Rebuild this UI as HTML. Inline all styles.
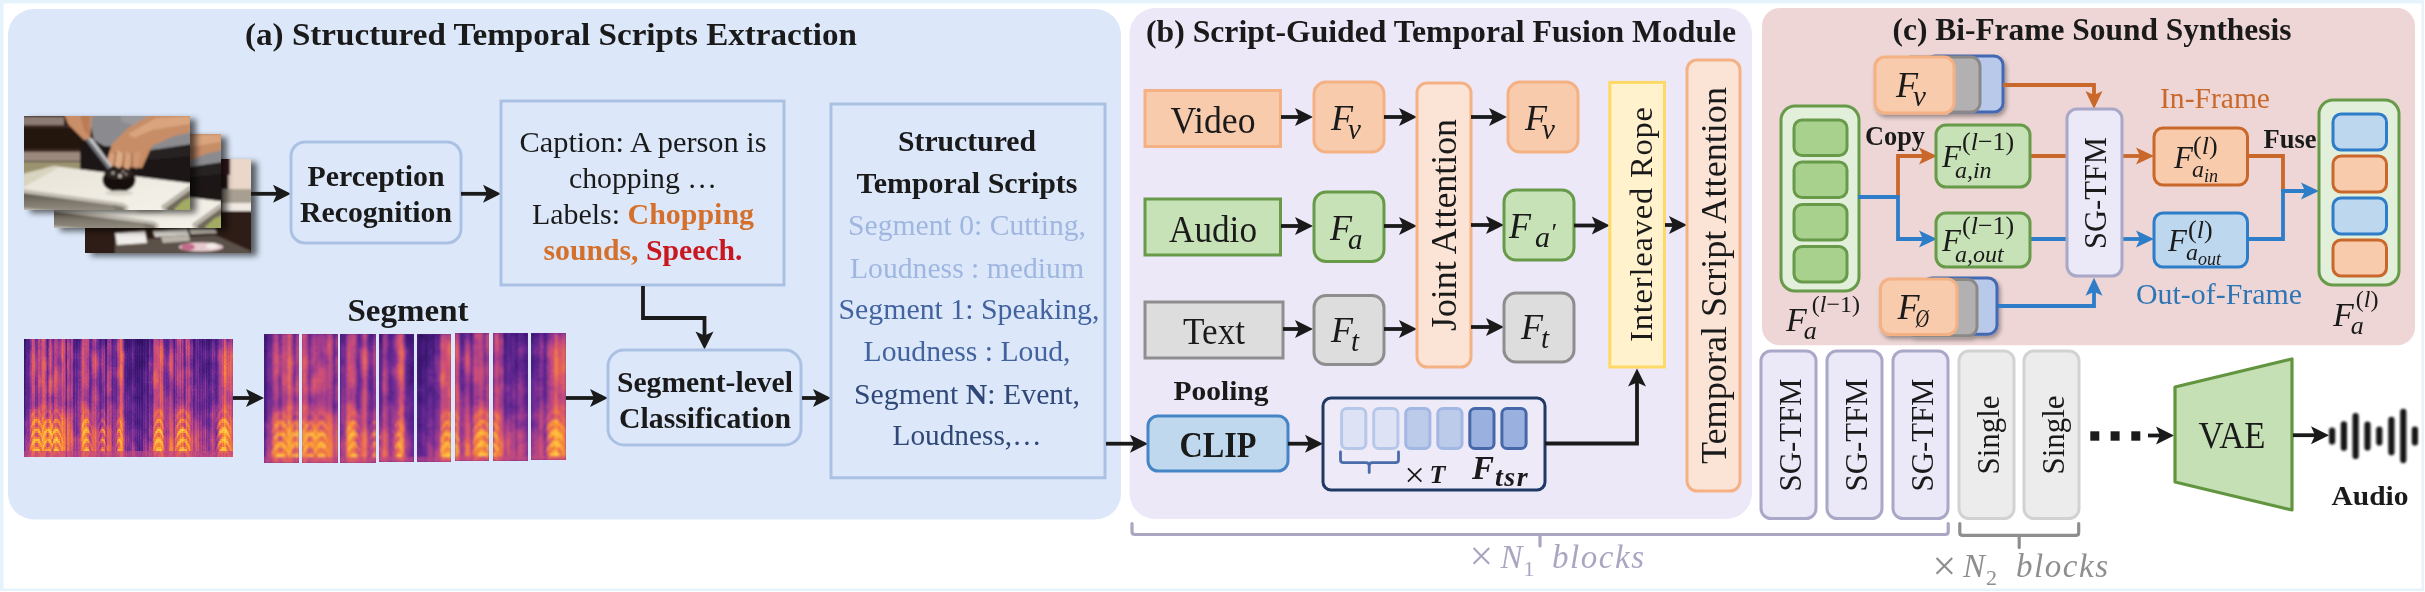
<!DOCTYPE html>
<html><head><meta charset="utf-8"><title>figure</title>
<style>
html,body{margin:0;padding:0;background:#ffffff;}
body{width:2425px;height:592px;overflow:hidden;}
svg{display:block;will-change:transform;font-family:"Liberation Serif",serif;}
</style></head><body>
<svg width="2425" height="592" viewBox="0 0 2425 592">
<defs>
<filter id="sh" x="-20%" y="-20%" width="150%" height="150%"><feGaussianBlur in="SourceAlpha" stdDeviation="3"/><feOffset dx="6" dy="3"/><feComponentTransfer><feFuncA type="linear" slope="0.6"/></feComponentTransfer><feMerge><feMergeNode/><feMergeNode in="SourceGraphic"/></feMerge></filter>
<filter id="sh2" x="-20%" y="-20%" width="150%" height="150%"><feGaussianBlur in="SourceAlpha" stdDeviation="2"/><feOffset dx="2" dy="3"/><feComponentTransfer><feFuncA type="linear" slope="0.35"/></feComponentTransfer><feMerge><feMergeNode/><feMergeNode in="SourceGraphic"/></feMerge></filter>
<filter id="b0"><feGaussianBlur stdDeviation="0.5"/></filter>
<filter id="b1"><feGaussianBlur stdDeviation="0.8"/></filter>
<filter id="b2"><feGaussianBlur stdDeviation="1.2"/></filter>
</defs>
<rect x="0" y="0" width="2425" height="592" fill="#ffffff" />
<path d="M0 0H2424V591H0Z M3.5 3.5V588.5H2421.5V3.5Z" fill="#e5f4fc" fill-rule="evenodd"/>
<rect x="8" y="9" width="1113" height="510.5" fill="#dce8fa" rx="26" ry="26" />
<rect x="1129.5" y="8" width="622.5" height="511" fill="#ece8f8" rx="26" ry="26" />
<rect x="1762" y="8" width="653" height="337.3" fill="#edd6d5" rx="18" ry="18" />
<text x="551" y="45" font-size="31" text-anchor="middle" fill="#1a1a1a" font-weight="bold" textLength="612" lengthAdjust="spacingAndGlyphs" >(a) Structured Temporal Scripts Extraction</text>
<defs>
<clipPath id="fc"><rect x="0" y="0" width="166" height="94"/></clipPath>
<linearGradient id="steel" x1="0" y1="0" x2="0" y2="1"><stop offset="0" stop-color="#5d584e"/><stop offset="0.5" stop-color="#7d776c"/><stop offset="1" stop-color="#969085"/></linearGradient>
<linearGradient id="board" x1="0" y1="0" x2="1" y2="1"><stop offset="0" stop-color="#e6e2d6"/><stop offset="1" stop-color="#f6f3ec"/></linearGradient>
<g id="kit" clip-path="url(#fc)"><g filter="url(#b1)">
<rect x="-3" y="-3" width="172" height="100" fill="#22120f"/>
<rect x="-2" y="1" width="42" height="8" fill="#8d7c73"/>
<rect x="-2" y="9" width="60" height="3" fill="#3a2620"/>
<rect x="-2" y="36" width="58" height="9" fill="#9a897c"/>
<rect x="-2" y="33" width="58" height="3" fill="#3c2a24"/>
<polygon points="-2,46 56,46 60,58 -2,66" fill="#9b9370"/>
<polygon points="64,-2 168,-2 168,31 128,34 96,32 80,30 70,24" fill="#8b8b8f"/>
<polygon points="96,-2 130,-2 112,10 98,6" fill="#9a9a9e"/>
<polygon points="56,30 62,26 80,30 128,34 168,28 168,72 56,56" fill="#1a1617"/>
<polygon points="120,36 168,30 168,40 126,44" fill="#252021"/>
<polygon points="168,-2 128,-2 104,12 88,28 83,44 90,50 118,52 128,30 150,20 168,16" fill="#c78d66"/>
<polygon points="132,2 166,0 166,8 128,14 110,22 104,18" fill="#d9a47e"/>
<polygon points="86,36 83,46 88,51 94,40" fill="#d6a07a"/>
<polygon points="93,34 91,50 96,53 100,38" fill="#dcaa86"/>
<polygon points="101,36 100,52 105,54 108,38" fill="#d5a07c"/>
<polygon points="109,36 109,50 113,53 117,36" fill="#cf9873"/>
<path d="M92 36 L90 50 M100 37 L99 52 M108 37 L108 52" stroke="#9c6240" stroke-width="1.3" fill="none"/>
<polygon points="40,-2 68,-2 67,12 66,24 60,24 52,16 44,8" fill="#c98f68"/>
<polygon points="56,-2 66,-2 65,20 60,14" fill="#b97b55"/>
<polygon points="61,23 68,22 88,50 84,53" fill="#c4c5c9"/>
<polygon points="61,23 64,22.5 86,51 84,53" fill="#6c6d72"/>
<polygon points="-2,64 22,52 30,50 168,67.5 168,96 -2,96" fill="url(#board)"/>
<polygon points="-2,58 22,52 30,50 34,52 -2,72" fill="#d9d4bf"/>
<ellipse cx="95" cy="64" rx="16.5" ry="12" fill="#15100e"/>
<ellipse cx="95" cy="58" rx="14.5" ry="5.5" fill="#2a211f"/>
<circle cx="89" cy="57" r="1.8" fill="#a89c96"/><circle cx="96" cy="60" r="2" fill="#c2b8b0"/><circle cx="102" cy="58" r="1.6" fill="#8c8079"/><circle cx="99" cy="55.5" r="1.3" fill="#9e928c"/>
<ellipse cx="95" cy="77" rx="14" ry="2.5" fill="#d6d1c6"/>
<polygon points="-2,73 99,87 104,90 104,96 -2,96" fill="#c2bdb3"/>
<polygon points="-2,77 96,90 100,96 -2,96" fill="url(#steel)"/>
<polygon points="-2,92 30,95 40,97 -2,97" fill="#c4c0b8"/>
<polygon points="88,89 100,91 101,96 92,96" fill="#7d776c"/>
<polygon points="137,90 166,69 170,69 170,96 140,96" fill="#b9b4a8"/>
<polygon points="142,92 168,73 170,96 144,96" fill="#6f685b"/>
<polygon points="150,93 160,84 170,80 170,96 152,96" fill="#a3ab62"/>
</g></g>
<g id="kit3" clip-path="url(#fc)"><g filter="url(#b1)">
<rect x="-3" y="-3" width="172" height="100" fill="#2d1a17"/>
<rect x="143" y="-2" width="26" height="50" fill="#ead7ca"/>
<rect x="136" y="-2" width="9" height="18" fill="#3a1d1c"/>
<rect x="137" y="30" width="32" height="16" fill="#a79f92"/>
<rect x="137" y="44" width="32" height="8" fill="#efe9e2"/>
<polygon points="137,52 169,56 169,96 137,96" fill="#2f1a19"/>
<polygon points="30,82 130,76 166,92 166,96 30,96" fill="#5b5149"/>
<polygon points="30,74 60,72 62,84 32,86" fill="#efecea"/>
<polygon points="68,72 102,70 104,76 70,78" fill="#ddd9d2"/>
<polygon points="76,78 104,76 105,82 78,84" fill="#b9b3aa"/>
<polygon points="104,70 130,70 132,74 106,75" fill="#cfc9bd"/>
<ellipse cx="116" cy="88" rx="22" ry="4.5" fill="#e6c9cf"/>
<ellipse cx="103" cy="88" rx="7" ry="3.5" fill="#c46a8a"/>
<ellipse cx="127" cy="87" rx="6" ry="3" fill="#f3ece6"/>
</g></g>
</defs>
<g filter="url(#sh)"><rect x="85" y="159" width="166" height="94" fill="#2d1a17"/></g>
<use href="#kit3" x="85" y="159"/>
<g filter="url(#sh)"><rect x="54" y="134" width="167" height="94" fill="#2b1a15"/></g>
<g transform="translate(54,134) scale(1.006,1)"><use href="#kit"/></g>
<g filter="url(#sh)"><rect x="24" y="116" width="166" height="94" fill="#2b1a15"/></g>
<use href="#kit" x="24" y="116"/>
<defs><clipPath id="cs0"><rect x="24" y="339" width="209" height="118"/></clipPath></defs>
<g clip-path="url(#cs0)"><g filter="url(#b0)" shape-rendering="crispEdges">
<rect x="20" y="335" width="217" height="126" fill="#5a2488" />
<path fill="#2e105e" d="M24 339h1v2h-1zM137 339h1v4h-1zM139 339h1v6h-1zM141 339h1v4h-1zM142 339h1v6h-1z"/>
<path fill="#341366" d="M24 341h1v6h-1zM24 351h1v8h-1zM105 339h1v2h-1zM127 339h1v2h-1zM135 339h1v2h-1zM137 343h1v4h-1zM137 355h1v2h-1zM137 359h1v12h-1zM138 339h1v2h-1zM139 345h1v2h-1zM139 355h1v16h-1zM140 339h1v2h-1zM141 343h1v4h-1zM141 359h1v8h-1zM142 345h1v22h-1zM147 339h1v6h-1z"/>
<path fill="#39166e" d="M24 347h1v4h-1zM24 359h1v4h-1zM24 365h1v6h-1zM24 375h1v6h-1zM24 383h1v6h-1zM24 391h1v2h-1zM25 339h1v4h-1zM105 341h1v2h-1zM106 339h1v4h-1zM125 339h1v8h-1zM127 341h1v6h-1zM129 339h1v2h-1zM130 339h1v2h-1zM131 339h1v2h-1zM135 341h1v4h-1zM135 359h1v4h-1zM135 365h1v4h-1zM135 371h1v2h-1zM135 375h1v2h-1zM136 339h1v4h-1zM137 347h1v8h-1zM137 357h1v2h-1zM137 371h1v12h-1zM137 395h1v6h-1zM138 341h1v4h-1zM139 347h1v8h-1zM139 371h1v14h-1zM139 395h1v8h-1zM140 341h1v2h-1zM141 347h1v12h-1zM141 367h1v2h-1zM142 367h1v4h-1zM142 389h1v2h-1zM142 393h1v2h-1zM144 339h1v8h-1zM147 345h1v12h-1zM148 339h1v2h-1zM202 339h1v2h-1zM206 339h1v4h-1zM208 339h1v4h-1zM209 339h1v2h-1z"/>
<path fill="#3f1875" d="M24 363h1v2h-1zM24 371h1v4h-1zM24 381h1v2h-1zM24 389h1v2h-1zM24 393h1v22h-1zM25 343h1v4h-1zM25 349h1v4h-1zM25 355h1v4h-1zM74 339h1v2h-1zM76 339h1v8h-1zM77 339h1v2h-1zM100 339h1v4h-1zM105 343h1v4h-1zM106 343h1v4h-1zM125 347h1v2h-1zM126 339h1v6h-1zM127 347h1v4h-1zM127 367h1v2h-1zM127 373h1v2h-1zM127 377h1v6h-1zM128 339h1v8h-1zM129 341h1v6h-1zM129 369h1v10h-1zM130 341h1v2h-1zM130 345h1v2h-1zM130 373h1v2h-1zM130 377h1v2h-1zM131 341h1v4h-1zM131 369h1v6h-1zM133 339h1v2h-1zM134 339h1v2h-1zM135 345h1v2h-1zM135 349h1v10h-1zM135 363h1v2h-1zM135 369h1v2h-1zM135 373h1v2h-1zM135 377h1v6h-1zM135 397h1v2h-1zM136 343h1v2h-1zM136 355h1v14h-1zM137 383h1v12h-1zM137 401h1v4h-1zM137 417h1v8h-1zM138 357h1v2h-1zM138 361h1v6h-1zM139 385h1v10h-1zM139 403h1v6h-1zM139 419h1v6h-1zM139 447h1v4h-1zM140 343h1v4h-1zM140 361h1v6h-1zM141 369h1v6h-1zM141 379h1v22h-1zM142 371h1v18h-1zM142 391h1v2h-1zM142 395h1v8h-1zM143 339h1v8h-1zM143 361h1v2h-1zM144 347h1v20h-1zM145 339h1v4h-1zM146 339h1v2h-1zM147 357h1v6h-1zM147 365h1v2h-1zM147 391h1v2h-1zM148 341h1v8h-1zM148 355h1v2h-1zM193 339h1v4h-1zM194 339h1v8h-1zM199 339h1v2h-1zM202 341h1v6h-1zM202 365h1v6h-1zM204 341h1v2h-1zM206 343h1v6h-1zM206 363h1v10h-1zM207 339h1v2h-1zM208 343h1v6h-1zM208 361h1v6h-1zM208 369h1v2h-1zM209 341h1v6h-1zM209 363h1v2h-1zM211 339h1v2h-1zM216 339h1v2h-1z"/>
<path fill="#471c7d" d="M24 415h1v4h-1zM25 347h1v2h-1zM25 353h1v2h-1zM25 359h1v10h-1zM25 373h1v8h-1zM25 383h1v6h-1zM25 393h1v2h-1zM26 339h1v4h-1zM28 339h1v4h-1zM28 347h1v2h-1zM47 339h1v2h-1zM66 339h1v4h-1zM74 341h1v10h-1zM74 363h1v4h-1zM76 347h1v4h-1zM77 341h1v4h-1zM79 339h1v4h-1zM99 339h1v2h-1zM105 347h1v2h-1zM106 347h1v6h-1zM106 355h1v4h-1zM106 363h1v2h-1zM112 339h1v2h-1zM125 349h1v2h-1zM125 365h1v18h-1zM125 389h1v2h-1zM126 345h1v4h-1zM127 351h1v2h-1zM127 357h1v10h-1zM127 369h1v4h-1zM127 375h1v2h-1zM127 383h1v8h-1zM128 347h1v2h-1zM128 367h1v18h-1zM129 347h1v10h-1zM129 359h1v10h-1zM129 379h1v8h-1zM130 343h1v2h-1zM130 347h1v4h-1zM130 357h1v2h-1zM130 361h1v12h-1zM130 375h1v2h-1zM130 379h1v6h-1zM131 345h1v6h-1zM131 357h1v4h-1zM131 363h1v6h-1zM131 375h1v8h-1zM133 341h1v4h-1zM133 369h1v8h-1zM134 341h1v4h-1zM134 355h1v2h-1zM134 359h1v2h-1zM134 363h1v12h-1zM134 397h1v2h-1zM135 347h1v2h-1zM135 383h1v4h-1zM135 393h1v4h-1zM135 399h1v4h-1zM135 415h1v2h-1zM135 419h1v6h-1zM136 345h1v10h-1zM136 369h1v14h-1zM136 395h1v4h-1zM137 405h1v12h-1zM137 425h1v4h-1zM137 441h1v6h-1zM138 345h1v2h-1zM138 349h1v8h-1zM138 359h1v2h-1zM138 367h1v4h-1zM138 373h1v2h-1zM138 377h1v6h-1zM138 397h1v2h-1zM139 409h1v10h-1zM139 425h1v6h-1zM139 439h1v8h-1zM140 347h1v6h-1zM140 355h1v6h-1zM140 367h1v2h-1zM140 397h1v2h-1zM141 375h1v4h-1zM141 401h1v8h-1zM141 419h1v2h-1zM141 423h1v4h-1zM142 403h1v28h-1zM143 347h1v6h-1zM143 355h1v6h-1zM143 363h1v4h-1zM144 367h1v4h-1zM144 385h1v8h-1zM145 343h1v10h-1zM145 361h1v2h-1zM146 341h1v16h-1zM147 363h1v2h-1zM147 367h1v4h-1zM147 377h1v4h-1zM147 383h1v8h-1zM147 393h1v10h-1zM147 407h1v2h-1zM148 349h1v6h-1zM148 357h1v4h-1zM148 385h1v6h-1zM148 393h1v4h-1zM148 399h1v2h-1zM151 339h1v6h-1zM152 339h1v6h-1zM174 339h1v8h-1zM193 343h1v8h-1zM193 355h1v12h-1zM194 347h1v8h-1zM194 357h1v10h-1zM199 341h1v4h-1zM199 357h1v2h-1zM199 361h1v2h-1zM199 367h1v6h-1zM200 339h1v4h-1zM201 341h1v2h-1zM202 347h1v6h-1zM202 357h1v8h-1zM202 371h1v8h-1zM203 339h1v6h-1zM203 369h1v4h-1zM204 339h1v2h-1zM204 343h1v4h-1zM204 363h1v10h-1zM206 349h1v2h-1zM206 359h1v4h-1zM206 373h1v6h-1zM207 341h1v4h-1zM207 363h1v2h-1zM207 367h1v2h-1zM208 349h1v2h-1zM208 359h1v2h-1zM208 367h1v2h-1zM208 371h1v14h-1zM209 347h1v4h-1zM209 357h1v6h-1zM209 365h1v12h-1zM209 379h1v4h-1zM209 397h1v2h-1zM210 339h1v6h-1zM211 341h1v2h-1zM211 363h1v2h-1zM215 339h1v6h-1zM216 341h1v4h-1zM216 363h1v2h-1z"/>
<path fill="#522186" d="M24 419h1v2h-1zM24 425h1v2h-1zM24 429h1v6h-1zM25 369h1v4h-1zM25 381h1v2h-1zM25 389h1v4h-1zM25 395h1v22h-1zM26 343h1v10h-1zM26 355h1v4h-1zM26 391h1v2h-1zM27 339h1v16h-1zM27 383h1v2h-1zM27 387h1v2h-1zM28 343h1v4h-1zM28 349h1v4h-1zM28 363h1v2h-1zM28 385h1v2h-1zM28 389h1v2h-1zM29 341h1v8h-1zM47 341h1v8h-1zM66 343h1v6h-1zM66 351h1v10h-1zM66 363h1v2h-1zM66 369h1v2h-1zM66 375h1v10h-1zM66 401h1v6h-1zM73 339h1v2h-1zM73 343h1v6h-1zM73 363h1v6h-1zM73 397h1v2h-1zM74 351h1v4h-1zM74 357h1v6h-1zM74 367h1v6h-1zM74 375h1v14h-1zM74 391h1v12h-1zM75 339h1v8h-1zM76 351h1v4h-1zM76 359h1v10h-1zM76 377h1v2h-1zM76 381h1v2h-1zM77 345h1v6h-1zM77 365h1v2h-1zM78 339h1v4h-1zM79 343h1v6h-1zM80 339h1v2h-1zM90 339h1v2h-1zM99 341h1v6h-1zM100 343h1v6h-1zM100 373h1v2h-1zM100 383h1v10h-1zM100 405h1v2h-1zM101 339h1v6h-1zM103 339h1v2h-1zM105 349h1v8h-1zM105 359h1v4h-1zM105 397h1v6h-1zM106 353h1v2h-1zM106 359h1v4h-1zM106 365h1v8h-1zM106 395h1v6h-1zM112 341h1v4h-1zM112 349h1v2h-1zM112 355h1v4h-1zM112 383h1v2h-1zM112 395h1v6h-1zM113 339h1v2h-1zM124 339h1v10h-1zM125 351h1v4h-1zM125 359h1v6h-1zM125 383h1v6h-1zM125 391h1v8h-1zM125 411h1v6h-1zM126 349h1v4h-1zM126 363h1v4h-1zM126 369h1v4h-1zM126 377h1v10h-1zM127 353h1v4h-1zM127 391h1v4h-1zM127 411h1v8h-1zM127 421h1v2h-1zM128 349h1v6h-1zM128 357h1v10h-1zM128 385h1v4h-1zM129 357h1v2h-1zM129 387h1v8h-1zM129 411h1v10h-1zM130 351h1v6h-1zM130 359h1v2h-1zM130 385h1v6h-1zM130 395h1v2h-1zM130 411h1v2h-1zM130 417h1v2h-1zM130 421h1v4h-1zM131 351h1v6h-1zM131 361h1v2h-1zM131 383h1v20h-1zM131 411h1v14h-1zM132 339h1v4h-1zM132 367h1v4h-1zM132 373h1v4h-1zM133 345h1v4h-1zM133 351h1v2h-1zM133 361h1v8h-1zM133 377h1v4h-1zM133 395h1v6h-1zM134 345h1v10h-1zM134 357h1v2h-1zM134 361h1v2h-1zM134 375h1v12h-1zM134 395h1v2h-1zM134 399h1v2h-1zM135 387h1v6h-1zM135 403h1v12h-1zM135 417h1v2h-1zM135 425h1v2h-1zM135 439h1v2h-1zM136 383h1v12h-1zM136 399h1v4h-1zM136 419h1v6h-1zM137 429h1v12h-1zM137 447h1v4h-1zM138 347h1v2h-1zM138 371h1v2h-1zM138 375h1v2h-1zM138 383h1v4h-1zM138 389h1v8h-1zM138 399h1v4h-1zM138 421h1v4h-1zM139 431h1v8h-1zM140 353h1v2h-1zM140 369h1v20h-1zM140 391h1v6h-1zM140 399h1v4h-1zM141 409h1v10h-1zM141 421h1v2h-1zM141 427h1v8h-1zM141 443h1v2h-1zM141 447h1v4h-1zM142 431h1v12h-1zM142 445h1v6h-1zM143 353h1v2h-1zM143 367h1v4h-1zM143 383h1v2h-1zM143 387h1v8h-1zM144 371h1v14h-1zM144 393h1v18h-1zM144 429h1v2h-1zM145 353h1v8h-1zM145 363h1v4h-1zM145 389h1v4h-1zM146 357h1v8h-1zM146 389h1v2h-1zM147 371h1v6h-1zM147 381h1v2h-1zM147 403h1v4h-1zM147 409h1v12h-1zM147 425h1v2h-1zM147 429h1v2h-1zM148 361h1v16h-1zM148 379h1v2h-1zM148 383h1v2h-1zM148 391h1v2h-1zM148 397h1v2h-1zM148 401h1v12h-1zM150 339h1v4h-1zM151 345h1v6h-1zM152 345h1v12h-1zM152 395h1v2h-1zM164 339h1v4h-1zM166 339h1v10h-1zM167 339h1v8h-1zM168 341h1v2h-1zM173 339h1v2h-1zM174 347h1v2h-1zM174 385h1v20h-1zM184 363h1v2h-1zM193 351h1v4h-1zM193 367h1v6h-1zM193 375h1v10h-1zM193 399h1v4h-1zM194 355h1v2h-1zM194 367h1v18h-1zM194 397h1v4h-1zM195 339h1v10h-1zM197 339h1v2h-1zM197 343h1v2h-1zM197 347h1v2h-1zM197 351h1v8h-1zM199 345h1v12h-1zM199 359h1v2h-1zM199 363h1v4h-1zM199 373h1v10h-1zM199 401h1v6h-1zM200 343h1v6h-1zM200 351h1v12h-1zM200 365h1v10h-1zM201 339h1v2h-1zM201 343h1v2h-1zM202 353h1v4h-1zM202 379h1v6h-1zM202 405h1v6h-1zM203 345h1v4h-1zM203 361h1v8h-1zM203 373h1v4h-1zM204 347h1v4h-1zM204 359h1v4h-1zM204 373h1v4h-1zM206 351h1v8h-1zM206 379h1v4h-1zM206 385h1v2h-1zM206 395h1v2h-1zM206 399h1v10h-1zM206 421h1v2h-1zM207 345h1v6h-1zM207 359h1v4h-1zM207 365h1v2h-1zM207 369h1v4h-1zM207 375h1v2h-1zM208 351h1v8h-1zM208 385h1v4h-1zM208 395h1v14h-1zM209 351h1v6h-1zM209 377h1v2h-1zM209 383h1v4h-1zM209 391h1v6h-1zM209 399h1v10h-1zM210 345h1v4h-1zM210 361h1v10h-1zM210 373h1v8h-1zM211 343h1v6h-1zM211 359h1v4h-1zM211 365h1v4h-1zM211 379h1v2h-1zM211 397h1v4h-1zM215 345h1v4h-1zM215 363h1v4h-1zM215 377h1v8h-1zM215 389h1v4h-1zM216 345h1v6h-1zM216 361h1v2h-1zM216 365h1v6h-1zM216 375h1v10h-1zM216 387h1v14h-1zM217 339h1v6h-1z"/>
<path fill="#5d258f" d="M24 421h1v4h-1zM24 427h1v2h-1zM24 435h1v2h-1zM25 417h1v4h-1zM26 353h1v2h-1zM26 359h1v32h-1zM26 393h1v4h-1zM26 401h1v8h-1zM27 355h1v12h-1zM27 369h1v4h-1zM27 375h1v8h-1zM27 385h1v2h-1zM27 389h1v20h-1zM28 353h1v10h-1zM28 365h1v4h-1zM28 371h1v2h-1zM28 375h1v10h-1zM28 387h1v2h-1zM28 391h1v16h-1zM29 339h1v2h-1zM29 349h1v4h-1zM29 387h1v10h-1zM47 349h1v8h-1zM47 371h1v2h-1zM53 339h1v2h-1zM66 349h1v2h-1zM66 361h1v2h-1zM66 365h1v4h-1zM66 371h1v4h-1zM66 385h1v4h-1zM66 393h1v2h-1zM66 397h1v4h-1zM66 407h1v4h-1zM73 341h1v2h-1zM73 349h1v4h-1zM73 359h1v4h-1zM73 369h1v28h-1zM73 399h1v8h-1zM74 355h1v2h-1zM74 373h1v2h-1zM74 389h1v2h-1zM74 403h1v4h-1zM75 347h1v2h-1zM75 361h1v2h-1zM76 355h1v4h-1zM76 369h1v8h-1zM76 379h1v2h-1zM76 383h1v22h-1zM77 351h1v2h-1zM77 359h1v6h-1zM77 367h1v4h-1zM77 377h1v6h-1zM77 385h1v2h-1zM78 343h1v6h-1zM79 349h1v4h-1zM80 341h1v4h-1zM89 387h1v8h-1zM89 397h1v4h-1zM90 341h1v8h-1zM90 363h1v8h-1zM90 375h1v2h-1zM90 379h1v16h-1zM90 401h1v2h-1zM91 339h1v2h-1zM91 345h1v4h-1zM98 343h1v2h-1zM99 347h1v2h-1zM99 375h1v16h-1zM100 349h1v4h-1zM100 369h1v4h-1zM100 375h1v8h-1zM100 393h1v12h-1zM100 407h1v2h-1zM101 345h1v2h-1zM101 385h1v8h-1zM101 401h1v2h-1zM102 339h1v2h-1zM103 341h1v4h-1zM104 339h1v4h-1zM105 357h1v2h-1zM105 363h1v22h-1zM105 387h1v2h-1zM105 391h1v6h-1zM105 403h1v8h-1zM106 373h1v10h-1zM106 393h1v2h-1zM106 401h1v8h-1zM106 411h1v2h-1zM112 345h1v4h-1zM112 351h1v4h-1zM112 359h1v8h-1zM112 369h1v2h-1zM112 375h1v8h-1zM112 385h1v10h-1zM112 401h1v2h-1zM113 341h1v4h-1zM113 353h1v2h-1zM113 357h1v2h-1zM113 379h1v2h-1zM113 397h1v2h-1zM114 339h1v4h-1zM114 385h1v4h-1zM115 339h1v2h-1zM116 339h1v2h-1zM116 353h1v14h-1zM116 381h1v22h-1zM124 349h1v2h-1zM125 355h1v4h-1zM125 399h1v12h-1zM125 417h1v4h-1zM126 353h1v4h-1zM126 359h1v4h-1zM126 367h1v2h-1zM126 373h1v4h-1zM126 387h1v6h-1zM126 415h1v2h-1zM127 395h1v16h-1zM127 419h1v2h-1zM127 423h1v6h-1zM128 355h1v2h-1zM128 389h1v6h-1zM128 411h1v14h-1zM129 395h1v16h-1zM129 421h1v10h-1zM130 391h1v4h-1zM130 397h1v6h-1zM130 409h1v2h-1zM130 413h1v4h-1zM130 419h1v2h-1zM130 425h1v4h-1zM131 403h1v8h-1zM131 425h1v4h-1zM132 343h1v4h-1zM132 363h1v4h-1zM132 371h1v2h-1zM132 377h1v4h-1zM132 397h1v2h-1zM133 349h1v2h-1zM133 353h1v8h-1zM133 381h1v6h-1zM133 391h1v4h-1zM133 401h1v2h-1zM133 413h1v10h-1zM134 387h1v8h-1zM134 401h1v2h-1zM134 409h1v2h-1zM134 413h1v14h-1zM135 427h1v4h-1zM135 435h1v4h-1zM135 441h1v2h-1zM136 403h1v16h-1zM136 425h1v4h-1zM136 439h1v4h-1zM138 387h1v2h-1zM138 403h1v4h-1zM138 409h1v2h-1zM138 413h1v2h-1zM138 417h1v4h-1zM138 425h1v4h-1zM138 445h1v2h-1zM140 389h1v2h-1zM140 403h1v4h-1zM140 409h1v6h-1zM140 419h1v8h-1zM140 447h1v2h-1zM141 435h1v8h-1zM141 445h1v2h-1zM142 443h1v2h-1zM143 371h1v12h-1zM143 385h1v2h-1zM143 395h1v18h-1zM144 411h1v18h-1zM144 431h1v2h-1zM145 367h1v4h-1zM145 383h1v6h-1zM145 393h1v2h-1zM146 365h1v6h-1zM146 375h1v2h-1zM146 383h1v6h-1zM146 391h1v8h-1zM146 405h1v2h-1zM147 421h1v4h-1zM147 427h1v2h-1zM147 431h1v10h-1zM148 377h1v2h-1zM148 381h1v2h-1zM148 413h1v16h-1zM148 431h1v4h-1zM148 437h1v4h-1zM149 339h1v2h-1zM150 343h1v16h-1zM150 395h1v6h-1zM151 351h1v6h-1zM151 395h1v6h-1zM152 357h1v4h-1zM152 389h1v6h-1zM152 397h1v6h-1zM164 343h1v4h-1zM165 339h1v8h-1zM166 349h1v6h-1zM166 373h1v2h-1zM166 377h1v2h-1zM166 381h1v8h-1zM167 347h1v4h-1zM167 387h1v2h-1zM168 339h1v2h-1zM168 343h1v8h-1zM168 385h1v2h-1zM173 341h1v4h-1zM173 391h1v2h-1zM174 349h1v6h-1zM174 357h1v6h-1zM174 377h1v8h-1zM174 405h1v4h-1zM184 339h1v6h-1zM184 347h1v16h-1zM184 365h1v2h-1zM184 387h1v2h-1zM184 391h1v8h-1zM191 363h1v2h-1zM192 339h1v2h-1zM193 373h1v2h-1zM193 385h1v4h-1zM193 391h1v2h-1zM193 395h1v4h-1zM193 403h1v8h-1zM194 385h1v2h-1zM194 393h1v4h-1zM194 401h1v10h-1zM194 413h1v2h-1zM195 349h1v8h-1zM195 359h1v2h-1zM195 363h1v2h-1zM195 379h1v2h-1zM197 341h1v2h-1zM197 345h1v2h-1zM197 349h1v2h-1zM197 359h1v10h-1zM197 371h1v2h-1zM197 375h1v14h-1zM197 391h1v8h-1zM197 401h1v10h-1zM199 383h1v18h-1zM199 407h1v8h-1zM200 349h1v2h-1zM200 363h1v2h-1zM200 375h1v14h-1zM200 403h1v8h-1zM201 345h1v6h-1zM201 355h1v24h-1zM202 385h1v20h-1zM202 411h1v4h-1zM202 417h1v8h-1zM203 349h1v4h-1zM203 355h1v6h-1zM203 377h1v4h-1zM203 405h1v2h-1zM204 351h1v8h-1zM204 377h1v6h-1zM204 399h1v10h-1zM205 339h1v8h-1zM205 361h1v12h-1zM206 383h1v2h-1zM206 387h1v8h-1zM206 397h1v2h-1zM206 409h1v4h-1zM206 415h1v6h-1zM206 423h1v6h-1zM207 351h1v4h-1zM207 357h1v2h-1zM207 373h1v2h-1zM207 377h1v4h-1zM207 401h1v2h-1zM208 389h1v6h-1zM208 409h1v4h-1zM208 417h1v10h-1zM209 387h1v4h-1zM209 409h1v4h-1zM209 419h1v2h-1zM209 423h1v4h-1zM210 349h1v4h-1zM210 355h1v6h-1zM210 371h1v2h-1zM210 381h1v4h-1zM210 393h1v12h-1zM211 349h1v6h-1zM211 357h1v2h-1zM211 369h1v10h-1zM211 381h1v6h-1zM211 393h1v4h-1zM211 401h1v4h-1zM212 339h1v2h-1zM213 339h1v4h-1zM213 363h1v2h-1zM213 367h1v2h-1zM213 381h1v2h-1zM213 397h1v2h-1zM214 339h1v4h-1zM214 363h1v2h-1zM214 379h1v4h-1zM215 349h1v2h-1zM215 357h1v6h-1zM215 367h1v10h-1zM215 385h1v4h-1zM215 393h1v10h-1zM216 351h1v10h-1zM216 371h1v4h-1zM216 385h1v2h-1zM216 401h1v2h-1zM217 345h1v4h-1zM217 365h1v4h-1zM217 377h1v8h-1zM217 387h1v2h-1zM217 397h1v2h-1zM218 339h1v6h-1z"/>
<path fill="#6c2b93" d="M24 437h1v14h-1zM25 421h1v2h-1zM25 427h1v8h-1zM26 397h1v4h-1zM26 409h1v8h-1zM27 367h1v2h-1zM27 373h1v2h-1zM27 409h1v8h-1zM28 369h1v2h-1zM28 373h1v2h-1zM28 407h1v8h-1zM28 417h1v2h-1zM29 353h1v18h-1zM29 377h1v10h-1zM29 397h1v12h-1zM30 343h1v6h-1zM35 339h1v6h-1zM35 381h1v4h-1zM35 397h1v10h-1zM36 339h1v4h-1zM36 345h1v4h-1zM37 339h1v2h-1zM37 395h1v10h-1zM46 339h1v6h-1zM46 349h1v2h-1zM47 357h1v4h-1zM47 365h1v6h-1zM47 373h1v8h-1zM47 383h1v2h-1zM47 393h1v8h-1zM48 339h1v8h-1zM52 339h1v2h-1zM53 341h1v4h-1zM53 347h1v2h-1zM53 355h1v4h-1zM53 397h1v6h-1zM58 339h1v2h-1zM65 403h1v2h-1zM66 389h1v4h-1zM66 395h1v2h-1zM66 411h1v2h-1zM70 339h1v4h-1zM73 353h1v6h-1zM73 407h1v2h-1zM73 421h1v2h-1zM74 407h1v8h-1zM74 417h1v14h-1zM75 349h1v4h-1zM75 359h1v2h-1zM75 363h1v6h-1zM75 377h1v6h-1zM75 393h1v2h-1zM76 405h1v8h-1zM76 417h1v18h-1zM77 353h1v6h-1zM77 371h1v6h-1zM77 383h1v2h-1zM77 387h1v14h-1zM77 427h1v6h-1zM78 349h1v4h-1zM78 361h1v8h-1zM79 353h1v18h-1zM79 375h1v4h-1zM79 381h1v2h-1zM79 385h1v4h-1zM80 345h1v6h-1zM89 339h1v2h-1zM89 343h1v6h-1zM89 357h1v16h-1zM89 375h1v2h-1zM89 379h1v8h-1zM89 395h1v2h-1zM89 401h1v6h-1zM90 349h1v6h-1zM90 357h1v6h-1zM90 371h1v4h-1zM90 377h1v2h-1zM90 395h1v6h-1zM90 403h1v4h-1zM91 341h1v4h-1zM91 349h1v2h-1zM91 377h1v10h-1zM96 347h1v2h-1zM97 339h1v12h-1zM98 339h1v4h-1zM98 345h1v6h-1zM99 349h1v8h-1zM99 367h1v8h-1zM99 391h1v6h-1zM99 401h1v10h-1zM99 419h1v2h-1zM100 353h1v10h-1zM100 365h1v4h-1zM100 409h1v2h-1zM100 413h1v6h-1zM100 425h1v4h-1zM101 347h1v2h-1zM101 373h1v12h-1zM101 393h1v8h-1zM101 403h1v6h-1zM102 341h1v4h-1zM103 345h1v2h-1zM103 391h1v2h-1zM103 395h1v8h-1zM104 343h1v2h-1zM105 385h1v2h-1zM105 389h1v2h-1zM105 411h1v2h-1zM105 419h1v2h-1zM106 383h1v10h-1zM106 409h1v2h-1zM106 413h1v4h-1zM106 421h1v4h-1zM111 339h1v6h-1zM111 355h1v6h-1zM111 397h1v2h-1zM112 367h1v2h-1zM112 371h1v4h-1zM112 403h1v2h-1zM112 417h1v2h-1zM112 425h1v2h-1zM113 345h1v8h-1zM113 355h1v2h-1zM113 359h1v8h-1zM113 377h1v2h-1zM113 381h1v16h-1zM113 399h1v2h-1zM114 343h1v24h-1zM114 377h1v8h-1zM114 389h1v14h-1zM115 341h1v4h-1zM115 351h1v16h-1zM115 379h1v24h-1zM116 341h1v4h-1zM116 351h1v2h-1zM116 367h1v4h-1zM116 377h1v4h-1zM116 403h1v6h-1zM123 339h1v2h-1zM124 365h1v34h-1zM124 403h1v2h-1zM124 409h1v6h-1zM125 421h1v12h-1zM125 447h1v2h-1zM126 357h1v2h-1zM126 393h1v8h-1zM126 407h1v8h-1zM126 417h1v4h-1zM126 423h1v2h-1zM127 429h1v6h-1zM127 447h1v4h-1zM128 395h1v2h-1zM128 399h1v12h-1zM128 425h1v6h-1zM128 447h1v2h-1zM129 431h1v4h-1zM129 439h1v2h-1zM129 447h1v4h-1zM130 403h1v6h-1zM130 429h1v4h-1zM130 435h1v4h-1zM131 429h1v14h-1zM132 347h1v6h-1zM132 359h1v4h-1zM132 381h1v4h-1zM132 391h1v6h-1zM132 399h1v6h-1zM132 411h1v4h-1zM132 419h1v2h-1zM133 387h1v4h-1zM133 403h1v10h-1zM133 423h1v6h-1zM133 439h1v2h-1zM134 403h1v6h-1zM134 411h1v2h-1zM134 427h1v2h-1zM134 437h1v4h-1zM135 431h1v4h-1zM135 443h1v8h-1zM136 429h1v2h-1zM136 433h1v6h-1zM136 443h1v4h-1zM136 449h1v2h-1zM138 407h1v2h-1zM138 411h1v2h-1zM138 415h1v2h-1zM138 429h1v4h-1zM138 435h1v10h-1zM138 447h1v4h-1zM140 407h1v2h-1zM140 415h1v4h-1zM140 427h1v4h-1zM140 435h1v2h-1zM140 439h1v8h-1zM140 449h1v2h-1zM143 413h1v22h-1zM144 433h1v6h-1zM145 371h1v12h-1zM145 395h1v24h-1zM145 429h1v4h-1zM146 371h1v4h-1zM146 377h1v6h-1zM146 399h1v6h-1zM146 407h1v8h-1zM146 419h1v2h-1zM146 423h1v2h-1zM146 427h1v6h-1zM147 441h1v4h-1zM148 429h1v2h-1zM148 435h1v2h-1zM148 441h1v2h-1zM149 341h1v8h-1zM149 355h1v2h-1zM149 393h1v6h-1zM149 401h1v2h-1zM150 371h1v10h-1zM150 383h1v12h-1zM150 401h1v12h-1zM150 423h1v2h-1zM151 357h1v6h-1zM151 367h1v8h-1zM151 385h1v10h-1zM151 401h1v6h-1zM151 409h1v2h-1zM151 413h1v2h-1zM151 421h1v2h-1zM152 361h1v14h-1zM152 383h1v6h-1zM152 403h1v12h-1zM152 417h1v10h-1zM163 339h1v2h-1zM164 347h1v2h-1zM164 351h1v2h-1zM164 371h1v16h-1zM164 389h1v2h-1zM165 347h1v4h-1zM165 373h1v2h-1zM165 377h1v2h-1zM166 355h1v6h-1zM166 367h1v6h-1zM166 375h1v2h-1zM166 379h1v2h-1zM166 389h1v8h-1zM167 351h1v6h-1zM167 373h1v14h-1zM167 389h1v4h-1zM168 351h1v4h-1zM168 377h1v8h-1zM168 387h1v8h-1zM169 339h1v6h-1zM172 339h1v2h-1zM173 345h1v4h-1zM173 385h1v6h-1zM173 393h1v6h-1zM173 401h1v2h-1zM174 355h1v2h-1zM174 363h1v14h-1zM174 409h1v4h-1zM176 385h1v12h-1zM176 401h1v2h-1zM181 397h1v2h-1zM184 345h1v2h-1zM184 367h1v4h-1zM184 377h1v10h-1zM184 389h1v2h-1zM184 399h1v4h-1zM185 359h1v8h-1zM190 339h1v6h-1zM190 359h1v2h-1zM190 363h1v4h-1zM191 339h1v4h-1zM191 359h1v4h-1zM191 365h1v4h-1zM192 341h1v2h-1zM192 359h1v10h-1zM193 389h1v2h-1zM193 393h1v2h-1zM193 411h1v8h-1zM194 387h1v2h-1zM194 391h1v2h-1zM194 411h1v2h-1zM194 415h1v2h-1zM195 357h1v2h-1zM195 361h1v2h-1zM195 365h1v14h-1zM195 381h1v4h-1zM195 403h1v2h-1zM196 339h1v24h-1zM196 379h1v4h-1zM197 369h1v2h-1zM197 373h1v2h-1zM197 389h1v2h-1zM197 399h1v2h-1zM197 411h1v4h-1zM198 339h1v22h-1zM199 415h1v6h-1zM200 389h1v14h-1zM200 411h1v4h-1zM201 351h1v4h-1zM201 379h1v6h-1zM201 401h1v8h-1zM202 415h1v2h-1zM202 425h1v2h-1zM203 353h1v2h-1zM203 381h1v8h-1zM203 391h1v2h-1zM203 399h1v6h-1zM203 407h1v4h-1zM204 383h1v16h-1zM204 409h1v16h-1zM205 347h1v4h-1zM205 359h1v2h-1zM205 373h1v4h-1zM206 413h1v2h-1zM206 429h1v2h-1zM206 439h1v2h-1zM207 355h1v2h-1zM207 381h1v20h-1zM207 403h1v6h-1zM207 419h1v6h-1zM208 413h1v4h-1zM208 427h1v4h-1zM209 413h1v6h-1zM209 421h1v2h-1zM209 427h1v4h-1zM210 353h1v2h-1zM210 385h1v8h-1zM210 405h1v6h-1zM211 355h1v2h-1zM211 387h1v6h-1zM211 405h1v4h-1zM212 341h1v2h-1zM212 363h1v6h-1zM212 379h1v2h-1zM213 343h1v6h-1zM213 357h1v6h-1zM213 365h1v2h-1zM213 369h1v12h-1zM213 383h1v8h-1zM213 393h1v4h-1zM213 399h1v2h-1zM214 343h1v4h-1zM214 349h1v2h-1zM214 361h1v2h-1zM214 365h1v6h-1zM214 373h1v6h-1zM214 383h1v8h-1zM214 393h1v6h-1zM215 351h1v6h-1zM215 403h1v2h-1zM215 429h1v2h-1zM216 403h1v2h-1zM216 431h1v4h-1zM217 349h1v4h-1zM217 359h1v6h-1zM217 369h1v8h-1zM217 385h1v2h-1zM217 389h1v8h-1zM217 399h1v6h-1zM218 345h1v4h-1zM227 339h1v2h-1z"/>
<path fill="#813191" d="M25 423h1v4h-1zM25 435h1v4h-1zM26 417h1v4h-1zM26 427h1v6h-1zM27 417h1v4h-1zM27 425h1v2h-1zM27 431h1v4h-1zM28 415h1v2h-1zM28 419h1v10h-1zM28 431h1v2h-1zM28 435h1v2h-1zM29 371h1v6h-1zM29 409h1v4h-1zM30 339h1v4h-1zM30 349h1v2h-1zM30 383h1v2h-1zM30 387h1v2h-1zM30 391h1v2h-1zM30 395h1v4h-1zM30 401h1v2h-1zM31 345h1v2h-1zM31 403h1v2h-1zM35 345h1v8h-1zM35 377h1v4h-1zM35 385h1v12h-1zM36 343h1v2h-1zM36 349h1v2h-1zM36 377h1v10h-1zM36 389h1v16h-1zM37 341h1v12h-1zM37 377h1v2h-1zM37 381h1v4h-1zM37 387h1v8h-1zM37 405h1v2h-1zM46 345h1v4h-1zM46 351h1v6h-1zM47 361h1v4h-1zM47 381h1v2h-1zM47 385h1v8h-1zM47 401h1v4h-1zM47 413h1v4h-1zM48 347h1v2h-1zM48 351h1v2h-1zM48 355h1v2h-1zM48 371h1v4h-1zM48 397h1v2h-1zM51 397h1v2h-1zM52 341h1v4h-1zM52 395h1v8h-1zM53 345h1v2h-1zM53 349h1v6h-1zM53 359h1v12h-1zM53 393h1v4h-1zM53 403h1v6h-1zM58 341h1v2h-1zM58 357h1v8h-1zM59 339h1v2h-1zM59 361h1v2h-1zM60 339h1v2h-1zM60 359h1v8h-1zM65 339h1v4h-1zM65 353h1v10h-1zM65 399h1v4h-1zM65 405h1v2h-1zM66 413h1v4h-1zM69 339h1v2h-1zM70 343h1v2h-1zM70 355h1v2h-1zM70 359h1v12h-1zM70 373h1v10h-1zM70 399h1v10h-1zM73 409h1v4h-1zM73 415h1v2h-1zM73 419h1v2h-1zM73 423h1v8h-1zM74 415h1v2h-1zM74 431h1v6h-1zM75 353h1v6h-1zM75 369h1v8h-1zM75 383h1v10h-1zM75 395h1v10h-1zM76 413h1v4h-1zM76 435h1v2h-1zM77 401h1v26h-1zM77 433h1v2h-1zM78 353h1v8h-1zM78 369h1v16h-1zM78 387h1v2h-1zM78 431h1v2h-1zM79 371h1v4h-1zM79 379h1v2h-1zM79 383h1v2h-1zM79 389h1v8h-1zM79 399h1v4h-1zM80 351h1v20h-1zM80 377h1v2h-1zM80 381h1v8h-1zM80 391h1v6h-1zM81 339h1v4h-1zM89 341h1v2h-1zM89 349h1v8h-1zM89 373h1v2h-1zM89 377h1v2h-1zM89 407h1v4h-1zM90 355h1v2h-1zM90 407h1v4h-1zM91 351h1v2h-1zM91 361h1v2h-1zM91 367h1v10h-1zM91 387h1v10h-1zM91 401h1v2h-1zM92 339h1v10h-1zM92 379h1v2h-1zM92 383h1v2h-1zM94 347h1v2h-1zM96 341h1v6h-1zM96 379h1v6h-1zM97 351h1v2h-1zM97 377h1v14h-1zM97 407h1v2h-1zM98 373h1v16h-1zM98 421h1v2h-1zM99 357h1v10h-1zM99 397h1v4h-1zM99 411h1v2h-1zM99 415h1v4h-1zM99 421h1v2h-1zM99 427h1v4h-1zM100 363h1v2h-1zM100 411h1v2h-1zM100 419h1v2h-1zM100 423h1v2h-1zM101 349h1v10h-1zM101 367h1v6h-1zM101 413h1v4h-1zM101 423h1v2h-1zM102 345h1v4h-1zM102 383h1v26h-1zM103 347h1v4h-1zM103 353h1v2h-1zM103 381h1v10h-1zM103 393h1v2h-1zM103 403h1v6h-1zM104 345h1v4h-1zM105 413h1v6h-1zM105 421h1v2h-1zM106 417h1v4h-1zM107 339h1v4h-1zM109 341h1v2h-1zM109 355h1v12h-1zM109 397h1v4h-1zM111 345h1v10h-1zM111 361h1v6h-1zM111 379h1v8h-1zM111 391h1v6h-1zM111 399h1v4h-1zM112 405h1v12h-1zM112 419h1v6h-1zM112 427h1v4h-1zM112 435h1v4h-1zM112 441h1v4h-1zM113 367h1v10h-1zM113 401h1v6h-1zM114 367h1v10h-1zM114 403h1v2h-1zM114 407h1v2h-1zM114 413h1v2h-1zM115 345h1v6h-1zM115 367h1v4h-1zM115 375h1v4h-1zM115 403h1v6h-1zM116 345h1v6h-1zM116 371h1v6h-1zM116 409h1v6h-1zM116 417h1v4h-1zM116 429h1v2h-1zM117 385h1v10h-1zM123 341h1v6h-1zM124 351h1v2h-1zM124 359h1v6h-1zM124 399h1v4h-1zM124 405h1v4h-1zM124 415h1v4h-1zM125 433h1v14h-1zM125 449h1v2h-1zM126 401h1v6h-1zM126 421h1v2h-1zM126 425h1v10h-1zM127 435h1v12h-1zM128 397h1v2h-1zM128 431h1v6h-1zM128 443h1v4h-1zM128 449h1v2h-1zM129 435h1v4h-1zM129 441h1v6h-1zM130 433h1v2h-1zM130 439h1v12h-1zM131 443h1v8h-1zM132 353h1v6h-1zM132 385h1v6h-1zM132 405h1v6h-1zM132 415h1v4h-1zM132 421h1v8h-1zM133 429h1v10h-1zM133 441h1v2h-1zM134 429h1v8h-1zM134 441h1v4h-1zM136 431h1v2h-1zM136 447h1v2h-1zM138 433h1v2h-1zM140 431h1v4h-1zM140 437h1v2h-1zM143 435h1v4h-1zM144 439h1v6h-1zM144 447h1v2h-1zM145 419h1v10h-1zM145 433h1v4h-1zM146 415h1v4h-1zM146 421h1v2h-1zM146 425h1v2h-1zM146 433h1v6h-1zM147 445h1v6h-1zM148 443h1v6h-1zM149 349h1v6h-1zM149 357h1v4h-1zM149 371h1v10h-1zM149 383h1v10h-1zM149 399h1v2h-1zM149 403h1v6h-1zM149 411h1v2h-1zM150 359h1v4h-1zM150 365h1v6h-1zM150 381h1v2h-1zM150 413h1v10h-1zM150 425h1v4h-1zM150 437h1v4h-1zM151 363h1v4h-1zM151 375h1v10h-1zM151 407h1v2h-1zM151 411h1v2h-1zM151 415h1v6h-1zM151 423h1v2h-1zM151 439h1v2h-1zM152 375h1v8h-1zM152 415h1v2h-1zM152 427h1v4h-1zM152 435h1v2h-1zM153 339h1v4h-1zM153 395h1v4h-1zM163 341h1v4h-1zM163 375h1v2h-1zM163 379h1v2h-1zM163 383h1v2h-1zM164 349h1v2h-1zM164 353h1v2h-1zM164 357h1v2h-1zM164 363h1v8h-1zM164 387h1v2h-1zM164 391h1v4h-1zM165 351h1v6h-1zM165 367h1v6h-1zM165 375h1v2h-1zM165 379h1v12h-1zM166 361h1v6h-1zM166 397h1v2h-1zM166 431h1v2h-1zM167 357h1v6h-1zM167 365h1v2h-1zM167 369h1v4h-1zM167 393h1v4h-1zM168 355h1v4h-1zM168 371h1v6h-1zM168 395h1v6h-1zM169 345h1v4h-1zM169 381h1v10h-1zM171 339h1v4h-1zM172 341h1v4h-1zM172 383h1v2h-1zM172 389h1v2h-1zM173 349h1v4h-1zM173 377h1v8h-1zM173 399h1v2h-1zM173 403h1v6h-1zM174 413h1v18h-1zM175 339h1v10h-1zM175 389h1v14h-1zM176 339h1v14h-1zM176 361h1v4h-1zM176 381h1v2h-1zM176 397h1v4h-1zM176 403h1v2h-1zM178 397h1v2h-1zM179 397h1v2h-1zM181 343h1v8h-1zM181 357h1v12h-1zM181 389h1v8h-1zM181 399h1v2h-1zM183 339h1v2h-1zM183 343h1v10h-1zM183 355h1v12h-1zM183 393h1v6h-1zM184 371h1v6h-1zM184 403h1v4h-1zM185 349h1v2h-1zM185 353h1v6h-1zM185 367h1v2h-1zM185 373h1v4h-1zM185 379h1v26h-1zM190 345h1v2h-1zM190 349h1v2h-1zM190 353h1v6h-1zM190 361h1v2h-1zM190 367h1v4h-1zM190 377h1v8h-1zM190 403h1v6h-1zM191 343h1v2h-1zM191 347h1v2h-1zM191 351h1v2h-1zM191 355h1v4h-1zM191 369h1v2h-1zM191 377h1v8h-1zM191 391h1v16h-1zM192 343h1v4h-1zM192 351h1v2h-1zM192 355h1v4h-1zM192 369h1v2h-1zM192 395h1v12h-1zM193 419h1v2h-1zM193 423h1v2h-1zM194 389h1v2h-1zM194 417h1v4h-1zM195 385h1v18h-1zM195 405h1v10h-1zM196 363h1v16h-1zM196 383h1v6h-1zM196 397h1v14h-1zM197 415h1v6h-1zM198 361h1v34h-1zM198 397h1v2h-1zM198 401h1v10h-1zM199 421h1v8h-1zM200 415h1v6h-1zM201 385h1v16h-1zM201 409h1v8h-1zM202 427h1v18h-1zM203 389h1v2h-1zM203 393h1v6h-1zM203 411h1v16h-1zM204 425h1v4h-1zM205 351h1v8h-1zM205 377h1v4h-1zM205 397h1v12h-1zM205 423h1v2h-1zM206 431h1v8h-1zM206 441h1v6h-1zM206 449h1v2h-1zM207 409h1v4h-1zM207 415h1v4h-1zM207 425h1v4h-1zM208 431h1v20h-1zM209 431h1v8h-1zM209 441h1v2h-1zM209 445h1v6h-1zM210 411h1v2h-1zM210 417h1v12h-1zM211 409h1v4h-1zM211 419h1v8h-1zM212 343h1v6h-1zM212 361h1v2h-1zM212 369h1v4h-1zM212 375h1v4h-1zM212 381h1v4h-1zM212 393h1v8h-1zM213 349h1v8h-1zM213 391h1v2h-1zM213 401h1v4h-1zM214 347h1v2h-1zM214 351h1v2h-1zM214 357h1v4h-1zM214 371h1v2h-1zM214 391h1v2h-1zM214 399h1v6h-1zM215 405h1v6h-1zM215 423h1v6h-1zM215 431h1v8h-1zM215 445h1v4h-1zM216 405h1v4h-1zM216 411h1v6h-1zM216 423h1v4h-1zM216 435h1v2h-1zM216 441h1v6h-1zM217 353h1v6h-1zM217 405h1v2h-1zM218 349h1v2h-1zM218 363h1v40h-1zM219 339h1v6h-1zM220 339h1v8h-1zM221 339h1v8h-1zM227 341h1v2h-1zM228 339h1v2h-1zM229 339h1v2h-1zM232 339h1v4h-1z"/>
<path fill="#96378f" d="M25 439h1v12h-1zM26 421h1v6h-1zM26 433h1v8h-1zM26 443h1v2h-1zM27 421h1v4h-1zM27 427h1v4h-1zM27 435h1v8h-1zM28 429h1v2h-1zM28 433h1v2h-1zM28 437h1v6h-1zM29 413h1v28h-1zM30 351h1v4h-1zM30 357h1v8h-1zM30 377h1v6h-1zM30 385h1v2h-1zM30 389h1v2h-1zM30 393h1v2h-1zM30 399h1v2h-1zM30 403h1v6h-1zM31 339h1v6h-1zM31 347h1v4h-1zM31 385h1v18h-1zM31 405h1v4h-1zM35 353h1v4h-1zM35 371h1v6h-1zM35 407h1v2h-1zM36 351h1v8h-1zM36 371h1v6h-1zM36 387h1v2h-1zM36 405h1v4h-1zM37 353h1v10h-1zM37 365h1v12h-1zM37 379h1v2h-1zM37 385h1v2h-1zM37 407h1v2h-1zM40 339h1v4h-1zM40 347h1v2h-1zM40 391h1v4h-1zM40 397h1v6h-1zM41 395h1v4h-1zM46 357h1v4h-1zM46 371h1v12h-1zM46 395h1v6h-1zM47 405h1v4h-1zM48 349h1v2h-1zM48 353h1v2h-1zM48 357h1v6h-1zM48 365h1v6h-1zM48 375h1v4h-1zM48 393h1v4h-1zM48 399h1v4h-1zM49 339h1v2h-1zM51 339h1v4h-1zM51 395h1v2h-1zM51 399h1v4h-1zM52 345h1v30h-1zM52 393h1v2h-1zM52 403h1v2h-1zM52 411h1v2h-1zM53 371h1v4h-1zM53 377h1v2h-1zM53 391h1v2h-1zM53 409h1v2h-1zM53 415h1v4h-1zM54 339h1v2h-1zM54 397h1v2h-1zM57 339h1v2h-1zM57 359h1v6h-1zM57 397h1v2h-1zM58 343h1v14h-1zM58 365h1v6h-1zM58 391h1v14h-1zM59 341h1v6h-1zM59 349h1v2h-1zM59 355h1v6h-1zM59 363h1v4h-1zM59 393h1v2h-1zM59 397h1v4h-1zM59 403h1v2h-1zM60 341h1v4h-1zM60 355h1v4h-1zM60 367h1v8h-1zM60 389h1v18h-1zM61 363h1v2h-1zM61 397h1v8h-1zM65 343h1v10h-1zM65 363h1v24h-1zM65 389h1v10h-1zM65 407h1v4h-1zM66 417h1v4h-1zM68 339h1v2h-1zM69 341h1v2h-1zM69 367h1v2h-1zM69 375h1v2h-1zM69 379h1v2h-1zM69 401h1v6h-1zM70 345h1v10h-1zM70 357h1v2h-1zM70 371h1v2h-1zM70 383h1v16h-1zM70 409h1v4h-1zM71 401h1v6h-1zM72 341h1v2h-1zM72 363h1v8h-1zM72 379h1v2h-1zM72 397h1v2h-1zM72 401h1v4h-1zM73 413h1v2h-1zM73 417h1v2h-1zM73 431h1v2h-1zM73 449h1v2h-1zM74 441h1v10h-1zM75 405h1v8h-1zM75 415h1v4h-1zM75 421h1v14h-1zM76 437h1v14h-1zM77 435h1v2h-1zM77 445h1v6h-1zM78 385h1v2h-1zM78 389h1v12h-1zM78 403h1v4h-1zM78 411h1v2h-1zM78 417h1v4h-1zM78 425h1v6h-1zM79 397h1v2h-1zM79 403h1v20h-1zM79 425h1v10h-1zM80 371h1v6h-1zM80 379h1v2h-1zM80 389h1v2h-1zM80 397h1v4h-1zM80 403h1v2h-1zM80 413h1v2h-1zM81 343h1v4h-1zM81 391h1v2h-1zM84 395h1v6h-1zM85 397h1v2h-1zM86 397h1v2h-1zM87 359h1v2h-1zM87 363h1v2h-1zM87 391h1v12h-1zM88 391h1v12h-1zM90 411h1v2h-1zM90 419h1v4h-1zM90 427h1v2h-1zM91 353h1v8h-1zM91 363h1v4h-1zM91 397h1v4h-1zM91 403h1v6h-1zM91 423h1v2h-1zM92 349h1v2h-1zM92 375h1v4h-1zM92 381h1v2h-1zM92 385h1v6h-1zM93 341h1v2h-1zM93 345h1v6h-1zM93 379h1v6h-1zM94 341h1v6h-1zM94 349h1v2h-1zM94 379h1v8h-1zM96 339h1v2h-1zM96 349h1v4h-1zM96 377h1v2h-1zM96 385h1v2h-1zM96 405h1v4h-1zM96 417h1v2h-1zM97 353h1v4h-1zM97 369h1v8h-1zM97 391h1v4h-1zM97 401h1v6h-1zM97 409h1v16h-1zM98 351h1v8h-1zM98 369h1v4h-1zM98 389h1v24h-1zM98 419h1v2h-1zM98 423h1v2h-1zM99 413h1v2h-1zM99 425h1v2h-1zM99 437h1v4h-1zM99 447h1v2h-1zM100 433h1v6h-1zM100 445h1v2h-1zM101 359h1v8h-1zM101 409h1v4h-1zM101 417h1v2h-1zM101 425h1v2h-1zM102 349h1v4h-1zM102 373h1v10h-1zM103 351h1v2h-1zM103 355h1v8h-1zM103 365h1v16h-1zM103 413h1v4h-1zM104 349h1v4h-1zM104 381h1v6h-1zM104 395h1v12h-1zM105 427h1v4h-1zM105 437h1v4h-1zM106 425h1v2h-1zM106 431h1v4h-1zM106 441h1v4h-1zM107 343h1v4h-1zM107 349h1v16h-1zM107 397h1v2h-1zM108 339h1v4h-1zM108 349h1v2h-1zM108 353h1v12h-1zM108 397h1v4h-1zM109 339h1v2h-1zM109 343h1v12h-1zM109 367h1v4h-1zM109 395h1v2h-1zM109 401h1v4h-1zM110 339h1v4h-1zM110 351h1v12h-1zM110 365h1v2h-1zM110 395h1v6h-1zM111 367h1v4h-1zM111 373h1v6h-1zM111 387h1v4h-1zM111 403h1v2h-1zM111 421h1v2h-1zM112 431h1v4h-1zM112 439h1v2h-1zM112 445h1v2h-1zM112 449h1v2h-1zM113 407h1v20h-1zM113 429h1v2h-1zM113 433h1v2h-1zM113 441h1v2h-1zM114 405h1v2h-1zM114 409h1v4h-1zM114 415h1v10h-1zM114 427h1v6h-1zM114 439h1v2h-1zM115 371h1v4h-1zM115 409h1v10h-1zM115 421h1v2h-1zM115 425h1v2h-1zM116 415h1v2h-1zM116 421h1v2h-1zM116 427h1v2h-1zM116 449h1v2h-1zM117 339h1v2h-1zM117 357h1v10h-1zM117 379h1v6h-1zM117 395h1v14h-1zM118 387h1v10h-1zM118 399h1v6h-1zM119 389h1v2h-1zM119 393h1v2h-1zM123 347h1v4h-1zM123 393h1v10h-1zM123 411h1v2h-1zM124 353h1v6h-1zM124 419h1v2h-1zM126 435h1v4h-1zM126 441h1v10h-1zM127 451h1v2h-1zM128 437h1v2h-1zM128 441h1v2h-1zM132 429h1v12h-1zM133 443h1v4h-1zM134 445h1v2h-1zM134 449h1v2h-1zM137 451h1v6h-1zM139 451h1v6h-1zM141 451h1v6h-1zM142 451h1v2h-1zM142 455h1v2h-1zM143 439h1v12h-1zM144 445h1v2h-1zM144 449h1v2h-1zM145 437h1v2h-1zM145 441h1v2h-1zM146 439h1v6h-1zM148 449h1v2h-1zM149 361h1v2h-1zM149 365h1v6h-1zM149 381h1v2h-1zM149 409h1v2h-1zM149 413h1v10h-1zM149 439h1v2h-1zM150 363h1v2h-1zM150 429h1v2h-1zM150 433h1v4h-1zM150 441h1v4h-1zM151 425h1v14h-1zM151 441h1v2h-1zM152 431h1v4h-1zM152 437h1v6h-1zM153 343h1v20h-1zM153 389h1v6h-1zM153 399h1v6h-1zM159 339h1v2h-1zM163 345h1v4h-1zM163 367h1v8h-1zM163 377h1v2h-1zM163 381h1v2h-1zM163 385h1v6h-1zM164 355h1v2h-1zM164 359h1v4h-1zM164 395h1v16h-1zM164 423h1v4h-1zM164 433h1v2h-1zM165 357h1v10h-1zM165 391h1v8h-1zM165 403h1v2h-1zM165 431h1v2h-1zM166 399h1v22h-1zM166 427h1v4h-1zM166 433h1v4h-1zM167 363h1v2h-1zM167 367h1v2h-1zM167 397h1v10h-1zM167 409h1v6h-1zM168 359h1v4h-1zM168 365h1v6h-1zM168 401h1v12h-1zM168 431h1v2h-1zM169 349h1v4h-1zM169 375h1v6h-1zM169 391h1v6h-1zM170 339h1v6h-1zM170 383h1v8h-1zM171 343h1v4h-1zM171 381h1v16h-1zM172 345h1v4h-1zM172 381h1v2h-1zM172 385h1v4h-1zM172 391h1v10h-1zM172 403h1v2h-1zM173 353h1v8h-1zM173 363h1v14h-1zM173 409h1v6h-1zM173 417h1v2h-1zM174 431h1v6h-1zM175 349h1v4h-1zM175 361h1v2h-1zM175 383h1v6h-1zM175 403h1v4h-1zM176 353h1v8h-1zM176 365h1v16h-1zM176 383h1v2h-1zM176 405h1v4h-1zM177 393h1v6h-1zM177 401h1v2h-1zM178 387h1v10h-1zM178 399h1v6h-1zM179 389h1v8h-1zM179 399h1v6h-1zM181 339h1v4h-1zM181 351h1v6h-1zM181 369h1v6h-1zM181 377h1v4h-1zM181 383h1v6h-1zM181 401h1v4h-1zM183 341h1v2h-1zM183 353h1v2h-1zM183 367h1v2h-1zM183 379h1v2h-1zM183 383h1v10h-1zM183 399h1v4h-1zM184 407h1v2h-1zM184 415h1v2h-1zM185 339h1v10h-1zM185 351h1v2h-1zM185 369h1v4h-1zM185 377h1v2h-1zM187 357h1v10h-1zM187 377h1v10h-1zM187 397h1v2h-1zM190 347h1v2h-1zM190 351h1v2h-1zM190 371h1v6h-1zM190 385h1v18h-1zM190 409h1v2h-1zM191 345h1v2h-1zM191 349h1v2h-1zM191 353h1v2h-1zM191 371h1v6h-1zM191 385h1v6h-1zM191 407h1v4h-1zM192 347h1v4h-1zM192 353h1v2h-1zM192 371h1v18h-1zM192 391h1v4h-1zM192 407h1v2h-1zM193 421h1v2h-1zM193 425h1v8h-1zM194 421h1v8h-1zM195 415h1v4h-1zM196 389h1v8h-1zM196 411h1v8h-1zM197 421h1v6h-1zM198 395h1v2h-1zM198 399h1v2h-1zM198 411h1v4h-1zM198 417h1v2h-1zM199 429h1v6h-1zM199 437h1v6h-1zM200 421h1v10h-1zM200 439h1v2h-1zM201 417h1v6h-1zM201 425h1v2h-1zM202 445h1v6h-1zM203 427h1v2h-1zM203 439h1v2h-1zM204 429h1v2h-1zM204 433h1v12h-1zM204 449h1v2h-1zM205 381h1v16h-1zM205 409h1v6h-1zM205 417h1v6h-1zM206 447h1v2h-1zM207 413h1v2h-1zM207 429h1v14h-1zM209 439h1v2h-1zM209 443h1v2h-1zM210 413h1v4h-1zM210 429h1v4h-1zM210 447h1v2h-1zM211 413h1v6h-1zM211 427h1v8h-1zM212 349h1v12h-1zM212 373h1v2h-1zM212 385h1v8h-1zM212 401h1v6h-1zM213 405h1v8h-1zM213 417h1v16h-1zM214 353h1v4h-1zM214 405h1v4h-1zM214 419h1v2h-1zM214 423h1v10h-1zM215 411h1v12h-1zM215 439h1v6h-1zM215 449h1v2h-1zM216 409h1v2h-1zM216 417h1v2h-1zM216 421h1v2h-1zM216 427h1v4h-1zM216 437h1v2h-1zM217 407h1v8h-1zM217 419h1v6h-1zM217 429h1v6h-1zM217 439h1v4h-1zM218 351h1v4h-1zM218 361h1v2h-1zM218 403h1v2h-1zM218 407h1v4h-1zM219 345h1v4h-1zM219 375h1v4h-1zM219 383h1v2h-1zM219 395h1v2h-1zM219 401h1v2h-1zM220 347h1v2h-1zM220 389h1v2h-1zM221 347h1v2h-1zM221 387h1v2h-1zM222 339h1v2h-1zM223 339h1v8h-1zM226 339h1v4h-1zM227 343h1v4h-1zM228 341h1v2h-1zM229 341h1v2h-1zM232 343h1v2h-1zM232 397h1v8h-1zM232 407h1v2h-1z"/>
<path fill="#aa3f88" d="M24 451h1v6h-1zM25 451h1v4h-1zM26 441h1v2h-1zM26 445h1v6h-1zM26 453h1v4h-1zM27 443h1v12h-1zM28 443h1v8h-1zM29 441h1v2h-1zM30 355h1v2h-1zM30 365h1v12h-1zM31 351h1v8h-1zM31 363h1v8h-1zM31 375h1v10h-1zM31 409h1v4h-1zM32 401h1v2h-1zM33 401h1v6h-1zM35 357h1v8h-1zM35 367h1v4h-1zM35 413h1v2h-1zM36 359h1v12h-1zM37 363h1v2h-1zM37 413h1v2h-1zM38 339h1v2h-1zM38 343h1v2h-1zM38 347h1v2h-1zM38 393h1v10h-1zM38 405h1v2h-1zM39 343h1v2h-1zM39 347h1v2h-1zM39 393h1v12h-1zM40 343h1v4h-1zM40 349h1v8h-1zM40 359h1v16h-1zM40 387h1v4h-1zM40 395h1v2h-1zM40 403h1v2h-1zM41 341h1v2h-1zM41 345h1v6h-1zM41 387h1v8h-1zM41 399h1v4h-1zM45 339h1v16h-1zM45 379h1v2h-1zM46 361h1v10h-1zM46 383h1v6h-1zM46 391h1v4h-1zM46 401h1v4h-1zM46 413h1v4h-1zM47 409h1v4h-1zM47 417h1v2h-1zM47 445h1v2h-1zM47 453h1v2h-1zM48 363h1v2h-1zM48 379h1v10h-1zM48 391h1v2h-1zM48 403h1v6h-1zM48 413h1v4h-1zM49 341h1v2h-1zM49 371h1v4h-1zM49 397h1v6h-1zM51 343h1v4h-1zM51 369h1v6h-1zM51 403h1v2h-1zM52 375h1v2h-1zM52 387h1v6h-1zM52 405h1v6h-1zM53 375h1v2h-1zM53 379h1v12h-1zM54 341h1v26h-1zM54 395h1v2h-1zM54 399h1v4h-1zM55 339h1v4h-1zM55 353h1v4h-1zM55 359h1v2h-1zM55 363h1v2h-1zM55 397h1v2h-1zM56 339h1v6h-1zM56 349h1v2h-1zM56 353h1v12h-1zM56 397h1v2h-1zM57 341h1v18h-1zM57 365h1v2h-1zM57 393h1v4h-1zM57 399h1v4h-1zM58 371h1v4h-1zM58 377h1v2h-1zM58 381h1v10h-1zM58 405h1v4h-1zM58 417h1v2h-1zM59 347h1v2h-1zM59 351h1v4h-1zM59 367h1v6h-1zM59 375h1v2h-1zM59 385h1v8h-1zM59 395h1v2h-1zM59 401h1v2h-1zM59 405h1v2h-1zM60 345h1v10h-1zM60 375h1v14h-1zM60 407h1v6h-1zM61 339h1v4h-1zM61 361h1v2h-1zM61 365h1v8h-1zM61 387h1v10h-1zM61 405h1v2h-1zM63 387h1v10h-1zM63 399h1v8h-1zM64 401h1v4h-1zM65 387h1v2h-1zM65 411h1v4h-1zM66 421h1v16h-1zM66 445h1v12h-1zM67 339h1v4h-1zM67 355h1v4h-1zM67 371h1v14h-1zM67 401h1v6h-1zM68 341h1v2h-1zM68 351h1v8h-1zM68 377h1v8h-1zM68 399h1v10h-1zM69 343h1v4h-1zM69 349h1v18h-1zM69 369h1v6h-1zM69 377h1v2h-1zM69 381h1v8h-1zM69 391h1v10h-1zM69 407h1v2h-1zM70 413h1v4h-1zM71 339h1v6h-1zM71 357h1v28h-1zM71 395h1v6h-1zM71 407h1v2h-1zM72 339h1v2h-1zM72 343h1v10h-1zM72 355h1v2h-1zM72 359h1v4h-1zM72 371h1v8h-1zM72 381h1v16h-1zM72 399h1v2h-1zM72 405h1v6h-1zM73 433h1v6h-1zM73 445h1v4h-1zM73 453h1v4h-1zM74 437h1v4h-1zM74 451h1v6h-1zM75 413h1v2h-1zM75 419h1v2h-1zM75 435h1v2h-1zM75 449h1v2h-1zM76 451h1v6h-1zM77 437h1v8h-1zM77 451h1v6h-1zM78 401h1v2h-1zM78 407h1v4h-1zM78 413h1v4h-1zM78 421h1v4h-1zM78 433h1v4h-1zM78 455h1v2h-1zM79 423h1v2h-1zM79 435h1v4h-1zM79 443h1v4h-1zM79 449h1v2h-1zM80 401h1v2h-1zM80 405h1v8h-1zM80 415h1v8h-1zM80 425h1v2h-1zM80 429h1v2h-1zM81 347h1v10h-1zM81 359h1v12h-1zM81 373h1v18h-1zM81 393h1v8h-1zM84 387h1v8h-1zM85 389h1v8h-1zM85 399h1v2h-1zM86 389h1v8h-1zM86 399h1v2h-1zM87 353h1v2h-1zM87 357h1v2h-1zM87 361h1v2h-1zM87 365h1v8h-1zM87 387h1v4h-1zM87 403h1v2h-1zM88 351h1v2h-1zM88 355h1v14h-1zM88 383h1v2h-1zM88 387h1v4h-1zM88 403h1v4h-1zM89 411h1v2h-1zM89 415h1v6h-1zM89 425h1v4h-1zM89 435h1v4h-1zM90 413h1v2h-1zM90 417h1v2h-1zM90 429h1v4h-1zM90 437h1v4h-1zM91 409h1v8h-1zM91 421h1v2h-1zM92 351h1v4h-1zM92 369h1v6h-1zM92 391h1v18h-1zM93 339h1v2h-1zM93 343h1v2h-1zM93 375h1v4h-1zM93 385h1v6h-1zM93 401h1v2h-1zM94 339h1v2h-1zM94 351h1v2h-1zM94 373h1v6h-1zM94 387h1v8h-1zM94 401h1v6h-1zM94 409h1v2h-1zM94 419h1v2h-1zM95 343h1v8h-1zM95 379h1v4h-1zM96 353h1v2h-1zM96 371h1v6h-1zM96 387h1v8h-1zM96 397h1v2h-1zM96 401h1v4h-1zM96 409h1v8h-1zM96 419h1v8h-1zM97 357h1v4h-1zM97 365h1v4h-1zM97 395h1v6h-1zM97 425h1v4h-1zM98 359h1v10h-1zM98 413h1v6h-1zM99 449h1v2h-1zM100 421h1v2h-1zM100 443h1v2h-1zM100 447h1v2h-1zM100 453h1v4h-1zM101 421h1v2h-1zM101 433h1v4h-1zM101 445h1v2h-1zM101 453h1v4h-1zM102 353h1v6h-1zM102 361h1v2h-1zM102 365h1v8h-1zM102 409h1v8h-1zM102 423h1v4h-1zM103 363h1v2h-1zM103 409h1v4h-1zM103 417h1v2h-1zM103 423h1v2h-1zM104 353h1v28h-1zM104 387h1v8h-1zM104 407h1v4h-1zM105 423h1v4h-1zM105 441h1v2h-1zM105 447h1v4h-1zM106 429h1v2h-1zM106 435h1v2h-1zM106 439h1v2h-1zM106 451h1v2h-1zM107 347h1v2h-1zM107 365h1v6h-1zM107 395h1v2h-1zM107 399h1v10h-1zM108 343h1v6h-1zM108 351h1v2h-1zM108 365h1v6h-1zM108 393h1v4h-1zM108 401h1v6h-1zM109 371h1v14h-1zM109 387h1v2h-1zM109 391h1v4h-1zM109 405h1v20h-1zM110 343h1v8h-1zM110 363h1v2h-1zM110 367h1v4h-1zM110 379h1v2h-1zM110 385h1v2h-1zM110 391h1v4h-1zM110 401h1v4h-1zM110 411h1v2h-1zM110 417h1v2h-1zM111 371h1v2h-1zM111 405h1v16h-1zM111 423h1v6h-1zM112 447h1v2h-1zM112 451h1v4h-1zM113 427h1v2h-1zM113 431h1v2h-1zM113 435h1v6h-1zM113 443h1v4h-1zM113 451h1v2h-1zM113 455h1v2h-1zM114 425h1v2h-1zM114 433h1v6h-1zM114 441h1v12h-1zM114 455h1v2h-1zM115 419h1v2h-1zM115 423h1v2h-1zM115 427h1v2h-1zM115 431h1v6h-1zM115 441h1v4h-1zM116 431h1v2h-1zM116 437h1v6h-1zM116 447h1v2h-1zM117 341h1v2h-1zM117 351h1v6h-1zM117 367h1v2h-1zM117 377h1v2h-1zM117 409h1v2h-1zM117 415h1v4h-1zM118 339h1v2h-1zM118 357h1v4h-1zM118 363h1v2h-1zM118 379h1v8h-1zM118 397h1v2h-1zM118 405h1v4h-1zM118 413h1v2h-1zM119 385h1v4h-1zM119 391h1v2h-1zM119 395h1v10h-1zM123 351h1v2h-1zM123 363h1v2h-1zM123 367h1v26h-1zM123 403h1v8h-1zM123 413h1v4h-1zM124 421h1v14h-1zM124 445h1v6h-1zM125 451h1v6h-1zM126 439h1v2h-1zM126 451h1v2h-1zM127 453h1v4h-1zM128 439h1v2h-1zM128 451h1v6h-1zM129 451h1v6h-1zM130 451h1v6h-1zM131 451h1v6h-1zM132 441h1v2h-1zM133 447h1v4h-1zM134 447h1v2h-1zM135 451h1v6h-1zM136 451h1v6h-1zM138 451h1v6h-1zM140 451h1v6h-1zM142 453h1v2h-1zM143 451h1v4h-1zM144 451h1v6h-1zM145 439h1v2h-1zM145 443h1v8h-1zM145 455h1v2h-1zM146 445h1v6h-1zM147 451h1v6h-1zM148 451h1v6h-1zM149 363h1v2h-1zM149 423h1v6h-1zM149 431h1v2h-1zM149 435h1v4h-1zM149 441h1v2h-1zM150 431h1v2h-1zM150 445h1v2h-1zM150 451h1v2h-1zM151 443h1v4h-1zM152 443h1v6h-1zM152 453h1v2h-1zM153 363h1v8h-1zM153 385h1v4h-1zM153 405h1v4h-1zM156 339h1v2h-1zM157 339h1v2h-1zM158 339h1v2h-1zM158 401h1v6h-1zM159 341h1v4h-1zM163 349h1v4h-1zM163 359h1v4h-1zM163 365h1v2h-1zM163 391h1v16h-1zM163 421h1v2h-1zM164 411h1v12h-1zM164 427h1v4h-1zM164 435h1v2h-1zM165 399h1v4h-1zM165 405h1v18h-1zM165 425h1v6h-1zM165 433h1v4h-1zM166 421h1v6h-1zM166 437h1v14h-1zM167 407h1v2h-1zM167 415h1v10h-1zM167 427h1v8h-1zM168 363h1v2h-1zM168 413h1v18h-1zM168 433h1v4h-1zM169 353h1v2h-1zM169 371h1v4h-1zM169 397h1v10h-1zM170 345h1v4h-1zM170 379h1v4h-1zM170 391h1v4h-1zM171 347h1v2h-1zM171 377h1v4h-1zM171 397h1v6h-1zM171 405h1v2h-1zM172 349h1v4h-1zM172 379h1v2h-1zM172 401h1v2h-1zM172 405h1v8h-1zM173 361h1v2h-1zM173 415h1v2h-1zM173 419h1v4h-1zM173 425h1v4h-1zM173 431h1v2h-1zM174 437h1v4h-1zM174 443h1v2h-1zM175 353h1v8h-1zM175 363h1v20h-1zM175 407h1v2h-1zM176 409h1v4h-1zM176 421h1v4h-1zM177 345h1v8h-1zM177 363h1v4h-1zM177 387h1v6h-1zM177 399h1v2h-1zM177 403h1v2h-1zM178 341h1v30h-1zM178 383h1v4h-1zM178 405h1v4h-1zM179 345h1v26h-1zM179 383h1v6h-1zM179 405h1v2h-1zM180 393h1v6h-1zM181 375h1v2h-1zM181 381h1v2h-1zM181 405h1v2h-1zM182 339h1v10h-1zM182 351h1v2h-1zM182 363h1v2h-1zM182 389h1v2h-1zM182 393h1v8h-1zM183 369h1v10h-1zM183 381h1v2h-1zM183 403h1v2h-1zM184 413h1v2h-1zM184 417h1v2h-1zM184 423h1v4h-1zM185 405h1v4h-1zM186 361h1v6h-1zM186 379h1v2h-1zM187 339h1v2h-1zM187 343h1v2h-1zM187 351h1v2h-1zM187 355h1v2h-1zM187 367h1v10h-1zM187 387h1v10h-1zM187 399h1v10h-1zM188 361h1v6h-1zM188 375h1v2h-1zM188 379h1v8h-1zM188 403h1v2h-1zM189 339h1v4h-1zM189 355h1v14h-1zM189 377h1v8h-1zM189 401h1v6h-1zM190 411h1v2h-1zM191 411h1v12h-1zM191 425h1v6h-1zM192 389h1v2h-1zM192 409h1v8h-1zM193 433h1v8h-1zM193 443h1v8h-1zM194 429h1v6h-1zM194 443h1v8h-1zM195 419h1v4h-1zM196 419h1v2h-1zM197 427h1v4h-1zM198 415h1v2h-1zM198 419h1v4h-1zM199 435h1v2h-1zM199 443h1v10h-1zM199 455h1v2h-1zM200 431h1v8h-1zM200 441h1v12h-1zM201 423h1v2h-1zM201 427h1v4h-1zM201 437h1v4h-1zM202 451h1v4h-1zM203 429h1v10h-1zM203 441h1v4h-1zM203 449h1v2h-1zM203 453h1v2h-1zM204 431h1v2h-1zM204 445h1v4h-1zM204 453h1v4h-1zM205 415h1v2h-1zM205 425h1v2h-1zM206 453h1v4h-1zM207 443h1v10h-1zM208 451h1v6h-1zM209 451h1v4h-1zM210 433h1v14h-1zM210 449h1v6h-1zM211 435h1v4h-1zM211 443h1v10h-1zM212 407h1v4h-1zM212 421h1v2h-1zM212 425h1v2h-1zM213 413h1v4h-1zM213 433h1v6h-1zM213 441h1v2h-1zM213 449h1v2h-1zM214 409h1v10h-1zM214 421h1v2h-1zM214 433h1v10h-1zM214 447h1v4h-1zM215 451h1v2h-1zM215 455h1v2h-1zM216 419h1v2h-1zM216 439h1v2h-1zM216 447h1v2h-1zM216 451h1v6h-1zM217 415h1v2h-1zM217 443h1v2h-1zM217 449h1v2h-1zM218 355h1v6h-1zM218 405h1v2h-1zM218 411h1v2h-1zM218 437h1v4h-1zM219 349h1v2h-1zM219 361h1v14h-1zM219 379h1v4h-1zM219 385h1v10h-1zM219 397h1v4h-1zM219 403h1v8h-1zM220 349h1v2h-1zM220 365h1v2h-1zM220 369h1v2h-1zM220 373h1v4h-1zM220 379h1v10h-1zM220 391h1v16h-1zM221 349h1v4h-1zM221 365h1v4h-1zM221 373h1v2h-1zM221 377h1v2h-1zM221 381h1v2h-1zM221 385h1v2h-1zM221 389h1v20h-1zM221 413h1v4h-1zM222 341h1v8h-1zM223 347h1v4h-1zM223 387h1v8h-1zM226 343h1v2h-1zM227 347h1v2h-1zM227 391h1v12h-1zM228 343h1v2h-1zM229 343h1v4h-1zM229 393h1v10h-1zM230 339h1v6h-1zM231 339h1v4h-1zM232 345h1v4h-1zM232 393h1v4h-1zM232 405h1v2h-1zM232 409h1v8h-1z"/>
<path fill="#bd487e" d="M25 455h1v2h-1zM26 451h1v2h-1zM27 455h1v2h-1zM28 451h1v6h-1zM29 443h1v14h-1zM30 409h1v8h-1zM30 423h1v2h-1zM30 433h1v4h-1zM30 453h1v2h-1zM31 359h1v4h-1zM31 371h1v4h-1zM32 393h1v8h-1zM32 403h1v6h-1zM33 339h1v8h-1zM33 383h1v2h-1zM33 393h1v8h-1zM33 407h1v2h-1zM34 339h1v4h-1zM34 345h1v2h-1zM34 379h1v2h-1zM34 383h1v2h-1zM34 393h1v14h-1zM35 365h1v2h-1zM35 409h1v4h-1zM35 415h1v2h-1zM35 425h1v2h-1zM35 453h1v2h-1zM36 409h1v8h-1zM37 409h1v4h-1zM37 415h1v2h-1zM37 425h1v2h-1zM37 433h1v4h-1zM38 341h1v2h-1zM38 345h1v2h-1zM38 349h1v2h-1zM38 353h1v4h-1zM38 363h1v4h-1zM38 369h1v6h-1zM38 387h1v6h-1zM38 403h1v2h-1zM39 339h1v4h-1zM39 345h1v2h-1zM39 349h1v2h-1zM39 355h1v4h-1zM39 361h1v14h-1zM39 387h1v6h-1zM39 405h1v2h-1zM40 357h1v2h-1zM40 375h1v2h-1zM40 385h1v2h-1zM40 405h1v4h-1zM41 339h1v2h-1zM41 343h1v2h-1zM41 351h1v16h-1zM41 369h1v10h-1zM41 383h1v4h-1zM41 403h1v2h-1zM41 409h1v4h-1zM42 397h1v2h-1zM44 349h1v2h-1zM45 355h1v2h-1zM45 371h1v8h-1zM45 381h1v6h-1zM45 393h1v8h-1zM45 415h1v2h-1zM46 389h1v2h-1zM46 405h1v4h-1zM46 417h1v2h-1zM46 453h1v4h-1zM47 423h1v4h-1zM47 435h1v2h-1zM47 443h1v2h-1zM47 451h1v2h-1zM47 455h1v2h-1zM48 389h1v2h-1zM48 409h1v4h-1zM48 417h1v2h-1zM48 453h1v4h-1zM49 343h1v10h-1zM49 355h1v16h-1zM49 375h1v2h-1zM49 393h1v4h-1zM49 403h1v6h-1zM50 339h1v2h-1zM50 397h1v4h-1zM51 347h1v22h-1zM51 375h1v4h-1zM51 391h1v4h-1zM51 405h1v8h-1zM52 377h1v10h-1zM52 413h1v2h-1zM52 419h1v2h-1zM53 411h1v4h-1zM53 419h1v2h-1zM53 455h1v2h-1zM54 367h1v4h-1zM54 391h1v4h-1zM54 403h1v6h-1zM54 415h1v2h-1zM55 343h1v10h-1zM55 357h1v2h-1zM55 361h1v2h-1zM55 365h1v2h-1zM55 393h1v4h-1zM55 399h1v6h-1zM56 345h1v4h-1zM56 351h1v2h-1zM56 365h1v4h-1zM56 391h1v6h-1zM56 399h1v6h-1zM56 413h1v2h-1zM57 367h1v4h-1zM57 385h1v8h-1zM57 403h1v6h-1zM57 413h1v4h-1zM58 375h1v2h-1zM58 379h1v2h-1zM58 409h1v2h-1zM58 413h1v4h-1zM58 425h1v2h-1zM59 373h1v2h-1zM59 377h1v8h-1zM59 407h1v4h-1zM59 417h1v2h-1zM61 343h1v6h-1zM61 355h1v6h-1zM61 373h1v14h-1zM61 407h1v2h-1zM62 397h1v2h-1zM62 401h1v6h-1zM63 339h1v4h-1zM63 361h1v8h-1zM63 373h1v14h-1zM63 397h1v2h-1zM63 407h1v4h-1zM64 339h1v6h-1zM64 355h1v2h-1zM64 359h1v2h-1zM64 369h1v2h-1zM64 381h1v4h-1zM64 387h1v14h-1zM64 405h1v6h-1zM65 415h1v2h-1zM65 453h1v4h-1zM66 437h1v8h-1zM67 343h1v4h-1zM67 349h1v6h-1zM67 359h1v4h-1zM67 367h1v4h-1zM67 385h1v16h-1zM67 407h1v2h-1zM68 343h1v8h-1zM68 359h1v2h-1zM68 365h1v2h-1zM68 369h1v8h-1zM68 385h1v4h-1zM68 391h1v8h-1zM68 409h1v4h-1zM69 347h1v2h-1zM69 389h1v2h-1zM69 409h1v4h-1zM70 417h1v6h-1zM70 447h1v2h-1zM70 451h1v6h-1zM71 345h1v12h-1zM71 385h1v10h-1zM71 409h1v4h-1zM71 451h1v6h-1zM72 353h1v2h-1zM72 357h1v2h-1zM72 411h1v4h-1zM72 419h1v4h-1zM73 439h1v6h-1zM73 451h1v2h-1zM75 437h1v2h-1zM75 441h1v8h-1zM75 451h1v6h-1zM78 437h1v2h-1zM78 441h1v14h-1zM79 439h1v4h-1zM79 447h1v2h-1zM79 451h1v6h-1zM80 423h1v2h-1zM80 427h1v2h-1zM80 431h1v6h-1zM80 447h1v2h-1zM80 451h1v6h-1zM81 357h1v2h-1zM81 371h1v2h-1zM81 401h1v2h-1zM81 413h1v2h-1zM82 339h1v8h-1zM82 387h1v14h-1zM83 389h1v12h-1zM84 339h1v26h-1zM84 367h1v2h-1zM84 371h1v6h-1zM84 383h1v4h-1zM84 401h1v4h-1zM85 339h1v4h-1zM85 345h1v22h-1zM85 369h1v4h-1zM85 385h1v4h-1zM85 401h1v2h-1zM86 341h1v2h-1zM86 345h1v2h-1zM86 351h1v24h-1zM86 385h1v4h-1zM86 401h1v4h-1zM87 339h1v14h-1zM87 355h1v2h-1zM87 373h1v14h-1zM87 405h1v4h-1zM88 339h1v12h-1zM88 353h1v2h-1zM88 369h1v14h-1zM88 385h1v2h-1zM88 407h1v2h-1zM89 413h1v2h-1zM89 429h1v2h-1zM89 439h1v2h-1zM89 445h1v4h-1zM89 455h1v2h-1zM90 415h1v2h-1zM90 425h1v2h-1zM90 441h1v2h-1zM90 447h1v4h-1zM91 417h1v4h-1zM91 431h1v2h-1zM91 441h1v2h-1zM91 451h1v2h-1zM92 355h1v14h-1zM92 409h1v10h-1zM92 421h1v4h-1zM93 351h1v4h-1zM93 369h1v2h-1zM93 373h1v2h-1zM93 391h1v10h-1zM93 403h1v8h-1zM93 415h1v10h-1zM94 353h1v4h-1zM94 369h1v4h-1zM94 395h1v6h-1zM94 407h1v2h-1zM94 411h1v8h-1zM94 421h1v6h-1zM95 339h1v4h-1zM95 351h1v2h-1zM95 377h1v2h-1zM95 383h1v6h-1zM95 403h1v4h-1zM95 409h1v2h-1zM96 355h1v4h-1zM96 361h1v2h-1zM96 367h1v4h-1zM96 395h1v2h-1zM96 399h1v2h-1zM96 427h1v2h-1zM96 451h1v2h-1zM96 455h1v2h-1zM97 361h1v4h-1zM97 429h1v2h-1zM97 433h1v6h-1zM97 443h1v6h-1zM97 451h1v6h-1zM98 425h1v2h-1zM98 429h1v6h-1zM98 439h1v2h-1zM98 451h1v4h-1zM99 423h1v2h-1zM99 431h1v2h-1zM99 435h1v2h-1zM99 445h1v2h-1zM99 451h1v2h-1zM99 455h1v2h-1zM100 429h1v2h-1zM101 427h1v2h-1zM101 443h1v2h-1zM101 451h1v2h-1zM102 359h1v2h-1zM102 363h1v2h-1zM102 417h1v2h-1zM102 453h1v4h-1zM103 425h1v2h-1zM103 453h1v4h-1zM104 415h1v4h-1zM104 455h1v2h-1zM105 431h1v2h-1zM105 451h1v2h-1zM105 455h1v2h-1zM106 427h1v2h-1zM106 437h1v2h-1zM106 445h1v2h-1zM106 449h1v2h-1zM106 453h1v4h-1zM107 371h1v14h-1zM107 389h1v6h-1zM107 409h1v8h-1zM108 371h1v18h-1zM108 391h1v2h-1zM108 407h1v18h-1zM109 385h1v2h-1zM109 389h1v2h-1zM109 425h1v2h-1zM109 455h1v2h-1zM110 371h1v8h-1zM110 381h1v4h-1zM110 387h1v4h-1zM110 405h1v6h-1zM110 413h1v4h-1zM110 419h1v6h-1zM110 455h1v2h-1zM111 429h1v14h-1zM111 451h1v6h-1zM112 455h1v2h-1zM113 447h1v4h-1zM113 453h1v2h-1zM114 453h1v2h-1zM115 429h1v2h-1zM115 437h1v4h-1zM115 445h1v4h-1zM115 451h1v6h-1zM116 423h1v4h-1zM116 451h1v6h-1zM117 343h1v8h-1zM117 369h1v8h-1zM117 411h1v4h-1zM117 425h1v4h-1zM117 455h1v2h-1zM118 341h1v2h-1zM118 353h1v4h-1zM118 361h1v2h-1zM118 365h1v6h-1zM118 377h1v2h-1zM118 409h1v4h-1zM118 415h1v2h-1zM118 455h1v2h-1zM119 339h1v4h-1zM119 351h1v6h-1zM119 359h1v8h-1zM119 381h1v4h-1zM119 405h1v4h-1zM119 413h1v4h-1zM122 339h1v10h-1zM122 393h1v2h-1zM122 397h1v2h-1zM123 361h1v2h-1zM123 365h1v2h-1zM123 417h1v4h-1zM124 435h1v10h-1zM124 451h1v6h-1zM126 453h1v4h-1zM132 443h1v14h-1zM133 451h1v6h-1zM134 451h1v6h-1zM143 455h1v2h-1zM145 451h1v4h-1zM146 451h1v6h-1zM149 429h1v2h-1zM149 433h1v2h-1zM149 443h1v4h-1zM149 449h1v4h-1zM149 455h1v2h-1zM150 447h1v4h-1zM150 453h1v4h-1zM151 447h1v10h-1zM152 449h1v4h-1zM152 455h1v2h-1zM153 371h1v6h-1zM153 381h1v4h-1zM153 409h1v8h-1zM153 421h1v6h-1zM153 455h1v2h-1zM154 339h1v6h-1zM154 353h1v8h-1zM154 389h1v14h-1zM155 339h1v8h-1zM155 357h1v6h-1zM155 389h1v16h-1zM156 341h1v4h-1zM156 351h1v8h-1zM156 361h1v2h-1zM156 365h1v2h-1zM156 389h1v20h-1zM157 341h1v4h-1zM157 389h1v8h-1zM157 399h1v8h-1zM158 341h1v6h-1zM158 371h1v2h-1zM158 385h1v2h-1zM158 389h1v12h-1zM158 407h1v2h-1zM159 345h1v2h-1zM159 369h1v6h-1zM159 377h1v8h-1zM159 387h1v6h-1zM159 397h1v10h-1zM160 339h1v2h-1zM161 339h1v4h-1zM161 371h1v6h-1zM162 339h1v4h-1zM163 353h1v6h-1zM163 363h1v2h-1zM163 407h1v8h-1zM163 419h1v2h-1zM163 423h1v2h-1zM163 431h1v4h-1zM164 431h1v2h-1zM164 437h1v2h-1zM164 443h1v4h-1zM164 453h1v2h-1zM165 423h1v2h-1zM165 437h1v20h-1zM166 451h1v6h-1zM167 425h1v2h-1zM167 435h1v22h-1zM168 437h1v4h-1zM168 443h1v2h-1zM168 451h1v4h-1zM169 355h1v6h-1zM169 367h1v4h-1zM169 407h1v10h-1zM169 419h1v2h-1zM169 425h1v2h-1zM169 431h1v2h-1zM170 349h1v4h-1zM170 375h1v4h-1zM170 395h1v14h-1zM171 349h1v4h-1zM171 375h1v2h-1zM171 403h1v2h-1zM171 407h1v8h-1zM172 353h1v2h-1zM172 373h1v6h-1zM172 413h1v8h-1zM173 423h1v2h-1zM173 429h1v2h-1zM173 433h1v6h-1zM173 451h1v4h-1zM174 441h1v2h-1zM174 445h1v12h-1zM175 409h1v6h-1zM175 417h1v2h-1zM175 421h1v4h-1zM176 413h1v2h-1zM176 419h1v2h-1zM177 341h1v4h-1zM177 353h1v10h-1zM177 367h1v8h-1zM177 381h1v6h-1zM177 405h1v4h-1zM178 339h1v2h-1zM178 371h1v12h-1zM178 409h1v2h-1zM179 339h1v6h-1zM179 371h1v12h-1zM179 407h1v2h-1zM180 353h1v6h-1zM180 361h1v8h-1zM180 387h1v6h-1zM180 399h1v6h-1zM181 407h1v2h-1zM181 423h1v2h-1zM182 349h1v2h-1zM182 353h1v10h-1zM182 365h1v6h-1zM182 381h1v8h-1zM182 391h1v2h-1zM182 401h1v4h-1zM183 405h1v2h-1zM183 423h1v2h-1zM184 409h1v4h-1zM184 453h1v4h-1zM185 409h1v2h-1zM185 415h1v4h-1zM185 425h1v2h-1zM186 355h1v6h-1zM186 367h1v4h-1zM186 375h1v4h-1zM186 381h1v20h-1zM187 341h1v2h-1zM187 345h1v6h-1zM187 353h1v2h-1zM187 409h1v2h-1zM188 339h1v4h-1zM188 355h1v6h-1zM188 367h1v8h-1zM188 377h1v2h-1zM188 387h1v2h-1zM188 391h1v12h-1zM188 405h1v2h-1zM189 343h1v4h-1zM189 349h1v6h-1zM189 369h1v2h-1zM189 375h1v2h-1zM189 385h1v16h-1zM189 407h1v4h-1zM190 413h1v6h-1zM190 423h1v6h-1zM191 423h1v2h-1zM191 431h1v2h-1zM192 417h1v14h-1zM192 451h1v4h-1zM193 441h1v2h-1zM193 451h1v6h-1zM194 435h1v8h-1zM194 451h1v6h-1zM195 423h1v8h-1zM196 421h1v4h-1zM196 427h1v2h-1zM196 451h1v6h-1zM197 431h1v10h-1zM197 443h1v2h-1zM197 447h1v10h-1zM198 423h1v6h-1zM198 451h1v6h-1zM199 453h1v2h-1zM200 453h1v4h-1zM201 431h1v6h-1zM201 441h1v16h-1zM202 455h1v2h-1zM203 445h1v4h-1zM203 451h1v2h-1zM203 455h1v2h-1zM204 451h1v2h-1zM205 427h1v2h-1zM205 437h1v10h-1zM205 451h1v6h-1zM206 451h1v2h-1zM207 453h1v4h-1zM209 455h1v2h-1zM210 455h1v2h-1zM211 439h1v4h-1zM211 453h1v4h-1zM212 411h1v2h-1zM212 417h1v4h-1zM212 423h1v2h-1zM212 427h1v8h-1zM212 451h1v2h-1zM212 455h1v2h-1zM213 439h1v2h-1zM213 443h1v6h-1zM213 451h1v6h-1zM214 443h1v4h-1zM214 451h1v6h-1zM215 453h1v2h-1zM216 449h1v2h-1zM217 417h1v2h-1zM217 451h1v4h-1zM218 413h1v2h-1zM218 417h1v6h-1zM218 429h1v2h-1zM219 351h1v10h-1zM220 351h1v14h-1zM220 367h1v2h-1zM220 371h1v2h-1zM220 377h1v2h-1zM220 407h1v4h-1zM220 413h1v6h-1zM221 353h1v12h-1zM221 369h1v4h-1zM221 375h1v2h-1zM221 379h1v2h-1zM221 383h1v2h-1zM221 417h1v2h-1zM222 349h1v2h-1zM222 387h1v4h-1zM222 393h1v2h-1zM223 351h1v4h-1zM223 383h1v4h-1zM223 395h1v10h-1zM223 415h1v2h-1zM225 339h1v2h-1zM226 345h1v4h-1zM226 391h1v10h-1zM227 349h1v2h-1zM227 353h1v2h-1zM227 389h1v2h-1zM227 403h1v2h-1zM228 345h1v4h-1zM228 391h1v10h-1zM229 347h1v8h-1zM229 383h1v10h-1zM229 403h1v2h-1zM229 411h1v4h-1zM230 345h1v4h-1zM230 397h1v4h-1zM231 343h1v4h-1zM231 393h1v14h-1zM231 409h1v2h-1zM232 349h1v2h-1zM232 375h1v12h-1zM232 389h1v4h-1zM232 417h1v2h-1z"/>
<path fill="#d05074" d="M30 417h1v2h-1zM30 421h1v2h-1zM30 425h1v2h-1zM30 431h1v2h-1zM30 441h1v4h-1zM30 451h1v2h-1zM30 455h1v2h-1zM31 413h1v2h-1zM31 419h1v4h-1zM31 429h1v4h-1zM31 451h1v2h-1zM32 339h1v14h-1zM32 375h1v2h-1zM32 379h1v14h-1zM32 409h1v2h-1zM33 347h1v6h-1zM33 371h1v12h-1zM33 385h1v8h-1zM33 409h1v2h-1zM34 343h1v2h-1zM34 347h1v8h-1zM34 375h1v4h-1zM34 381h1v2h-1zM34 385h1v8h-1zM34 407h1v2h-1zM35 423h1v2h-1zM35 433h1v4h-1zM35 443h1v2h-1zM35 451h1v2h-1zM35 455h1v2h-1zM36 423h1v4h-1zM36 433h1v4h-1zM36 451h1v6h-1zM37 417h1v2h-1zM37 423h1v2h-1zM37 443h1v4h-1zM37 451h1v6h-1zM38 351h1v2h-1zM38 357h1v6h-1zM38 367h1v2h-1zM38 375h1v12h-1zM38 407h1v2h-1zM38 455h1v2h-1zM39 351h1v4h-1zM39 359h1v2h-1zM39 375h1v6h-1zM39 383h1v4h-1zM39 407h1v2h-1zM40 377h1v8h-1zM40 409h1v4h-1zM40 417h1v2h-1zM41 367h1v2h-1zM41 379h1v4h-1zM41 405h1v4h-1zM41 413h1v2h-1zM41 451h1v2h-1zM42 341h1v2h-1zM42 345h1v10h-1zM42 387h1v10h-1zM42 399h1v6h-1zM43 341h1v16h-1zM43 393h1v2h-1zM43 397h1v4h-1zM44 341h1v8h-1zM44 351h1v6h-1zM44 397h1v4h-1zM45 357h1v6h-1zM45 369h1v2h-1zM45 387h1v6h-1zM45 401h1v4h-1zM45 409h1v2h-1zM45 413h1v2h-1zM45 417h1v2h-1zM45 455h1v2h-1zM46 409h1v4h-1zM46 451h1v2h-1zM47 433h1v2h-1zM48 423h1v2h-1zM48 443h1v4h-1zM48 451h1v2h-1zM49 353h1v2h-1zM49 377h1v4h-1zM49 389h1v4h-1zM49 409h1v2h-1zM49 413h1v4h-1zM49 453h1v4h-1zM50 341h1v10h-1zM50 367h1v6h-1zM50 395h1v2h-1zM50 401h1v6h-1zM50 453h1v2h-1zM51 379h1v2h-1zM51 387h1v4h-1zM52 417h1v2h-1zM52 421h1v2h-1zM52 449h1v4h-1zM53 425h1v2h-1zM53 445h1v2h-1zM54 371h1v6h-1zM54 383h1v2h-1zM54 387h1v4h-1zM54 409h1v2h-1zM54 413h1v2h-1zM54 417h1v2h-1zM54 455h1v2h-1zM55 367h1v2h-1zM55 387h1v6h-1zM55 405h1v4h-1zM55 413h1v4h-1zM55 455h1v2h-1zM56 369h1v2h-1zM56 383h1v8h-1zM56 405h1v4h-1zM56 415h1v2h-1zM56 423h1v2h-1zM56 453h1v4h-1zM57 371h1v14h-1zM57 417h1v2h-1zM57 423h1v4h-1zM57 453h1v4h-1zM58 411h1v2h-1zM58 427h1v2h-1zM58 453h1v4h-1zM59 411h1v2h-1zM59 415h1v2h-1zM59 419h1v2h-1zM59 455h1v2h-1zM60 413h1v2h-1zM60 419h1v4h-1zM60 451h1v2h-1zM61 349h1v6h-1zM61 409h1v4h-1zM61 451h1v4h-1zM62 339h1v2h-1zM62 363h1v6h-1zM62 371h1v2h-1zM62 383h1v14h-1zM62 399h1v2h-1zM62 407h1v2h-1zM63 343h1v18h-1zM63 369h1v4h-1zM63 411h1v2h-1zM63 451h1v2h-1zM63 455h1v2h-1zM64 345h1v10h-1zM64 357h1v2h-1zM64 361h1v8h-1zM64 371h1v10h-1zM64 385h1v2h-1zM64 411h1v2h-1zM64 451h1v2h-1zM65 417h1v2h-1zM65 451h1v2h-1zM67 347h1v2h-1zM67 363h1v4h-1zM67 409h1v4h-1zM67 451h1v6h-1zM68 361h1v4h-1zM68 367h1v2h-1zM68 389h1v2h-1zM68 413h1v2h-1zM68 451h1v6h-1zM69 413h1v4h-1zM69 419h1v2h-1zM69 451h1v6h-1zM70 423h1v6h-1zM70 443h1v4h-1zM70 449h1v2h-1zM71 413h1v4h-1zM71 419h1v2h-1zM71 423h1v2h-1zM72 415h1v4h-1zM72 423h1v6h-1zM72 451h1v6h-1zM75 439h1v2h-1zM78 439h1v2h-1zM80 437h1v2h-1zM80 441h1v6h-1zM80 449h1v2h-1zM81 403h1v10h-1zM81 415h1v2h-1zM81 451h1v6h-1zM82 347h1v6h-1zM82 355h1v6h-1zM82 363h1v8h-1zM82 375h1v12h-1zM82 401h1v2h-1zM82 451h1v2h-1zM83 339h1v4h-1zM83 345h1v2h-1zM83 355h1v2h-1zM83 383h1v6h-1zM83 401h1v2h-1zM84 365h1v2h-1zM84 369h1v2h-1zM84 377h1v6h-1zM84 405h1v4h-1zM84 413h1v4h-1zM85 343h1v2h-1zM85 367h1v2h-1zM85 373h1v12h-1zM85 403h1v4h-1zM85 453h1v2h-1zM86 339h1v2h-1zM86 343h1v2h-1zM86 347h1v4h-1zM86 375h1v10h-1zM86 405h1v2h-1zM87 413h1v2h-1zM88 455h1v2h-1zM89 423h1v2h-1zM89 453h1v2h-1zM90 423h1v2h-1zM90 435h1v2h-1zM90 451h1v6h-1zM91 425h1v2h-1zM91 429h1v2h-1zM91 433h1v2h-1zM91 439h1v2h-1zM91 443h1v2h-1zM91 453h1v4h-1zM92 419h1v2h-1zM92 425h1v4h-1zM92 451h1v6h-1zM93 355h1v4h-1zM93 361h1v8h-1zM93 371h1v2h-1zM93 411h1v4h-1zM93 425h1v2h-1zM93 451h1v6h-1zM94 357h1v12h-1zM94 427h1v2h-1zM94 451h1v6h-1zM95 353h1v2h-1zM95 373h1v4h-1zM95 389h1v8h-1zM95 399h1v4h-1zM95 407h1v2h-1zM95 411h1v14h-1zM95 453h1v4h-1zM96 359h1v2h-1zM96 363h1v4h-1zM96 429h1v4h-1zM96 443h1v4h-1zM96 449h1v2h-1zM96 453h1v2h-1zM97 431h1v2h-1zM97 439h1v4h-1zM97 449h1v2h-1zM98 427h1v2h-1zM98 441h1v4h-1zM98 449h1v2h-1zM98 455h1v2h-1zM99 441h1v2h-1zM99 453h1v2h-1zM100 439h1v2h-1zM100 449h1v4h-1zM101 419h1v2h-1zM101 437h1v2h-1zM102 421h1v2h-1zM102 433h1v4h-1zM102 443h1v4h-1zM102 451h1v2h-1zM103 419h1v4h-1zM103 427h1v2h-1zM103 433h1v4h-1zM103 443h1v4h-1zM103 451h1v2h-1zM104 411h1v4h-1zM104 419h1v2h-1zM104 425h1v4h-1zM104 453h1v2h-1zM105 435h1v2h-1zM105 445h1v2h-1zM105 453h1v2h-1zM107 385h1v4h-1zM107 417h1v8h-1zM107 455h1v2h-1zM108 389h1v2h-1zM108 425h1v2h-1zM108 451h1v6h-1zM109 427h1v2h-1zM109 451h1v4h-1zM110 425h1v2h-1zM110 451h1v4h-1zM111 443h1v8h-1zM115 449h1v2h-1zM116 433h1v4h-1zM116 445h1v2h-1zM117 419h1v2h-1zM117 423h1v2h-1zM117 435h1v2h-1zM117 445h1v4h-1zM117 453h1v2h-1zM118 343h1v10h-1zM118 371h1v6h-1zM118 417h1v2h-1zM118 423h1v4h-1zM118 433h1v2h-1zM118 451h1v4h-1zM119 343h1v8h-1zM119 357h1v2h-1zM119 367h1v2h-1zM119 375h1v6h-1zM119 409h1v4h-1zM119 425h1v2h-1zM119 453h1v4h-1zM120 389h1v2h-1zM122 349h1v2h-1zM122 381h1v2h-1zM122 385h1v8h-1zM122 395h1v2h-1zM122 399h1v4h-1zM122 405h1v2h-1zM122 411h1v4h-1zM123 353h1v8h-1zM123 421h1v2h-1zM123 425h1v12h-1zM123 451h1v6h-1zM149 447h1v2h-1zM149 453h1v2h-1zM153 377h1v4h-1zM153 417h1v4h-1zM153 431h1v6h-1zM153 451h1v4h-1zM154 345h1v8h-1zM154 361h1v10h-1zM154 387h1v2h-1zM154 403h1v6h-1zM154 421h1v2h-1zM154 451h1v2h-1zM155 347h1v10h-1zM155 363h1v6h-1zM155 387h1v2h-1zM155 405h1v6h-1zM155 455h1v2h-1zM156 345h1v6h-1zM156 359h1v2h-1zM156 363h1v2h-1zM156 367h1v2h-1zM156 385h1v4h-1zM156 453h1v4h-1zM157 345h1v2h-1zM157 349h1v2h-1zM157 355h1v18h-1zM157 383h1v6h-1zM157 397h1v2h-1zM157 407h1v2h-1zM157 453h1v4h-1zM158 347h1v24h-1zM158 373h1v6h-1zM158 383h1v2h-1zM158 387h1v2h-1zM158 413h1v2h-1zM158 453h1v2h-1zM159 347h1v8h-1zM159 357h1v12h-1zM159 375h1v2h-1zM159 385h1v2h-1zM159 393h1v4h-1zM159 407h1v2h-1zM159 423h1v4h-1zM160 341h1v2h-1zM161 343h1v2h-1zM161 367h1v4h-1zM161 377h1v6h-1zM161 401h1v8h-1zM162 343h1v2h-1zM162 371h1v14h-1zM163 415h1v2h-1zM163 429h1v2h-1zM163 439h1v4h-1zM163 451h1v4h-1zM164 439h1v4h-1zM164 447h1v2h-1zM164 451h1v2h-1zM164 455h1v2h-1zM168 441h1v2h-1zM168 445h1v6h-1zM168 455h1v2h-1zM169 361h1v6h-1zM169 417h1v2h-1zM169 421h1v4h-1zM169 427h1v4h-1zM169 433h1v4h-1zM169 451h1v6h-1zM170 353h1v2h-1zM170 371h1v4h-1zM170 409h1v8h-1zM170 451h1v2h-1zM170 455h1v2h-1zM171 353h1v6h-1zM171 371h1v4h-1zM171 415h1v8h-1zM171 451h1v6h-1zM172 355h1v18h-1zM172 421h1v6h-1zM172 453h1v4h-1zM173 439h1v4h-1zM173 455h1v2h-1zM175 415h1v2h-1zM175 425h1v2h-1zM175 433h1v4h-1zM175 451h1v6h-1zM176 415h1v4h-1zM176 429h1v6h-1zM176 451h1v4h-1zM177 339h1v2h-1zM177 375h1v6h-1zM177 409h1v4h-1zM177 419h1v2h-1zM177 451h1v2h-1zM178 419h1v2h-1zM178 455h1v2h-1zM179 409h1v2h-1zM179 415h1v4h-1zM179 425h1v2h-1zM180 341h1v12h-1zM180 359h1v2h-1zM180 369h1v4h-1zM180 375h1v12h-1zM181 413h1v6h-1zM181 425h1v2h-1zM181 453h1v4h-1zM182 371h1v10h-1zM182 405h1v4h-1zM182 453h1v4h-1zM183 407h1v2h-1zM183 413h1v4h-1zM183 425h1v2h-1zM183 453h1v4h-1zM184 427h1v2h-1zM184 433h1v4h-1zM184 443h1v4h-1zM185 413h1v2h-1zM185 423h1v2h-1zM185 427h1v2h-1zM185 453h1v4h-1zM186 339h1v8h-1zM186 349h1v6h-1zM186 371h1v4h-1zM186 401h1v8h-1zM186 455h1v2h-1zM187 411h1v2h-1zM188 343h1v12h-1zM188 389h1v2h-1zM188 407h1v4h-1zM189 347h1v2h-1zM189 371h1v4h-1zM189 411h1v2h-1zM189 451h1v4h-1zM190 419h1v4h-1zM190 429h1v8h-1zM190 451h1v6h-1zM191 433h1v4h-1zM191 451h1v6h-1zM192 431h1v4h-1zM192 455h1v2h-1zM195 431h1v6h-1zM195 447h1v10h-1zM196 425h1v2h-1zM196 429h1v4h-1zM197 441h1v2h-1zM197 445h1v2h-1zM198 429h1v4h-1zM198 439h1v2h-1zM205 429h1v8h-1zM205 447h1v4h-1zM212 413h1v4h-1zM212 435h1v4h-1zM212 443h1v8h-1zM212 453h1v2h-1zM217 425h1v4h-1zM217 435h1v4h-1zM217 455h1v2h-1zM218 415h1v2h-1zM218 427h1v2h-1zM218 431h1v2h-1zM218 441h1v2h-1zM218 449h1v4h-1zM219 411h1v2h-1zM219 415h1v6h-1zM219 437h1v2h-1zM219 455h1v2h-1zM220 411h1v2h-1zM220 453h1v4h-1zM221 409h1v4h-1zM222 351h1v4h-1zM222 369h1v2h-1zM222 375h1v12h-1zM222 391h1v2h-1zM222 395h1v12h-1zM222 413h1v4h-1zM223 355h1v16h-1zM223 375h1v8h-1zM223 405h1v4h-1zM223 411h1v4h-1zM223 453h1v4h-1zM224 339h1v2h-1zM225 341h1v4h-1zM226 349h1v2h-1zM226 385h1v6h-1zM226 401h1v4h-1zM226 453h1v4h-1zM227 351h1v2h-1zM227 355h1v8h-1zM227 365h1v2h-1zM227 369h1v4h-1zM227 375h1v14h-1zM227 405h1v6h-1zM227 415h1v4h-1zM227 453h1v4h-1zM228 349h1v6h-1zM228 379h1v2h-1zM228 383h1v8h-1zM228 401h1v4h-1zM228 409h1v2h-1zM228 451h1v2h-1zM229 355h1v6h-1zM229 363h1v2h-1zM229 375h1v8h-1zM229 405h1v6h-1zM229 421h1v2h-1zM229 451h1v4h-1zM230 349h1v2h-1zM230 391h1v6h-1zM230 401h1v4h-1zM230 451h1v4h-1zM231 347h1v4h-1zM231 379h1v2h-1zM231 383h1v2h-1zM231 387h1v2h-1zM231 391h1v2h-1zM231 407h1v2h-1zM231 411h1v8h-1zM231 451h1v6h-1zM232 351h1v2h-1zM232 359h1v2h-1zM232 363h1v12h-1zM232 387h1v2h-1zM232 419h1v14h-1zM232 435h1v6h-1zM232 451h1v4h-1z"/>
<path fill="#dc5b63" d="M30 419h1v2h-1zM30 427h1v2h-1zM31 417h1v2h-1zM31 423h1v2h-1zM31 439h1v4h-1zM31 453h1v4h-1zM32 353h1v22h-1zM32 377h1v2h-1zM32 411h1v2h-1zM32 455h1v2h-1zM33 353h1v18h-1zM33 453h1v4h-1zM34 355h1v6h-1zM34 367h1v4h-1zM34 373h1v2h-1zM34 453h1v4h-1zM35 417h1v2h-1zM35 445h1v2h-1zM36 443h1v4h-1zM38 409h1v2h-1zM38 413h1v4h-1zM38 453h1v2h-1zM39 381h1v2h-1zM39 409h1v2h-1zM39 415h1v2h-1zM39 453h1v4h-1zM40 415h1v2h-1zM40 419h1v2h-1zM40 427h1v2h-1zM40 451h1v2h-1zM40 455h1v2h-1zM41 417h1v6h-1zM41 453h1v2h-1zM42 339h1v2h-1zM42 343h1v2h-1zM42 355h1v6h-1zM42 367h1v14h-1zM42 383h1v4h-1zM42 413h1v2h-1zM42 451h1v6h-1zM43 339h1v2h-1zM43 357h1v4h-1zM43 371h1v2h-1zM43 377h1v4h-1zM43 383h1v10h-1zM43 395h1v2h-1zM43 401h1v4h-1zM43 411h1v2h-1zM43 451h1v2h-1zM44 339h1v2h-1zM44 357h1v4h-1zM44 369h1v28h-1zM44 401h1v4h-1zM44 409h1v4h-1zM44 417h1v2h-1zM44 451h1v2h-1zM44 455h1v2h-1zM45 363h1v6h-1zM45 405h1v4h-1zM45 411h1v2h-1zM45 453h1v2h-1zM46 423h1v4h-1zM46 443h1v4h-1zM47 421h1v2h-1zM48 425h1v2h-1zM49 381h1v8h-1zM49 411h1v2h-1zM49 417h1v2h-1zM49 451h1v2h-1zM50 351h1v16h-1zM50 373h1v6h-1zM50 393h1v2h-1zM50 407h1v4h-1zM50 415h1v2h-1zM50 455h1v2h-1zM51 381h1v6h-1zM51 413h1v4h-1zM51 451h1v6h-1zM52 439h1v4h-1zM53 427h1v2h-1zM53 435h1v2h-1zM53 447h1v2h-1zM53 451h1v4h-1zM54 377h1v6h-1zM54 385h1v2h-1zM54 411h1v2h-1zM54 423h1v4h-1zM54 453h1v2h-1zM55 369h1v6h-1zM55 379h1v8h-1zM55 411h1v2h-1zM55 417h1v2h-1zM55 423h1v2h-1zM55 451h1v4h-1zM56 371h1v12h-1zM56 411h1v2h-1zM56 417h1v2h-1zM56 425h1v2h-1zM56 451h1v2h-1zM57 409h1v4h-1zM57 451h1v2h-1zM58 423h1v2h-1zM58 451h1v2h-1zM59 425h1v6h-1zM59 453h1v2h-1zM60 417h1v2h-1zM60 429h1v4h-1zM60 453h1v4h-1zM61 413h1v2h-1zM61 455h1v2h-1zM62 341h1v4h-1zM62 359h1v4h-1zM62 369h1v2h-1zM62 373h1v10h-1zM62 451h1v6h-1zM63 413h1v4h-1zM63 453h1v2h-1zM64 413h1v2h-1zM64 453h1v4h-1zM65 419h1v16h-1zM65 449h1v2h-1zM67 413h1v4h-1zM68 415h1v6h-1zM69 417h1v2h-1zM69 421h1v2h-1zM69 427h1v2h-1zM69 449h1v2h-1zM70 429h1v8h-1zM70 439h1v4h-1zM71 417h1v2h-1zM71 421h1v2h-1zM71 425h1v4h-1zM71 447h1v4h-1zM72 429h1v6h-1zM72 445h1v6h-1zM80 439h1v2h-1zM81 417h1v2h-1zM81 421h1v2h-1zM82 353h1v2h-1zM82 361h1v2h-1zM82 371h1v4h-1zM82 403h1v4h-1zM82 411h1v2h-1zM82 453h1v2h-1zM83 343h1v2h-1zM83 347h1v8h-1zM83 357h1v6h-1zM83 365h1v18h-1zM83 403h1v2h-1zM83 455h1v2h-1zM84 409h1v2h-1zM84 417h1v2h-1zM84 453h1v4h-1zM85 407h1v2h-1zM85 413h1v4h-1zM85 451h1v2h-1zM85 455h1v2h-1zM86 407h1v2h-1zM86 413h1v4h-1zM86 451h1v6h-1zM87 409h1v4h-1zM87 415h1v2h-1zM87 423h1v4h-1zM87 435h1v2h-1zM87 443h1v2h-1zM87 451h1v6h-1zM88 409h1v2h-1zM88 413h1v6h-1zM88 425h1v2h-1zM88 435h1v2h-1zM88 443h1v2h-1zM88 451h1v4h-1zM89 421h1v2h-1zM89 443h1v2h-1zM89 449h1v4h-1zM90 445h1v2h-1zM91 427h1v2h-1zM91 435h1v2h-1zM91 449h1v2h-1zM92 429h1v2h-1zM92 433h1v6h-1zM92 443h1v4h-1zM93 359h1v2h-1zM93 427h1v4h-1zM94 429h1v6h-1zM94 439h1v2h-1zM94 445h1v4h-1zM95 355h1v4h-1zM95 365h1v8h-1zM95 397h1v2h-1zM95 425h1v2h-1zM95 451h1v2h-1zM96 433h1v10h-1zM96 447h1v2h-1zM98 435h1v4h-1zM98 445h1v4h-1zM99 433h1v2h-1zM99 443h1v2h-1zM100 431h1v2h-1zM100 441h1v2h-1zM101 431h1v2h-1zM101 441h1v2h-1zM101 447h1v2h-1zM102 419h1v2h-1zM103 437h1v2h-1zM104 437h1v2h-1zM104 451h1v2h-1zM105 433h1v2h-1zM105 443h1v2h-1zM106 447h1v2h-1zM107 425h1v6h-1zM107 437h1v4h-1zM107 451h1v4h-1zM108 427h1v4h-1zM108 437h1v6h-1zM109 429h1v16h-1zM110 427h1v4h-1zM110 435h1v6h-1zM110 443h1v2h-1zM116 443h1v2h-1zM117 437h1v2h-1zM117 451h1v2h-1zM118 435h1v2h-1zM118 443h1v4h-1zM119 369h1v6h-1zM119 417h1v2h-1zM119 423h1v2h-1zM119 433h1v4h-1zM119 451h1v2h-1zM120 385h1v4h-1zM120 391h1v16h-1zM120 453h1v4h-1zM121 341h1v4h-1zM121 385h1v20h-1zM122 351h1v2h-1zM122 361h1v6h-1zM122 371h1v4h-1zM122 377h1v4h-1zM122 383h1v2h-1zM122 403h1v2h-1zM122 407h1v4h-1zM122 415h1v2h-1zM122 451h1v6h-1zM123 423h1v2h-1zM123 437h1v2h-1zM123 441h1v10h-1zM153 427h1v4h-1zM153 441h1v2h-1zM154 371h1v2h-1zM154 383h1v4h-1zM154 409h1v4h-1zM154 419h1v2h-1zM154 429h1v2h-1zM154 453h1v4h-1zM155 369h1v4h-1zM155 383h1v4h-1zM155 411h1v2h-1zM155 417h1v4h-1zM155 427h1v4h-1zM156 369h1v10h-1zM156 383h1v2h-1zM156 409h1v2h-1zM156 415h1v4h-1zM156 425h1v4h-1zM157 347h1v2h-1zM157 351h1v4h-1zM157 373h1v6h-1zM157 381h1v2h-1zM157 413h1v4h-1zM157 423h1v4h-1zM157 451h1v2h-1zM158 379h1v4h-1zM158 409h1v2h-1zM158 415h1v2h-1zM158 423h1v4h-1zM158 451h1v2h-1zM158 455h1v2h-1zM159 355h1v2h-1zM159 413h1v4h-1zM159 451h1v6h-1zM160 343h1v2h-1zM160 371h1v2h-1zM160 379h1v4h-1zM160 387h1v2h-1zM160 403h1v6h-1zM160 453h1v4h-1zM161 345h1v4h-1zM161 361h1v6h-1zM161 383h1v18h-1zM162 345h1v4h-1zM162 365h1v6h-1zM162 385h1v8h-1zM162 395h1v2h-1zM162 399h1v10h-1zM162 451h1v2h-1zM163 417h1v2h-1zM163 425h1v2h-1zM163 443h1v2h-1zM163 455h1v2h-1zM164 449h1v2h-1zM169 437h1v4h-1zM170 355h1v8h-1zM170 365h1v6h-1zM170 417h1v18h-1zM170 453h1v2h-1zM171 359h1v12h-1zM171 423h1v12h-1zM172 427h1v10h-1zM172 451h1v2h-1zM173 443h1v8h-1zM175 419h1v2h-1zM175 427h1v2h-1zM175 431h1v2h-1zM175 443h1v2h-1zM176 425h1v2h-1zM176 439h1v6h-1zM176 455h1v2h-1zM177 421h1v2h-1zM177 455h1v2h-1zM178 411h1v2h-1zM178 415h1v4h-1zM178 427h1v2h-1zM179 427h1v2h-1zM179 453h1v4h-1zM180 339h1v2h-1zM180 373h1v2h-1zM180 405h1v4h-1zM180 453h1v4h-1zM181 409h1v4h-1zM181 451h1v2h-1zM182 413h1v4h-1zM182 423h1v2h-1zM183 411h1v2h-1zM183 417h1v2h-1zM183 451h1v2h-1zM184 421h1v2h-1zM184 451h1v2h-1zM185 411h1v2h-1zM185 433h1v6h-1zM185 445h1v2h-1zM186 347h1v2h-1zM186 409h1v2h-1zM187 417h1v4h-1zM187 427h1v4h-1zM187 437h1v2h-1zM187 451h1v2h-1zM187 455h1v2h-1zM188 411h1v2h-1zM188 419h1v4h-1zM188 451h1v4h-1zM189 413h1v4h-1zM189 421h1v4h-1zM189 431h1v2h-1zM189 455h1v2h-1zM190 437h1v2h-1zM190 443h1v6h-1zM191 437h1v14h-1zM192 435h1v2h-1zM192 445h1v6h-1zM195 437h1v10h-1zM196 433h1v4h-1zM196 441h1v10h-1zM198 433h1v6h-1zM198 441h1v10h-1zM212 439h1v4h-1zM217 445h1v4h-1zM218 447h1v2h-1zM218 453h1v4h-1zM219 413h1v2h-1zM219 427h1v2h-1zM219 435h1v2h-1zM219 439h1v2h-1zM219 453h1v2h-1zM220 435h1v4h-1zM221 435h1v2h-1zM221 453h1v4h-1zM222 355h1v14h-1zM222 371h1v4h-1zM222 407h1v2h-1zM222 453h1v4h-1zM223 371h1v4h-1zM223 409h1v2h-1zM223 451h1v2h-1zM224 341h1v6h-1zM224 387h1v10h-1zM224 453h1v4h-1zM225 345h1v6h-1zM225 387h1v16h-1zM225 453h1v4h-1zM226 351h1v8h-1zM226 365h1v2h-1zM226 379h1v6h-1zM226 405h1v4h-1zM226 413h1v4h-1zM227 363h1v2h-1zM227 367h1v2h-1zM227 373h1v2h-1zM227 413h1v2h-1zM227 419h1v2h-1zM227 447h1v2h-1zM228 355h1v8h-1zM228 365h1v2h-1zM228 373h1v6h-1zM228 381h1v2h-1zM228 405h1v4h-1zM228 411h1v2h-1zM228 417h1v4h-1zM228 455h1v2h-1zM229 361h1v2h-1zM229 365h1v10h-1zM229 415h1v6h-1zM229 423h1v2h-1zM229 455h1v2h-1zM230 351h1v4h-1zM230 377h1v14h-1zM230 405h1v12h-1zM230 455h1v2h-1zM231 351h1v2h-1zM231 365h1v2h-1zM231 371h1v8h-1zM231 381h1v2h-1zM231 385h1v2h-1zM231 389h1v2h-1zM231 419h1v2h-1zM232 353h1v6h-1zM232 361h1v2h-1zM232 433h1v2h-1zM232 441h1v2h-1zM232 445h1v2h-1zM232 455h1v2h-1z"/>
<path fill="#e76653" d="M30 429h1v2h-1zM30 437h1v4h-1zM30 445h1v2h-1zM31 415h1v2h-1zM31 427h1v2h-1zM31 433h1v2h-1zM31 437h1v2h-1zM31 449h1v2h-1zM32 417h1v2h-1zM32 451h1v2h-1zM33 411h1v2h-1zM33 415h1v4h-1zM33 427h1v2h-1zM34 361h1v6h-1zM34 371h1v2h-1zM34 409h1v2h-1zM34 413h1v2h-1zM34 451h1v2h-1zM35 427h1v2h-1zM36 417h1v2h-1zM36 427h1v2h-1zM37 421h1v2h-1zM37 427h1v2h-1zM38 411h1v2h-1zM38 417h1v2h-1zM38 425h1v2h-1zM38 435h1v2h-1zM38 451h1v2h-1zM39 411h1v4h-1zM39 417h1v2h-1zM39 425h1v4h-1zM39 435h1v2h-1zM39 451h1v2h-1zM40 413h1v2h-1zM40 429h1v2h-1zM40 437h1v4h-1zM40 447h1v2h-1zM40 453h1v2h-1zM41 415h1v2h-1zM41 429h1v2h-1zM41 449h1v2h-1zM41 455h1v2h-1zM42 361h1v6h-1zM42 381h1v2h-1zM42 405h1v8h-1zM42 415h1v2h-1zM43 361h1v10h-1zM43 373h1v4h-1zM43 381h1v2h-1zM43 405h1v2h-1zM43 409h1v2h-1zM43 413h1v2h-1zM43 453h1v4h-1zM44 361h1v8h-1zM44 405h1v4h-1zM44 415h1v2h-1zM44 419h1v2h-1zM44 453h1v2h-1zM45 419h1v2h-1zM45 447h1v2h-1zM45 451h1v2h-1zM46 427h1v2h-1zM46 435h1v2h-1zM46 447h1v2h-1zM47 419h1v2h-1zM47 427h1v2h-1zM47 441h1v2h-1zM47 447h1v2h-1zM48 421h1v2h-1zM48 433h1v4h-1zM49 423h1v2h-1zM49 443h1v4h-1zM50 379h1v2h-1zM50 383h1v10h-1zM50 413h1v2h-1zM50 417h1v2h-1zM51 417h1v6h-1zM51 449h1v2h-1zM52 415h1v2h-1zM52 429h1v2h-1zM52 447h1v2h-1zM52 453h1v4h-1zM53 421h1v4h-1zM53 437h1v2h-1zM54 427h1v2h-1zM54 451h1v2h-1zM55 375h1v4h-1zM55 409h1v2h-1zM55 425h1v2h-1zM56 409h1v2h-1zM57 427h1v2h-1zM57 445h1v2h-1zM58 419h1v2h-1zM58 435h1v4h-1zM58 445h1v4h-1zM59 413h1v2h-1zM59 447h1v2h-1zM59 451h1v2h-1zM60 415h1v2h-1zM60 427h1v2h-1zM60 439h1v4h-1zM60 449h1v2h-1zM61 415h1v2h-1zM61 431h1v4h-1zM62 345h1v10h-1zM62 357h1v2h-1zM62 409h1v4h-1zM63 417h1v4h-1zM63 425h1v2h-1zM63 431h1v2h-1zM64 415h1v4h-1zM65 435h1v14h-1zM67 417h1v2h-1zM67 421h1v2h-1zM67 445h1v2h-1zM68 421h1v4h-1zM68 427h1v2h-1zM68 445h1v2h-1zM69 423h1v4h-1zM69 429h1v20h-1zM70 437h1v2h-1zM71 429h1v4h-1zM71 443h1v4h-1zM72 435h1v2h-1zM72 441h1v4h-1zM81 419h1v2h-1zM81 423h1v4h-1zM81 431h1v4h-1zM81 441h1v6h-1zM82 407h1v4h-1zM82 413h1v2h-1zM82 455h1v2h-1zM83 363h1v2h-1zM83 405h1v6h-1zM83 451h1v2h-1zM84 411h1v2h-1zM84 451h1v2h-1zM85 409h1v4h-1zM85 417h1v2h-1zM86 409h1v4h-1zM87 417h1v2h-1zM87 433h1v2h-1zM87 445h1v2h-1zM88 411h1v2h-1zM88 423h1v2h-1zM88 427h1v2h-1zM88 433h1v2h-1zM88 437h1v2h-1zM88 445h1v2h-1zM89 433h1v2h-1zM90 433h1v2h-1zM90 443h1v2h-1zM91 437h1v2h-1zM91 445h1v2h-1zM92 431h1v2h-1zM92 439h1v4h-1zM92 447h1v2h-1zM93 431h1v20h-1zM94 435h1v4h-1zM94 441h1v4h-1zM94 449h1v2h-1zM95 359h1v6h-1zM95 427h1v4h-1zM95 443h1v2h-1zM95 447h1v2h-1zM102 427h1v2h-1zM102 431h1v2h-1zM102 441h1v2h-1zM103 447h1v2h-1zM104 423h1v2h-1zM104 435h1v2h-1zM104 445h1v4h-1zM107 431h1v6h-1zM107 441h1v6h-1zM108 431h1v6h-1zM108 443h1v2h-1zM109 445h1v6h-1zM110 431h1v4h-1zM110 441h1v2h-1zM110 445h1v6h-1zM117 421h1v2h-1zM117 429h1v2h-1zM117 433h1v2h-1zM117 443h1v2h-1zM118 419h1v4h-1zM118 427h1v2h-1zM119 421h1v2h-1zM119 427h1v2h-1zM119 443h1v4h-1zM120 339h1v12h-1zM120 353h1v12h-1zM120 377h1v8h-1zM120 407h1v4h-1zM120 413h1v4h-1zM120 451h1v2h-1zM121 339h1v2h-1zM121 345h1v8h-1zM121 361h1v4h-1zM121 381h1v4h-1zM121 405h1v8h-1zM121 451h1v6h-1zM122 353h1v8h-1zM122 367h1v4h-1zM122 375h1v2h-1zM122 417h1v2h-1zM122 421h1v2h-1zM122 431h1v2h-1zM123 439h1v2h-1zM153 437h1v2h-1zM153 443h1v4h-1zM154 373h1v10h-1zM154 413h1v2h-1zM154 417h1v2h-1zM154 423h1v2h-1zM154 431h1v2h-1zM155 373h1v10h-1zM155 415h1v2h-1zM155 425h1v2h-1zM155 451h1v4h-1zM156 379h1v4h-1zM156 413h1v2h-1zM156 423h1v2h-1zM156 451h1v2h-1zM157 379h1v2h-1zM157 409h1v4h-1zM157 417h1v2h-1zM158 411h1v2h-1zM158 417h1v2h-1zM158 433h1v4h-1zM159 409h1v4h-1zM159 417h1v2h-1zM159 433h1v4h-1zM160 345h1v2h-1zM160 349h1v2h-1zM160 363h1v8h-1zM160 373h1v6h-1zM160 383h1v4h-1zM160 389h1v14h-1zM161 349h1v6h-1zM161 357h1v4h-1zM161 409h1v2h-1zM161 417h1v2h-1zM161 425h1v4h-1zM161 453h1v4h-1zM162 349h1v16h-1zM162 393h1v2h-1zM162 397h1v2h-1zM162 409h1v4h-1zM162 417h1v6h-1zM162 455h1v2h-1zM163 427h1v2h-1zM163 449h1v2h-1zM169 441h1v8h-1zM170 363h1v2h-1zM170 435h1v2h-1zM171 435h1v4h-1zM172 437h1v2h-1zM175 429h1v2h-1zM175 437h1v2h-1zM175 441h1v2h-1zM175 445h1v2h-1zM176 427h1v2h-1zM176 435h1v2h-1zM176 449h1v2h-1zM177 413h1v2h-1zM177 417h1v2h-1zM177 427h1v4h-1zM177 453h1v2h-1zM178 413h1v2h-1zM178 421h1v2h-1zM178 425h1v2h-1zM178 429h1v2h-1zM178 437h1v4h-1zM178 447h1v2h-1zM178 451h1v4h-1zM179 411h1v4h-1zM179 419h1v2h-1zM179 423h1v2h-1zM179 435h1v4h-1zM179 451h1v2h-1zM180 415h1v2h-1zM181 421h1v2h-1zM181 433h1v4h-1zM181 443h1v4h-1zM182 425h1v2h-1zM182 451h1v2h-1zM183 409h1v2h-1zM183 421h1v2h-1zM183 433h1v4h-1zM183 443h1v2h-1zM184 419h1v2h-1zM184 437h1v2h-1zM185 419h1v2h-1zM185 443h1v2h-1zM185 451h1v2h-1zM186 415h1v4h-1zM186 453h1v2h-1zM187 413h1v4h-1zM187 421h1v2h-1zM187 439h1v2h-1zM187 453h1v2h-1zM188 413h1v2h-1zM188 429h1v4h-1zM188 439h1v4h-1zM188 455h1v2h-1zM189 419h1v2h-1zM189 425h1v2h-1zM189 433h1v2h-1zM189 441h1v2h-1zM190 439h1v4h-1zM192 437h1v8h-1zM196 437h1v4h-1zM218 425h1v2h-1zM218 435h1v2h-1zM219 425h1v2h-1zM219 429h1v2h-1zM219 445h1v4h-1zM219 451h1v2h-1zM220 419h1v2h-1zM220 425h1v4h-1zM220 445h1v2h-1zM220 451h1v2h-1zM221 423h1v4h-1zM221 443h1v4h-1zM221 451h1v2h-1zM222 409h1v4h-1zM222 451h1v2h-1zM223 417h1v2h-1zM223 423h1v4h-1zM224 347h1v4h-1zM224 383h1v2h-1zM224 397h1v8h-1zM224 451h1v2h-1zM225 351h1v2h-1zM225 357h1v2h-1zM225 383h1v4h-1zM225 403h1v4h-1zM225 413h1v4h-1zM225 451h1v2h-1zM226 359h1v6h-1zM226 367h1v12h-1zM226 409h1v2h-1zM226 417h1v2h-1zM226 451h1v2h-1zM227 411h1v2h-1zM227 427h1v2h-1zM227 445h1v2h-1zM227 451h1v2h-1zM228 363h1v2h-1zM228 367h1v6h-1zM228 413h1v4h-1zM228 421h1v2h-1zM228 449h1v2h-1zM228 453h1v2h-1zM229 429h1v2h-1zM229 439h1v4h-1zM229 449h1v2h-1zM230 355h1v10h-1zM230 367h1v10h-1zM230 421h1v4h-1zM231 353h1v12h-1zM231 367h1v4h-1zM231 421h1v10h-1zM231 433h1v8h-1zM232 443h1v2h-1zM232 447h1v2h-1z"/>
<path fill="#ef7446" d="M30 449h1v2h-1zM32 415h1v2h-1zM32 419h1v2h-1zM32 427h1v4h-1zM32 437h1v2h-1zM32 453h1v2h-1zM33 413h1v2h-1zM33 419h1v2h-1zM33 425h1v2h-1zM33 435h1v4h-1zM33 451h1v2h-1zM34 411h1v2h-1zM34 415h1v4h-1zM34 425h1v2h-1zM34 433h1v2h-1zM35 421h1v2h-1zM35 431h1v2h-1zM35 437h1v2h-1zM36 421h1v2h-1zM36 431h1v2h-1zM37 431h1v2h-1zM37 437h1v2h-1zM38 423h1v2h-1zM38 427h1v2h-1zM38 433h1v2h-1zM38 445h1v2h-1zM39 419h1v2h-1zM39 437h1v2h-1zM39 445h1v4h-1zM40 421h1v2h-1zM40 425h1v2h-1zM40 435h1v2h-1zM40 449h1v2h-1zM41 423h1v2h-1zM41 427h1v2h-1zM41 431h1v2h-1zM41 439h1v4h-1zM42 421h1v4h-1zM43 407h1v2h-1zM43 415h1v2h-1zM43 419h1v2h-1zM44 413h1v2h-1zM45 425h1v2h-1zM45 445h1v2h-1zM46 419h1v2h-1zM46 433h1v2h-1zM47 431h1v2h-1zM47 437h1v2h-1zM48 419h1v2h-1zM49 425h1v2h-1zM50 381h1v2h-1zM50 411h1v2h-1zM50 445h1v4h-1zM50 451h1v2h-1zM51 439h1v2h-1zM52 423h1v2h-1zM52 431h1v2h-1zM53 449h1v2h-1zM54 419h1v2h-1zM54 435h1v2h-1zM54 443h1v6h-1zM55 421h1v2h-1zM56 421h1v2h-1zM56 433h1v2h-1zM56 443h1v4h-1zM57 421h1v2h-1zM57 433h1v4h-1zM57 443h1v2h-1zM58 433h1v2h-1zM58 443h1v2h-1zM59 435h1v4h-1zM59 445h1v2h-1zM59 449h1v2h-1zM60 423h1v2h-1zM60 437h1v2h-1zM60 447h1v2h-1zM61 417h1v10h-1zM61 435h1v2h-1zM61 441h1v4h-1zM62 355h1v2h-1zM62 413h1v4h-1zM63 421h1v4h-1zM63 427h1v4h-1zM63 433h1v8h-1zM64 419h1v10h-1zM64 431h1v2h-1zM67 419h1v2h-1zM67 423h1v10h-1zM67 435h1v10h-1zM67 447h1v4h-1zM68 425h1v2h-1zM68 429h1v16h-1zM68 447h1v4h-1zM71 433h1v10h-1zM72 437h1v4h-1zM81 427h1v2h-1zM81 435h1v2h-1zM81 447h1v4h-1zM82 417h1v6h-1zM82 449h1v2h-1zM83 411h1v2h-1zM83 415h1v4h-1zM83 453h1v2h-1zM84 425h1v2h-1zM84 445h1v4h-1zM85 443h1v4h-1zM86 417h1v2h-1zM86 423h1v4h-1zM86 433h1v4h-1zM86 443h1v4h-1zM87 421h1v2h-1zM87 437h1v2h-1zM88 419h1v2h-1zM88 447h1v2h-1zM89 431h1v2h-1zM89 441h1v2h-1zM91 447h1v2h-1zM92 449h1v2h-1zM95 431h1v6h-1zM95 439h1v4h-1zM95 445h1v2h-1zM95 449h1v2h-1zM101 429h1v2h-1zM102 437h1v2h-1zM102 447h1v2h-1zM103 441h1v2h-1zM104 421h1v2h-1zM104 429h1v2h-1zM104 443h1v2h-1zM107 447h1v4h-1zM108 445h1v6h-1zM117 439h1v2h-1zM117 449h1v2h-1zM118 431h1v2h-1zM118 437h1v2h-1zM118 447h1v2h-1zM119 419h1v2h-1zM119 431h1v2h-1zM120 351h1v2h-1zM120 365h1v12h-1zM120 411h1v2h-1zM120 417h1v2h-1zM121 353h1v2h-1zM121 357h1v4h-1zM121 365h1v6h-1zM121 377h1v4h-1zM121 413h1v8h-1zM122 419h1v2h-1zM122 423h1v4h-1zM122 433h1v2h-1zM153 439h1v2h-1zM154 415h1v2h-1zM154 427h1v2h-1zM155 413h1v2h-1zM155 421h1v2h-1zM155 437h1v2h-1zM156 411h1v2h-1zM156 419h1v2h-1zM156 435h1v2h-1zM157 427h1v2h-1zM157 433h1v4h-1zM158 421h1v2h-1zM159 421h1v2h-1zM160 347h1v2h-1zM160 351h1v12h-1zM160 409h1v2h-1zM160 415h1v4h-1zM160 423h1v4h-1zM160 451h1v2h-1zM161 355h1v2h-1zM161 415h1v2h-1zM161 419h1v2h-1zM161 435h1v4h-1zM161 451h1v2h-1zM162 427h1v4h-1zM162 439h1v2h-1zM162 453h1v2h-1zM163 435h1v4h-1zM169 449h1v2h-1zM170 437h1v4h-1zM171 439h1v4h-1zM172 439h1v8h-1zM175 439h1v2h-1zM175 447h1v2h-1zM176 437h1v2h-1zM176 447h1v2h-1zM177 415h1v2h-1zM177 423h1v2h-1zM177 431h1v2h-1zM177 437h1v6h-1zM177 447h1v4h-1zM178 435h1v2h-1zM178 445h1v2h-1zM178 449h1v2h-1zM179 445h1v4h-1zM180 409h1v2h-1zM180 413h1v2h-1zM180 417h1v2h-1zM180 423h1v4h-1zM180 451h1v2h-1zM181 427h1v2h-1zM182 409h1v4h-1zM182 417h1v2h-1zM182 421h1v2h-1zM183 445h1v2h-1zM184 441h1v2h-1zM184 447h1v2h-1zM185 421h1v2h-1zM185 447h1v2h-1zM186 411h1v2h-1zM186 419h1v2h-1zM186 425h1v4h-1zM186 435h1v4h-1zM186 451h1v2h-1zM187 425h1v2h-1zM187 447h1v4h-1zM188 417h1v2h-1zM188 423h1v2h-1zM188 427h1v2h-1zM188 437h1v2h-1zM188 449h1v2h-1zM189 417h1v2h-1zM189 429h1v2h-1zM189 435h1v2h-1zM189 443h1v2h-1zM190 449h1v2h-1zM218 423h1v2h-1zM218 433h1v2h-1zM218 445h1v2h-1zM220 423h1v2h-1zM220 443h1v2h-1zM220 447h1v2h-1zM221 433h1v2h-1zM221 437h1v2h-1zM222 417h1v2h-1zM222 423h1v2h-1zM222 435h1v2h-1zM223 443h1v4h-1zM224 351h1v10h-1zM224 363h1v2h-1zM224 377h1v6h-1zM224 385h1v2h-1zM224 405h1v4h-1zM224 413h1v4h-1zM225 353h1v4h-1zM225 359h1v6h-1zM225 369h1v2h-1zM225 375h1v8h-1zM225 407h1v4h-1zM225 417h1v2h-1zM226 411h1v2h-1zM226 425h1v2h-1zM226 445h1v2h-1zM227 425h1v2h-1zM227 437h1v2h-1zM227 449h1v2h-1zM228 427h1v4h-1zM228 447h1v2h-1zM229 431h1v4h-1zM229 443h1v2h-1zM230 365h1v2h-1zM230 417h1v4h-1zM230 425h1v2h-1zM230 433h1v4h-1zM230 441h1v4h-1zM231 431h1v2h-1zM231 441h1v8h-1zM232 449h1v2h-1z"/>
<path fill="#f5853b" d="M30 447h1v2h-1zM31 425h1v2h-1zM31 443h1v2h-1zM31 447h1v2h-1zM32 413h1v2h-1zM32 421h1v2h-1zM32 425h1v2h-1zM32 439h1v2h-1zM32 447h1v2h-1zM33 429h1v2h-1zM33 445h1v4h-1zM34 427h1v2h-1zM34 435h1v2h-1zM34 445h1v2h-1zM35 441h1v2h-1zM35 447h1v2h-1zM36 437h1v2h-1zM36 441h1v2h-1zM37 419h1v2h-1zM37 441h1v2h-1zM37 447h1v2h-1zM38 437h1v2h-1zM38 443h1v2h-1zM38 447h1v2h-1zM40 431h1v2h-1zM40 445h1v2h-1zM41 437h1v2h-1zM41 447h1v2h-1zM42 417h1v4h-1zM42 425h1v2h-1zM43 417h1v2h-1zM43 421h1v4h-1zM44 421h1v2h-1zM44 427h1v4h-1zM44 447h1v4h-1zM45 423h1v2h-1zM45 427h1v2h-1zM45 435h1v4h-1zM46 421h1v2h-1zM46 437h1v2h-1zM48 427h1v2h-1zM48 437h1v2h-1zM48 441h1v2h-1zM48 447h1v2h-1zM49 419h1v2h-1zM49 427h1v2h-1zM49 435h1v2h-1zM49 447h1v2h-1zM50 419h1v2h-1zM50 425h1v2h-1zM50 437h1v2h-1zM51 441h1v2h-1zM51 445h1v4h-1zM52 427h1v2h-1zM52 437h1v2h-1zM53 429h1v2h-1zM53 439h1v2h-1zM53 443h1v2h-1zM54 433h1v2h-1zM54 437h1v2h-1zM55 427h1v2h-1zM55 433h1v4h-1zM55 443h1v4h-1zM56 419h1v2h-1zM56 427h1v2h-1zM56 435h1v2h-1zM57 419h1v2h-1zM58 421h1v2h-1zM59 421h1v4h-1zM59 439h1v2h-1zM60 425h1v2h-1zM61 427h1v4h-1zM61 445h1v2h-1zM62 417h1v4h-1zM62 425h1v6h-1zM62 433h1v4h-1zM63 441h1v10h-1zM64 429h1v2h-1zM64 433h1v14h-1zM64 449h1v2h-1zM67 433h1v2h-1zM81 429h1v2h-1zM81 437h1v4h-1zM82 415h1v2h-1zM82 431h1v2h-1zM82 441h1v2h-1zM82 447h1v2h-1zM83 413h1v2h-1zM83 419h1v2h-1zM83 447h1v2h-1zM84 419h1v2h-1zM84 423h1v2h-1zM84 427h1v2h-1zM84 435h1v4h-1zM84 443h1v2h-1zM85 423h1v4h-1zM85 433h1v4h-1zM86 441h1v2h-1zM87 427h1v2h-1zM87 441h1v2h-1zM88 421h1v2h-1zM95 437h1v2h-1zM101 439h1v2h-1zM101 449h1v2h-1zM103 431h1v2h-1zM104 433h1v2h-1zM104 439h1v2h-1zM104 449h1v2h-1zM117 431h1v2h-1zM118 441h1v2h-1zM119 437h1v2h-1zM119 441h1v2h-1zM119 447h1v2h-1zM120 419h1v2h-1zM120 423h1v6h-1zM120 435h1v2h-1zM121 355h1v2h-1zM121 371h1v6h-1zM121 421h1v2h-1zM121 427h1v6h-1zM122 427h1v4h-1zM122 435h1v2h-1zM122 441h1v6h-1zM153 447h1v4h-1zM154 425h1v2h-1zM154 433h1v2h-1zM154 437h1v6h-1zM154 449h1v2h-1zM155 435h1v2h-1zM155 439h1v2h-1zM155 447h1v4h-1zM156 429h1v2h-1zM156 433h1v2h-1zM156 437h1v2h-1zM156 445h1v2h-1zM157 443h1v4h-1zM158 427h1v2h-1zM158 443h1v4h-1zM159 427h1v2h-1zM159 443h1v4h-1zM160 411h1v4h-1zM160 427h1v2h-1zM160 433h1v4h-1zM161 411h1v4h-1zM161 423h1v2h-1zM161 429h1v2h-1zM161 445h1v2h-1zM162 413h1v4h-1zM162 431h1v2h-1zM162 437h1v2h-1zM163 445h1v4h-1zM170 441h1v6h-1zM170 449h1v2h-1zM171 443h1v8h-1zM172 447h1v4h-1zM175 449h1v2h-1zM176 445h1v2h-1zM178 423h1v2h-1zM179 421h1v2h-1zM179 429h1v2h-1zM180 411h1v2h-1zM180 427h1v2h-1zM180 433h1v4h-1zM180 445h1v2h-1zM181 419h1v2h-1zM181 437h1v2h-1zM182 433h1v4h-1zM182 443h1v4h-1zM183 419h1v2h-1zM183 427h1v2h-1zM183 441h1v2h-1zM186 413h1v2h-1zM186 445h1v4h-1zM187 423h1v2h-1zM187 431h1v2h-1zM187 435h1v2h-1zM187 441h1v2h-1zM187 445h1v2h-1zM188 415h1v2h-1zM188 433h1v2h-1zM189 427h1v2h-1zM189 439h1v2h-1zM218 443h1v2h-1zM219 421h1v2h-1zM219 449h1v2h-1zM220 433h1v2h-1zM220 439h1v2h-1zM221 419h1v4h-1zM221 427h1v2h-1zM222 425h1v2h-1zM222 433h1v2h-1zM222 443h1v4h-1zM223 421h1v2h-1zM223 433h1v4h-1zM224 361h1v2h-1zM224 365h1v12h-1zM224 409h1v4h-1zM224 417h1v2h-1zM225 365h1v4h-1zM225 371h1v4h-1zM225 411h1v2h-1zM225 423h1v4h-1zM225 445h1v2h-1zM226 419h1v2h-1zM226 423h1v2h-1zM226 427h1v2h-1zM226 437h1v2h-1zM226 443h1v2h-1zM226 447h1v2h-1zM227 429h1v2h-1zM227 435h1v2h-1zM227 439h1v2h-1zM228 437h1v6h-1zM229 425h1v4h-1zM229 437h1v2h-1zM229 447h1v2h-1zM230 431h1v2h-1zM230 437h1v4h-1zM230 445h1v2h-1zM231 449h1v2h-1z"/>
<path fill="#fb9630" d="M31 435h1v2h-1zM31 445h1v2h-1zM32 431h1v2h-1zM32 435h1v2h-1zM32 445h1v2h-1zM32 449h1v2h-1zM33 423h1v2h-1zM33 433h1v2h-1zM34 423h1v2h-1zM34 437h1v2h-1zM34 443h1v2h-1zM34 447h1v2h-1zM35 419h1v2h-1zM36 419h1v2h-1zM36 447h1v2h-1zM38 419h1v2h-1zM39 423h1v2h-1zM39 429h1v2h-1zM39 433h1v2h-1zM39 443h1v2h-1zM40 423h1v2h-1zM40 441h1v2h-1zM41 425h1v2h-1zM41 433h1v2h-1zM41 443h1v2h-1zM42 431h1v6h-1zM42 441h1v6h-1zM43 429h1v6h-1zM43 439h1v2h-1zM43 443h1v2h-1zM43 449h1v2h-1zM44 425h1v2h-1zM44 437h1v2h-1zM44 445h1v2h-1zM45 429h1v2h-1zM45 439h1v2h-1zM45 443h1v2h-1zM45 449h1v2h-1zM46 441h1v2h-1zM47 439h1v2h-1zM47 449h1v2h-1zM48 431h1v2h-1zM49 421h1v2h-1zM49 433h1v2h-1zM49 437h1v2h-1zM50 423h1v2h-1zM50 427h1v2h-1zM50 435h1v2h-1zM50 443h1v2h-1zM51 423h1v8h-1zM53 433h1v2h-1zM54 421h1v2h-1zM55 419h1v2h-1zM56 431h1v2h-1zM56 441h1v2h-1zM57 431h1v2h-1zM57 447h1v2h-1zM58 429h1v2h-1zM59 431h1v2h-1zM60 433h1v2h-1zM60 443h1v2h-1zM61 437h1v4h-1zM61 447h1v4h-1zM62 421h1v4h-1zM62 431h1v2h-1zM62 437h1v4h-1zM62 443h1v4h-1zM62 449h1v2h-1zM64 447h1v2h-1zM82 423h1v2h-1zM82 427h1v4h-1zM82 437h1v4h-1zM82 443h1v2h-1zM83 425h1v6h-1zM83 437h1v4h-1zM83 445h1v2h-1zM83 449h1v2h-1zM85 427h1v2h-1zM85 437h1v2h-1zM85 447h1v2h-1zM86 419h1v4h-1zM86 437h1v2h-1zM87 419h1v2h-1zM87 431h1v2h-1zM87 447h1v2h-1zM88 429h1v2h-1zM88 439h1v4h-1zM102 429h1v2h-1zM102 449h1v2h-1zM103 429h1v2h-1zM103 439h1v2h-1zM103 449h1v2h-1zM117 441h1v2h-1zM118 429h1v2h-1zM120 429h1v2h-1zM120 433h1v2h-1zM120 437h1v2h-1zM120 443h1v6h-1zM121 437h1v4h-1zM121 447h1v4h-1zM122 437h1v4h-1zM122 447h1v4h-1zM154 443h1v2h-1zM155 423h1v2h-1zM155 431h1v2h-1zM155 445h1v2h-1zM156 421h1v2h-1zM156 443h1v2h-1zM156 447h1v2h-1zM157 419h1v4h-1zM157 437h1v2h-1zM158 419h1v2h-1zM158 431h1v2h-1zM159 419h1v2h-1zM159 431h1v2h-1zM159 437h1v2h-1zM160 419h1v2h-1zM160 437h1v2h-1zM160 443h1v4h-1zM161 421h1v2h-1zM161 439h1v2h-1zM161 447h1v2h-1zM162 423h1v4h-1zM162 441h1v2h-1zM162 447h1v4h-1zM170 447h1v2h-1zM177 425h1v2h-1zM178 431h1v2h-1zM179 433h1v2h-1zM179 439h1v2h-1zM179 443h1v2h-1zM180 419h1v2h-1zM180 437h1v2h-1zM180 443h1v2h-1zM181 441h1v2h-1zM181 447h1v2h-1zM182 419h1v2h-1zM182 427h1v2h-1zM183 431h1v2h-1zM183 437h1v2h-1zM184 431h1v2h-1zM185 429h1v2h-1zM185 439h1v2h-1zM186 421h1v4h-1zM186 429h1v2h-1zM186 439h1v2h-1zM188 425h1v2h-1zM188 443h1v2h-1zM188 447h1v2h-1zM189 437h1v2h-1zM189 445h1v2h-1zM189 449h1v2h-1zM219 423h1v2h-1zM219 433h1v2h-1zM219 441h1v4h-1zM220 421h1v2h-1zM221 441h1v2h-1zM221 447h1v2h-1zM222 421h1v2h-1zM223 419h1v2h-1zM223 441h1v2h-1zM224 423h1v4h-1zM224 445h1v2h-1zM225 435h1v2h-1zM225 443h1v2h-1zM226 435h1v2h-1zM227 421h1v4h-1zM228 425h1v2h-1zM228 431h1v2h-1zM228 445h1v2h-1zM229 445h1v2h-1zM230 427h1v4h-1zM230 447h1v4h-1z"/>
<path fill="#fcab37" d="M32 423h1v2h-1zM32 441h1v2h-1zM33 421h1v2h-1zM33 431h1v2h-1zM33 439h1v2h-1zM33 443h1v2h-1zM33 449h1v2h-1zM34 419h1v4h-1zM34 429h1v4h-1zM35 429h1v2h-1zM35 449h1v2h-1zM36 429h1v2h-1zM37 429h1v2h-1zM38 421h1v2h-1zM38 429h1v4h-1zM38 441h1v2h-1zM39 421h1v2h-1zM39 439h1v2h-1zM39 449h1v2h-1zM40 433h1v2h-1zM40 443h1v2h-1zM41 435h1v2h-1zM41 445h1v2h-1zM42 427h1v4h-1zM42 437h1v2h-1zM42 447h1v4h-1zM43 425h1v4h-1zM43 441h1v2h-1zM43 447h1v2h-1zM44 423h1v2h-1zM44 435h1v2h-1zM44 439h1v4h-1zM45 421h1v2h-1zM45 433h1v2h-1zM46 429h1v4h-1zM46 439h1v2h-1zM46 449h1v2h-1zM47 429h1v2h-1zM48 439h1v2h-1zM48 449h1v2h-1zM49 441h1v2h-1zM49 449h1v2h-1zM50 421h1v2h-1zM50 429h1v2h-1zM50 439h1v2h-1zM50 449h1v2h-1zM51 431h1v2h-1zM51 435h1v4h-1zM51 443h1v2h-1zM52 425h1v2h-1zM52 433h1v4h-1zM52 443h1v4h-1zM53 441h1v2h-1zM54 429h1v2h-1zM55 431h1v2h-1zM55 437h1v2h-1zM55 441h1v2h-1zM55 447h1v2h-1zM56 447h1v2h-1zM57 437h1v2h-1zM57 441h1v2h-1zM58 431h1v2h-1zM58 439h1v2h-1zM58 449h1v2h-1zM59 433h1v2h-1zM59 441h1v4h-1zM60 435h1v2h-1zM60 445h1v2h-1zM62 441h1v2h-1zM62 447h1v2h-1zM82 433h1v4h-1zM82 445h1v2h-1zM83 421h1v2h-1zM83 435h1v2h-1zM84 421h1v2h-1zM84 429h1v2h-1zM84 433h1v2h-1zM84 439h1v2h-1zM84 449h1v2h-1zM85 419h1v4h-1zM85 431h1v2h-1zM85 441h1v2h-1zM86 427h1v2h-1zM86 431h1v2h-1zM86 447h1v2h-1zM87 429h1v2h-1zM87 439h1v2h-1zM88 431h1v2h-1zM102 439h1v2h-1zM104 431h1v2h-1zM104 441h1v2h-1zM118 439h1v2h-1zM118 449h1v2h-1zM119 429h1v2h-1zM119 449h1v2h-1zM120 421h1v2h-1zM120 431h1v2h-1zM120 439h1v2h-1zM120 449h1v2h-1zM121 423h1v4h-1zM121 433h1v4h-1zM121 441h1v2h-1zM121 445h1v2h-1zM154 435h1v2h-1zM154 445h1v4h-1zM155 433h1v2h-1zM157 431h1v2h-1zM157 447h1v2h-1zM158 437h1v2h-1zM158 441h1v2h-1zM158 447h1v2h-1zM159 441h1v2h-1zM159 447h1v2h-1zM160 421h1v2h-1zM160 447h1v2h-1zM161 433h1v2h-1zM161 443h1v2h-1zM161 449h1v2h-1zM162 433h1v4h-1zM162 445h1v2h-1zM177 433h1v4h-1zM177 443h1v4h-1zM178 433h1v2h-1zM178 441h1v2h-1zM179 449h1v2h-1zM180 421h1v2h-1zM180 447h1v2h-1zM181 431h1v2h-1zM182 431h1v2h-1zM182 437h1v2h-1zM182 441h1v2h-1zM183 447h1v2h-1zM184 429h1v2h-1zM184 439h1v2h-1zM184 449h1v2h-1zM185 431h1v2h-1zM185 441h1v2h-1zM186 433h1v2h-1zM186 443h1v2h-1zM186 449h1v2h-1zM187 433h1v2h-1zM187 443h1v2h-1zM188 435h1v2h-1zM188 445h1v2h-1zM189 447h1v2h-1zM219 431h1v2h-1zM220 429h1v2h-1zM220 449h1v2h-1zM221 429h1v2h-1zM221 439h1v2h-1zM222 419h1v2h-1zM222 427h1v2h-1zM222 437h1v2h-1zM222 441h1v2h-1zM223 427h1v2h-1zM223 431h1v2h-1zM223 437h1v2h-1zM224 421h1v2h-1zM224 433h1v4h-1zM224 443h1v2h-1zM225 419h1v4h-1zM225 427h1v2h-1zM225 433h1v2h-1zM225 447h1v2h-1zM226 421h1v2h-1zM226 433h1v2h-1zM226 439h1v2h-1zM226 449h1v2h-1zM227 443h1v2h-1zM228 423h1v2h-1zM228 433h1v4h-1zM228 443h1v2h-1zM229 435h1v2h-1z"/>
<path fill="#fec13f" d="M32 433h1v2h-1zM32 443h1v2h-1zM33 441h1v2h-1zM34 439h1v4h-1zM34 449h1v2h-1zM35 439h1v2h-1zM36 439h1v2h-1zM36 449h1v2h-1zM37 439h1v2h-1zM37 449h1v2h-1zM38 439h1v2h-1zM38 449h1v2h-1zM39 431h1v2h-1zM39 441h1v2h-1zM42 439h1v2h-1zM43 435h1v4h-1zM43 445h1v2h-1zM44 431h1v4h-1zM44 443h1v2h-1zM45 431h1v2h-1zM45 441h1v2h-1zM48 429h1v2h-1zM49 429h1v4h-1zM49 439h1v2h-1zM50 433h1v2h-1zM50 441h1v2h-1zM51 433h1v2h-1zM53 431h1v2h-1zM54 431h1v2h-1zM54 439h1v4h-1zM54 449h1v2h-1zM55 429h1v2h-1zM55 439h1v2h-1zM55 449h1v2h-1zM56 429h1v2h-1zM56 437h1v2h-1zM56 449h1v2h-1zM57 429h1v2h-1zM57 439h1v2h-1zM57 449h1v2h-1zM58 441h1v2h-1zM82 425h1v2h-1zM83 423h1v2h-1zM83 431h1v4h-1zM83 441h1v4h-1zM84 431h1v2h-1zM84 441h1v2h-1zM85 429h1v2h-1zM85 439h1v2h-1zM85 449h1v2h-1zM86 429h1v2h-1zM86 439h1v2h-1zM86 449h1v2h-1zM87 449h1v2h-1zM88 449h1v2h-1zM119 439h1v2h-1zM120 441h1v2h-1zM121 443h1v2h-1zM155 441h1v4h-1zM156 431h1v2h-1zM156 439h1v4h-1zM156 449h1v2h-1zM157 429h1v2h-1zM157 439h1v4h-1zM157 449h1v2h-1zM158 429h1v2h-1zM158 439h1v2h-1zM158 449h1v2h-1zM159 429h1v2h-1zM159 439h1v2h-1zM159 449h1v2h-1zM160 429h1v4h-1zM160 439h1v4h-1zM161 431h1v2h-1zM161 441h1v2h-1zM162 443h1v2h-1zM178 443h1v2h-1zM179 431h1v2h-1zM179 441h1v2h-1zM180 429h1v4h-1zM180 439h1v4h-1zM180 449h1v2h-1zM181 429h1v2h-1zM181 439h1v2h-1zM181 449h1v2h-1zM182 439h1v2h-1zM182 447h1v4h-1zM183 429h1v2h-1zM183 439h1v2h-1zM183 449h1v2h-1zM185 449h1v2h-1zM186 431h1v2h-1zM186 441h1v2h-1zM220 431h1v2h-1zM220 441h1v2h-1zM221 431h1v2h-1zM221 449h1v2h-1zM222 429h1v4h-1zM222 439h1v2h-1zM222 447h1v4h-1zM223 429h1v2h-1zM223 439h1v2h-1zM223 447h1v4h-1zM224 419h1v2h-1zM224 427h1v6h-1zM224 437h1v2h-1zM224 441h1v2h-1zM224 447h1v4h-1zM225 437h1v6h-1zM225 449h1v2h-1zM226 429h1v4h-1zM226 441h1v2h-1zM227 431h1v4h-1zM227 441h1v2h-1z"/>
<path fill="#ffd646" d="M50 431h1v2h-1zM56 439h1v2h-1zM160 449h1v2h-1zM182 429h1v2h-1zM224 439h1v2h-1zM225 429h1v4h-1z"/>
</g></g>
<defs><clipPath id="cs1"><rect x="264" y="334" width="35" height="129"/><rect x="302" y="334" width="36" height="129"/><rect x="340" y="334" width="36" height="129"/><rect x="379" y="334" width="35" height="128"/><rect x="417" y="334" width="34" height="128"/><rect x="455" y="333" width="34" height="128"/><rect x="493" y="333" width="35" height="128"/><rect x="531" y="333" width="35" height="127"/></clipPath></defs>
<g clip-path="url(#cs1)"><g filter="url(#b1)" shape-rendering="crispEdges">
<rect x="262" y="331" width="39" height="135" fill="#5a2488" />
<path fill="#2e105e" d="M264 334h2v6h-2zM264 349h2v3h-2z"/>
<path fill="#341366" d="M264 340h2v9h-2zM264 352h2v6h-2z"/>
<path fill="#39166e" d="M264 358h2v36h-2zM264 406h2v6h-2z"/>
<path fill="#3f1875" d="M264 394h2v12h-2zM264 412h2v9h-2z"/>
<path fill="#471c7d" d="M264 433h2v3h-2zM266 334h2v12h-2zM294 334h2v3h-2z"/>
<path fill="#522186" d="M264 421h2v3h-2zM264 427h2v6h-2zM264 436h2v3h-2zM266 346h2v12h-2zM266 376h2v15h-2zM266 394h2v3h-2zM270 334h2v12h-2zM294 337h2v6h-2z"/>
<path fill="#5d258f" d="M264 424h2v3h-2zM264 439h2v3h-2zM264 448h2v9h-2zM266 358h2v18h-2zM266 391h2v3h-2zM266 397h2v21h-2zM268 334h2v9h-2zM270 346h2v3h-2zM270 358h2v6h-2zM270 385h2v12h-2zM294 343h2v12h-2zM294 370h2v6h-2zM294 397h2v3h-2z"/>
<path fill="#6c2b93" d="M264 442h2v6h-2zM266 418h2v6h-2zM266 433h2v3h-2zM268 343h2v9h-2zM268 358h2v9h-2zM268 382h2v18h-2zM270 349h2v9h-2zM270 364h2v21h-2zM270 397h2v18h-2zM278 334h2v9h-2zM278 379h2v6h-2zM278 397h2v9h-2zM280 334h2v6h-2zM280 343h2v3h-2zM280 397h2v9h-2zM294 355h2v6h-2zM294 364h2v6h-2zM294 376h2v6h-2zM294 394h2v3h-2zM294 400h2v3h-2zM294 415h2v3h-2z"/>
<path fill="#813191" d="M266 427h2v6h-2zM266 436h2v3h-2zM268 352h2v6h-2zM268 367h2v15h-2zM268 400h2v15h-2zM270 415h2v6h-2zM270 430h2v3h-2zM272 334h2v9h-2zM272 394h2v3h-2zM272 400h2v6h-2zM278 343h2v6h-2zM278 376h2v3h-2zM278 385h2v12h-2zM278 406h2v3h-2zM280 340h2v3h-2zM280 346h2v6h-2zM280 376h2v21h-2zM280 406h2v3h-2zM292 334h2v15h-2zM294 361h2v3h-2zM294 382h2v6h-2zM294 391h2v3h-2zM294 403h2v3h-2z"/>
<path fill="#96378f" d="M266 424h2v3h-2zM266 439h2v12h-2zM268 415h2v9h-2zM270 421h2v9h-2zM270 433h2v15h-2zM272 343h2v9h-2zM272 379h2v15h-2zM272 397h2v3h-2zM272 406h2v3h-2zM274 400h2v6h-2zM278 349h2v6h-2zM278 373h2v3h-2zM280 352h2v3h-2zM280 358h2v3h-2zM280 367h2v9h-2zM280 409h2v3h-2zM286 337h2v3h-2zM286 394h2v6h-2zM292 349h2v6h-2zM292 373h2v12h-2zM292 397h2v3h-2zM294 388h2v3h-2zM294 406h2v6h-2zM294 418h2v3h-2zM296 334h2v3h-2z"/>
<path fill="#aa3f88" d="M264 457h2v6h-2zM266 451h2v9h-2zM268 424h2v21h-2zM270 448h2v6h-2zM270 457h2v6h-2zM272 352h2v27h-2zM272 409h2v3h-2zM274 334h2v9h-2zM274 382h2v3h-2zM274 388h2v12h-2zM274 406h2v6h-2zM276 400h2v9h-2zM278 355h2v6h-2zM278 364h2v9h-2zM278 409h2v3h-2zM280 355h2v3h-2zM280 361h2v6h-2zM280 415h2v3h-2zM282 334h2v6h-2zM282 343h2v3h-2zM282 391h2v15h-2zM284 340h2v3h-2zM284 394h2v12h-2zM286 334h2v3h-2zM286 340h2v12h-2zM286 355h2v3h-2zM286 370h2v3h-2zM286 388h2v6h-2zM286 400h2v6h-2zM292 355h2v6h-2zM292 367h2v6h-2zM292 385h2v3h-2zM292 391h2v6h-2zM292 400h2v3h-2zM292 415h2v6h-2zM294 412h2v3h-2zM296 337h2v9h-2zM296 364h2v12h-2zM296 397h2v6h-2z"/>
<path fill="#bd487e" d="M266 460h2v3h-2zM268 445h2v9h-2zM268 457h2v6h-2zM270 454h2v3h-2zM272 412h2v6h-2zM274 343h2v9h-2zM274 364h2v6h-2zM274 376h2v6h-2zM274 385h2v3h-2zM276 334h2v9h-2zM276 376h2v12h-2zM276 391h2v9h-2zM276 409h2v3h-2zM278 361h2v3h-2zM278 415h2v3h-2zM278 436h2v3h-2zM280 412h2v3h-2zM280 418h2v3h-2zM280 427h2v3h-2zM280 436h2v3h-2zM280 460h2v3h-2zM282 340h2v3h-2zM282 346h2v9h-2zM282 358h2v15h-2zM282 385h2v6h-2zM282 406h2v3h-2zM284 334h2v6h-2zM284 343h2v9h-2zM284 361h2v12h-2zM284 385h2v9h-2zM284 406h2v3h-2zM286 352h2v3h-2zM286 358h2v12h-2zM286 373h2v6h-2zM286 382h2v6h-2zM286 412h2v3h-2zM290 337h2v18h-2zM290 394h2v6h-2zM292 361h2v6h-2zM292 388h2v3h-2zM292 403h2v3h-2zM292 409h2v3h-2zM294 424h2v6h-2zM294 448h2v3h-2zM294 457h2v6h-2zM296 346h2v18h-2zM296 376h2v6h-2zM296 394h2v3h-2zM296 403h2v6h-2zM296 415h2v3h-2zM298 334h1v3h-1zM298 397h1v3h-1z"/>
<path fill="#d05074" d="M268 454h2v3h-2zM272 424h2v6h-2zM272 433h2v6h-2zM272 445h2v3h-2zM272 457h2v6h-2zM274 352h2v12h-2zM274 370h2v6h-2zM274 412h2v3h-2zM276 343h2v12h-2zM276 364h2v3h-2zM276 373h2v3h-2zM276 388h2v3h-2zM278 412h2v3h-2zM278 418h2v3h-2zM278 427h2v3h-2zM278 439h2v3h-2zM278 457h2v6h-2zM280 439h2v3h-2zM280 448h2v3h-2zM280 457h2v3h-2zM282 355h2v3h-2zM282 373h2v12h-2zM282 409h2v3h-2zM284 352h2v9h-2zM284 373h2v3h-2zM284 379h2v3h-2zM284 409h2v3h-2zM286 379h2v3h-2zM286 406h2v6h-2zM286 421h2v3h-2zM286 457h2v3h-2zM290 334h2v3h-2zM290 355h2v3h-2zM290 367h2v3h-2zM290 373h2v21h-2zM290 400h2v6h-2zM290 412h2v3h-2zM292 406h2v3h-2zM292 412h2v3h-2zM292 457h2v6h-2zM294 436h2v6h-2zM294 451h2v3h-2zM296 382h2v6h-2zM296 391h2v3h-2zM296 409h2v3h-2zM296 418h2v3h-2zM296 457h2v6h-2zM298 337h1v9h-1zM298 349h1v3h-1zM298 364h1v9h-1zM298 394h1v3h-1zM298 400h1v6h-1zM298 460h1v3h-1z"/>
<path fill="#dc5b63" d="M272 418h2v6h-2zM274 418h2v6h-2zM274 430h2v6h-2zM274 460h2v3h-2zM276 355h2v9h-2zM276 367h2v6h-2zM276 460h2v3h-2zM278 448h2v3h-2zM280 424h2v3h-2zM282 415h2v3h-2zM282 457h2v6h-2zM284 376h2v3h-2zM284 382h2v3h-2zM284 412h2v3h-2zM284 418h2v3h-2zM284 460h2v3h-2zM286 415h2v6h-2zM286 424h2v3h-2zM288 337h2v9h-2zM288 394h2v9h-2zM288 457h2v6h-2zM290 358h2v3h-2zM290 364h2v3h-2zM290 370h2v3h-2zM290 409h2v3h-2zM290 418h2v6h-2zM292 451h2v3h-2zM296 388h2v3h-2zM296 412h2v3h-2zM298 346h1v3h-1zM298 352h1v12h-1zM298 373h1v6h-1zM298 391h1v3h-1zM298 406h1v6h-1zM298 457h1v3h-1z"/>
<path fill="#e76653" d="M272 439h2v3h-2zM272 448h2v3h-2zM274 415h2v3h-2zM274 442h2v3h-2zM274 457h2v3h-2zM276 412h2v9h-2zM276 457h2v3h-2zM278 424h2v3h-2zM278 430h2v3h-2zM282 412h2v3h-2zM282 418h2v3h-2zM282 427h2v3h-2zM282 448h2v3h-2zM284 421h2v3h-2zM284 457h2v3h-2zM286 433h2v3h-2zM286 454h2v3h-2zM286 460h2v3h-2zM288 334h2v3h-2zM288 346h2v12h-2zM288 370h2v3h-2zM288 382h2v3h-2zM288 388h2v6h-2zM288 403h2v3h-2zM290 361h2v3h-2zM290 406h2v3h-2zM290 415h2v3h-2zM290 457h2v6h-2zM292 421h2v3h-2zM292 427h2v3h-2zM292 448h2v3h-2zM294 421h2v3h-2zM294 430h2v3h-2zM294 445h2v3h-2zM296 448h2v3h-2zM298 379h1v3h-1zM298 385h1v6h-1zM298 415h1v6h-1z"/>
<path fill="#ef7446" d="M272 430h2v3h-2zM272 442h2v3h-2zM272 454h2v3h-2zM274 439h2v3h-2zM274 451h2v6h-2zM276 427h2v6h-2zM276 439h2v3h-2zM278 451h2v3h-2zM280 430h2v3h-2zM280 451h2v3h-2zM282 430h2v3h-2zM282 436h2v6h-2zM284 415h2v3h-2zM284 427h2v6h-2zM284 439h2v6h-2zM284 451h2v3h-2zM286 430h2v3h-2zM286 442h2v6h-2zM288 358h2v12h-2zM288 373h2v9h-2zM288 385h2v3h-2zM288 406h2v12h-2zM290 454h2v3h-2zM292 430h2v3h-2zM292 439h2v3h-2zM296 427h2v3h-2zM296 451h2v3h-2zM298 382h1v3h-1zM298 412h1v3h-1zM298 451h1v3h-1z"/>
<path fill="#f5853b" d="M274 424h2v6h-2zM276 421h2v3h-2zM276 448h2v6h-2zM278 421h2v3h-2zM280 421h2v3h-2zM280 445h2v3h-2zM282 451h2v3h-2zM286 436h2v3h-2zM286 451h2v3h-2zM288 418h2v3h-2zM288 424h2v3h-2zM290 424h2v3h-2zM290 430h2v6h-2zM290 451h2v3h-2zM292 424h2v3h-2zM292 436h2v3h-2zM296 421h2v6h-2zM296 436h2v6h-2zM298 421h1v3h-1zM298 427h1v3h-1zM298 448h1v3h-1z"/>
<path fill="#fb9630" d="M272 451h2v3h-2zM274 445h2v3h-2zM276 436h2v3h-2zM276 442h2v3h-2zM278 433h2v3h-2zM278 445h2v3h-2zM280 433h2v3h-2zM282 421h2v6h-2zM284 433h2v3h-2zM284 448h2v3h-2zM284 454h2v3h-2zM286 427h2v3h-2zM288 427h2v3h-2zM288 436h2v3h-2zM288 448h2v3h-2zM290 427h2v3h-2zM290 439h2v9h-2zM292 442h2v3h-2zM294 442h2v3h-2zM294 454h2v3h-2zM296 445h2v3h-2zM298 430h1v3h-1zM298 439h1v6h-1z"/>
<path fill="#fcab37" d="M274 436h2v3h-2zM274 448h2v3h-2zM276 424h2v3h-2zM276 433h2v3h-2zM278 442h2v3h-2zM280 442h2v3h-2zM282 442h2v6h-2zM284 424h2v3h-2zM284 436h2v3h-2zM286 439h2v3h-2zM286 448h2v3h-2zM288 421h2v3h-2zM288 439h2v3h-2zM288 445h2v3h-2zM288 454h2v3h-2zM290 436h2v3h-2zM290 448h2v3h-2zM292 454h2v3h-2zM294 433h2v3h-2zM296 430h2v3h-2zM298 424h1v3h-1zM298 454h1v3h-1z"/>
<path fill="#fec13f" d="M276 445h2v3h-2zM276 454h2v3h-2zM278 454h2v3h-2zM280 454h2v3h-2zM282 433h2v3h-2zM282 454h2v3h-2zM284 445h2v3h-2zM288 430h2v6h-2zM288 442h2v3h-2zM288 451h2v3h-2zM292 433h2v3h-2zM292 445h2v3h-2zM296 433h2v3h-2zM296 442h2v3h-2zM296 454h2v3h-2zM298 433h1v6h-1zM298 445h1v3h-1z"/>
<rect x="300" y="331" width="40" height="135" fill="#5a2488" />
<path fill="#471c7d" d="M334 334h2v3h-2zM334 379h2v3h-2z"/>
<path fill="#522186" d="M308 334h2v9h-2zM334 337h2v6h-2zM334 349h2v6h-2zM334 367h2v3h-2zM334 373h2v6h-2zM334 382h2v3h-2zM334 403h2v6h-2z"/>
<path fill="#5d258f" d="M308 343h2v12h-2zM308 373h2v3h-2zM308 397h2v3h-2zM334 343h2v6h-2zM334 355h2v12h-2zM334 370h2v3h-2zM334 385h2v12h-2zM334 400h2v3h-2zM334 409h2v3h-2z"/>
<path fill="#6c2b93" d="M308 355h2v6h-2zM308 364h2v9h-2zM308 376h2v9h-2zM308 391h2v6h-2zM308 400h2v3h-2zM310 334h2v3h-2zM332 334h2v3h-2zM332 355h2v3h-2zM332 400h2v9h-2zM334 397h2v3h-2zM334 412h2v3h-2z"/>
<path fill="#813191" d="M308 361h2v3h-2zM308 385h2v6h-2zM308 403h2v3h-2zM308 415h2v6h-2zM310 337h2v9h-2zM310 370h2v3h-2zM310 397h2v6h-2zM316 334h2v3h-2zM320 352h2v6h-2zM324 334h2v3h-2zM326 361h2v3h-2zM332 337h2v3h-2zM332 343h2v12h-2zM332 358h2v6h-2zM332 367h2v3h-2zM332 376h2v15h-2zM332 394h2v6h-2zM332 409h2v3h-2z"/>
<path fill="#96378f" d="M308 406h2v3h-2zM310 346h2v15h-2zM310 364h2v6h-2zM310 373h2v6h-2zM310 394h2v3h-2zM310 403h2v3h-2zM312 334h2v6h-2zM312 367h2v6h-2zM312 397h2v6h-2zM314 334h2v3h-2zM314 397h2v9h-2zM316 337h2v9h-2zM316 349h2v3h-2zM316 355h2v9h-2zM316 394h2v9h-2zM318 334h2v3h-2zM320 334h2v18h-2zM320 358h2v6h-2zM320 394h2v6h-2zM322 334h2v3h-2zM322 352h2v9h-2zM324 337h2v9h-2zM324 355h2v9h-2zM324 397h2v3h-2zM326 334h2v6h-2zM326 355h2v6h-2zM326 364h2v6h-2zM326 391h2v18h-2zM332 340h2v3h-2zM332 364h2v3h-2zM332 370h2v6h-2zM332 391h2v3h-2zM332 412h2v3h-2zM334 415h2v9h-2zM336 334h2v3h-2zM336 352h2v3h-2zM336 379h2v3h-2zM336 403h2v6h-2z"/>
<path fill="#aa3f88" d="M306 334h2v15h-2zM306 376h2v3h-2zM308 409h2v6h-2zM308 427h2v3h-2zM310 361h2v3h-2zM310 379h2v9h-2zM310 391h2v3h-2zM310 406h2v3h-2zM310 415h2v3h-2zM312 340h2v9h-2zM312 352h2v6h-2zM312 364h2v3h-2zM312 373h2v3h-2zM312 394h2v3h-2zM312 403h2v9h-2zM314 337h2v9h-2zM314 349h2v3h-2zM314 361h2v12h-2zM314 394h2v3h-2zM316 346h2v3h-2zM316 352h2v3h-2zM316 364h2v9h-2zM316 391h2v3h-2zM316 403h2v6h-2zM318 337h2v24h-2zM318 394h2v9h-2zM320 364h2v3h-2zM320 388h2v6h-2zM320 400h2v6h-2zM320 415h2v3h-2zM322 337h2v15h-2zM322 361h2v6h-2zM322 391h2v15h-2zM324 346h2v9h-2zM324 364h2v3h-2zM324 391h2v6h-2zM324 400h2v6h-2zM326 340h2v9h-2zM326 352h2v3h-2zM326 370h2v21h-2zM326 409h2v3h-2zM328 361h2v3h-2zM328 388h2v18h-2zM330 382h2v3h-2zM330 388h2v21h-2zM332 415h2v3h-2zM334 424h2v12h-2zM334 439h2v3h-2zM334 445h2v18h-2zM336 337h2v3h-2zM336 346h2v6h-2zM336 355h2v3h-2zM336 373h2v6h-2zM336 382h2v3h-2zM336 400h2v3h-2zM336 409h2v3h-2z"/>
<path fill="#bd487e" d="M302 397h2v3h-2zM304 337h2v18h-2zM304 394h2v6h-2zM306 349h2v6h-2zM306 370h2v6h-2zM306 379h2v6h-2zM306 394h2v9h-2zM308 439h2v3h-2zM308 448h2v3h-2zM308 457h2v6h-2zM310 388h2v3h-2zM310 409h2v6h-2zM310 418h2v3h-2zM312 349h2v3h-2zM312 358h2v6h-2zM312 376h2v3h-2zM312 391h2v3h-2zM312 415h2v6h-2zM314 346h2v3h-2zM314 352h2v9h-2zM314 373h2v3h-2zM314 391h2v3h-2zM314 406h2v9h-2zM316 373h2v6h-2zM316 382h2v9h-2zM316 409h2v6h-2zM318 361h2v9h-2zM318 391h2v3h-2zM318 403h2v6h-2zM318 415h2v3h-2zM320 367h2v3h-2zM320 376h2v3h-2zM320 382h2v6h-2zM320 406h2v3h-2zM320 418h2v3h-2zM320 427h2v3h-2zM322 367h2v3h-2zM322 382h2v9h-2zM322 406h2v3h-2zM322 415h2v6h-2zM324 367h2v24h-2zM324 406h2v6h-2zM326 349h2v3h-2zM326 412h2v3h-2zM328 334h2v6h-2zM328 355h2v6h-2zM328 364h2v24h-2zM328 406h2v6h-2zM330 334h2v6h-2zM330 358h2v24h-2zM330 385h2v3h-2zM330 409h2v3h-2zM332 418h2v6h-2zM334 436h2v3h-2zM334 442h2v3h-2zM336 340h2v6h-2zM336 364h2v9h-2zM336 385h2v3h-2zM336 391h2v9h-2zM336 412h2v3h-2z"/>
<path fill="#d05074" d="M302 337h2v12h-2zM302 388h2v9h-2zM302 400h2v3h-2zM304 334h2v3h-2zM304 355h2v3h-2zM304 367h2v6h-2zM304 382h2v6h-2zM304 391h2v3h-2zM304 400h2v6h-2zM304 412h2v3h-2zM306 355h2v6h-2zM306 364h2v6h-2zM306 385h2v9h-2zM306 403h2v3h-2zM306 409h2v3h-2zM306 415h2v6h-2zM306 460h2v3h-2zM308 424h2v3h-2zM308 436h2v3h-2zM308 451h2v3h-2zM310 457h2v6h-2zM312 379h2v12h-2zM312 457h2v6h-2zM314 376h2v3h-2zM314 388h2v3h-2zM316 379h2v3h-2zM316 418h2v3h-2zM316 460h2v3h-2zM318 370h2v9h-2zM318 382h2v9h-2zM318 409h2v3h-2zM318 418h2v3h-2zM318 460h2v3h-2zM320 370h2v6h-2zM320 379h2v3h-2zM320 409h2v6h-2zM320 424h2v3h-2zM320 457h2v6h-2zM322 370h2v12h-2zM322 409h2v3h-2zM322 427h2v3h-2zM322 460h2v3h-2zM324 418h2v3h-2zM324 460h2v3h-2zM326 457h2v3h-2zM328 340h2v3h-2zM328 349h2v6h-2zM328 460h2v3h-2zM330 340h2v18h-2zM330 412h2v3h-2zM330 457h2v3h-2zM332 424h2v12h-2zM332 457h2v6h-2zM336 358h2v6h-2zM336 388h2v3h-2zM336 415h2v3h-2zM336 457h2v6h-2z"/>
<path fill="#dc5b63" d="M302 334h2v3h-2zM302 349h2v9h-2zM302 370h2v9h-2zM302 382h2v6h-2zM302 403h2v3h-2zM302 415h2v3h-2zM302 457h2v6h-2zM304 358h2v9h-2zM304 373h2v9h-2zM304 388h2v3h-2zM304 409h2v3h-2zM304 415h2v3h-2zM304 421h2v3h-2zM304 457h2v3h-2zM306 361h2v3h-2zM306 406h2v3h-2zM306 412h2v3h-2zM306 457h2v3h-2zM308 421h2v3h-2zM310 424h2v6h-2zM310 448h2v3h-2zM312 412h2v3h-2zM312 448h2v6h-2zM314 379h2v9h-2zM314 415h2v3h-2zM314 421h2v3h-2zM314 457h2v6h-2zM316 415h2v3h-2zM316 421h2v3h-2zM316 457h2v3h-2zM318 379h2v3h-2zM318 412h2v3h-2zM318 427h2v3h-2zM318 457h2v3h-2zM322 412h2v3h-2zM322 457h2v3h-2zM324 412h2v6h-2zM324 421h2v3h-2zM324 430h2v3h-2zM326 415h2v12h-2zM326 433h2v3h-2zM326 460h2v3h-2zM328 343h2v6h-2zM328 412h2v3h-2zM328 457h2v3h-2zM330 415h2v3h-2zM330 460h2v3h-2zM332 436h2v9h-2zM332 448h2v9h-2zM336 418h2v6h-2z"/>
<path fill="#e76653" d="M302 358h2v12h-2zM302 379h2v3h-2zM302 406h2v9h-2zM302 418h2v3h-2zM304 406h2v3h-2zM304 418h2v3h-2zM304 460h2v3h-2zM306 421h2v3h-2zM306 451h2v3h-2zM308 430h2v3h-2zM310 436h2v6h-2zM310 451h2v3h-2zM312 421h2v3h-2zM312 427h2v3h-2zM314 418h2v3h-2zM314 454h2v3h-2zM316 454h2v3h-2zM320 436h2v3h-2zM320 448h2v3h-2zM322 424h2v3h-2zM322 436h2v3h-2zM324 427h2v3h-2zM324 439h2v3h-2zM324 451h2v3h-2zM324 457h2v3h-2zM326 430h2v3h-2zM326 445h2v3h-2zM326 454h2v3h-2zM328 415h2v6h-2zM330 418h2v6h-2zM332 445h2v3h-2zM336 424h2v6h-2zM336 451h2v6h-2z"/>
<path fill="#ef7446" d="M302 424h2v6h-2zM304 424h2v3h-2zM304 454h2v3h-2zM306 427h2v6h-2zM306 448h2v3h-2zM308 445h2v3h-2zM310 421h2v3h-2zM312 430h2v3h-2zM312 439h2v3h-2zM314 424h2v3h-2zM316 424h2v6h-2zM318 421h2v3h-2zM318 430h2v3h-2zM318 439h2v3h-2zM318 448h2v6h-2zM320 439h2v3h-2zM322 430h2v3h-2zM322 439h2v3h-2zM322 448h2v6h-2zM326 436h2v3h-2zM326 442h2v3h-2zM328 421h2v21h-2zM330 424h2v18h-2zM336 430h2v21h-2z"/>
<path fill="#f5853b" d="M302 448h2v3h-2zM304 430h2v6h-2zM304 442h2v3h-2zM304 451h2v3h-2zM306 439h2v3h-2zM310 445h2v3h-2zM312 424h2v3h-2zM314 433h2v3h-2zM314 442h2v6h-2zM316 430h2v3h-2zM316 439h2v6h-2zM316 451h2v3h-2zM318 424h2v3h-2zM320 421h2v3h-2zM320 430h2v3h-2zM320 451h2v3h-2zM322 421h2v3h-2zM324 442h2v3h-2zM324 448h2v3h-2zM326 427h2v3h-2zM326 451h2v3h-2zM328 442h2v12h-2zM330 442h2v15h-2z"/>
<path fill="#fb9630" d="M302 421h2v3h-2zM302 436h2v6h-2zM302 445h2v3h-2zM304 427h2v3h-2zM304 445h2v3h-2zM306 442h2v3h-2zM306 454h2v3h-2zM308 442h2v3h-2zM308 454h2v3h-2zM310 430h2v3h-2zM312 436h2v3h-2zM312 442h2v3h-2zM312 454h2v3h-2zM314 427h2v3h-2zM314 451h2v3h-2zM316 433h2v3h-2zM316 445h2v6h-2zM318 436h2v3h-2zM320 445h2v3h-2zM324 424h2v3h-2zM324 433h2v3h-2zM324 454h2v3h-2zM326 439h2v3h-2zM326 448h2v3h-2zM328 454h2v3h-2z"/>
<path fill="#fcab37" d="M302 430h2v6h-2zM302 451h2v6h-2zM304 436h2v6h-2zM306 424h2v3h-2zM306 436h2v3h-2zM308 433h2v3h-2zM310 442h2v3h-2zM310 454h2v3h-2zM312 445h2v3h-2zM314 430h2v3h-2zM314 439h2v3h-2zM314 448h2v3h-2zM316 436h2v3h-2zM318 442h2v3h-2zM320 433h2v3h-2zM320 454h2v3h-2zM322 442h2v3h-2zM324 436h2v3h-2z"/>
<path fill="#fec13f" d="M302 442h2v3h-2zM304 448h2v3h-2zM306 433h2v3h-2zM306 445h2v3h-2zM310 433h2v3h-2zM312 433h2v3h-2zM314 436h2v3h-2zM318 433h2v3h-2zM318 445h2v3h-2zM318 454h2v3h-2zM320 442h2v3h-2zM322 433h2v3h-2zM322 445h2v3h-2zM322 454h2v3h-2zM324 445h2v3h-2z"/>
<rect x="338" y="331" width="40" height="135" fill="#5a2488" />
<path fill="#471c7d" d="M340 334h2v9h-2zM344 334h2v6h-2zM370 334h2v3h-2zM372 334h2v3h-2z"/>
<path fill="#522186" d="M340 343h2v3h-2zM340 361h2v3h-2zM342 334h2v3h-2zM344 340h2v6h-2zM358 334h2v9h-2zM368 334h2v9h-2zM370 337h2v3h-2zM372 337h2v6h-2z"/>
<path fill="#5d258f" d="M340 346h2v15h-2zM340 364h2v3h-2zM340 373h2v21h-2zM342 337h2v6h-2zM344 346h2v21h-2zM344 385h2v3h-2zM356 394h2v3h-2zM358 343h2v3h-2zM358 358h2v33h-2zM358 400h2v3h-2zM368 343h2v6h-2zM368 373h2v3h-2zM368 379h2v12h-2zM370 340h2v6h-2zM370 370h2v6h-2zM370 379h2v12h-2zM372 376h2v21h-2zM372 406h2v3h-2z"/>
<path fill="#6c2b93" d="M340 367h2v6h-2zM340 394h2v12h-2zM340 409h2v3h-2zM340 424h2v3h-2zM340 430h2v6h-2zM342 343h2v3h-2zM342 358h2v6h-2zM344 367h2v18h-2zM344 388h2v9h-2zM344 400h2v3h-2zM356 358h2v12h-2zM356 388h2v6h-2zM356 397h2v12h-2zM358 346h2v3h-2zM358 352h2v6h-2zM358 391h2v9h-2zM358 403h2v6h-2zM360 334h2v12h-2zM360 379h2v3h-2zM368 349h2v3h-2zM368 367h2v6h-2zM368 376h2v3h-2zM368 391h2v3h-2zM368 400h2v3h-2zM368 406h2v3h-2zM368 415h2v3h-2zM368 421h2v6h-2zM370 346h2v6h-2zM370 364h2v6h-2zM370 376h2v3h-2zM370 391h2v21h-2zM370 421h2v3h-2zM372 343h2v3h-2zM372 349h2v3h-2zM372 367h2v9h-2zM372 397h2v9h-2zM372 409h2v3h-2z"/>
<path fill="#813191" d="M340 406h2v3h-2zM340 412h2v12h-2zM340 427h2v3h-2zM340 436h2v6h-2zM342 346h2v12h-2zM342 364h2v3h-2zM342 373h2v15h-2zM344 397h2v3h-2zM344 403h2v18h-2zM344 430h2v3h-2zM344 436h2v3h-2zM346 334h2v3h-2zM356 334h2v24h-2zM356 370h2v18h-2zM358 349h2v3h-2zM358 409h2v6h-2zM358 421h2v3h-2zM360 346h2v3h-2zM360 373h2v6h-2zM360 382h2v12h-2zM366 337h2v9h-2zM368 352h2v15h-2zM368 394h2v6h-2zM368 403h2v3h-2zM368 409h2v6h-2zM368 418h2v3h-2zM368 427h2v3h-2zM370 352h2v12h-2zM370 412h2v3h-2zM370 418h2v3h-2zM370 430h2v3h-2zM372 346h2v3h-2zM372 352h2v9h-2zM372 364h2v3h-2zM372 415h2v6h-2zM372 427h2v3h-2zM374 334h2v3h-2z"/>
<path fill="#96378f" d="M340 448h2v9h-2zM342 367h2v6h-2zM342 388h2v15h-2zM342 424h2v12h-2zM344 421h2v9h-2zM344 433h2v3h-2zM344 439h2v3h-2zM344 451h2v6h-2zM346 337h2v9h-2zM350 391h2v9h-2zM354 394h2v9h-2zM356 409h2v3h-2zM358 430h2v6h-2zM360 364h2v9h-2zM360 394h2v15h-2zM362 337h2v9h-2zM362 379h2v9h-2zM366 334h2v3h-2zM366 346h2v3h-2zM366 376h2v15h-2zM366 403h2v9h-2zM366 418h2v6h-2zM368 433h2v6h-2zM368 448h2v3h-2zM370 415h2v3h-2zM370 442h2v3h-2zM372 361h2v3h-2zM372 412h2v3h-2zM372 424h2v3h-2zM372 439h2v3h-2zM374 337h2v3h-2zM374 388h2v6h-2zM374 400h2v6h-2z"/>
<path fill="#aa3f88" d="M340 442h2v6h-2zM342 403h2v21h-2zM342 436h2v3h-2zM342 454h2v3h-2zM344 442h2v9h-2zM344 457h2v6h-2zM346 346h2v27h-2zM346 376h2v27h-2zM348 334h2v3h-2zM348 388h2v3h-2zM348 394h2v6h-2zM350 337h2v3h-2zM350 388h2v3h-2zM350 400h2v3h-2zM352 388h2v12h-2zM354 346h2v3h-2zM354 352h2v15h-2zM354 385h2v9h-2zM354 403h2v3h-2zM356 418h2v3h-2zM356 439h2v3h-2zM358 418h2v3h-2zM358 424h2v3h-2zM358 442h2v6h-2zM360 349h2v15h-2zM360 409h2v12h-2zM360 424h2v6h-2zM362 334h2v3h-2zM362 346h2v3h-2zM362 376h2v3h-2zM362 388h2v3h-2zM366 349h2v3h-2zM366 370h2v6h-2zM366 391h2v12h-2zM366 412h2v6h-2zM366 424h2v6h-2zM368 430h2v3h-2zM368 439h2v3h-2zM368 445h2v3h-2zM368 454h2v6h-2zM370 424h2v6h-2zM370 433h2v3h-2zM370 439h2v3h-2zM370 451h2v6h-2zM372 430h2v3h-2zM372 436h2v3h-2zM372 448h2v3h-2zM372 460h2v3h-2zM374 340h2v6h-2zM374 376h2v12h-2zM374 394h2v6h-2zM374 406h2v3h-2z"/>
<path fill="#bd487e" d="M340 457h2v6h-2zM342 439h2v15h-2zM342 457h2v6h-2zM346 373h2v3h-2zM346 403h2v3h-2zM348 337h2v6h-2zM348 382h2v6h-2zM348 391h2v3h-2zM348 400h2v3h-2zM350 334h2v3h-2zM350 340h2v24h-2zM350 382h2v6h-2zM350 403h2v3h-2zM352 334h2v3h-2zM352 346h2v18h-2zM352 367h2v3h-2zM352 385h2v3h-2zM352 400h2v3h-2zM354 334h2v12h-2zM354 349h2v3h-2zM354 367h2v18h-2zM354 406h2v3h-2zM356 412h2v6h-2zM356 427h2v6h-2zM356 448h2v3h-2zM358 415h2v3h-2zM358 451h2v6h-2zM360 421h2v3h-2zM360 457h2v3h-2zM362 349h2v3h-2zM362 370h2v6h-2zM362 391h2v24h-2zM362 418h2v9h-2zM364 340h2v6h-2zM366 352h2v9h-2zM366 364h2v6h-2zM366 430h2v3h-2zM366 457h2v6h-2zM368 442h2v3h-2zM368 451h2v3h-2zM368 460h2v3h-2zM370 460h2v3h-2zM372 421h2v3h-2zM372 451h2v3h-2zM372 457h2v3h-2zM374 346h2v6h-2zM374 364h2v12h-2zM374 409h2v3h-2z"/>
<path fill="#d05074" d="M346 406h2v12h-2zM346 457h2v6h-2zM348 343h2v9h-2zM348 358h2v9h-2zM348 370h2v12h-2zM350 364h2v18h-2zM350 409h2v3h-2zM350 415h2v6h-2zM352 337h2v9h-2zM352 364h2v3h-2zM352 370h2v9h-2zM352 382h2v3h-2zM352 403h2v6h-2zM354 409h2v3h-2zM354 415h2v6h-2zM356 421h2v3h-2zM356 442h2v3h-2zM356 451h2v3h-2zM356 460h2v3h-2zM358 427h2v3h-2zM358 436h2v6h-2zM358 457h2v6h-2zM360 430h2v3h-2zM360 436h2v6h-2zM360 448h2v3h-2zM360 460h2v3h-2zM362 352h2v3h-2zM362 358h2v12h-2zM362 415h2v3h-2zM362 427h2v6h-2zM362 457h2v6h-2zM364 337h2v3h-2zM364 346h2v3h-2zM364 376h2v12h-2zM366 361h2v3h-2zM366 433h2v6h-2zM366 442h2v15h-2zM370 445h2v6h-2zM370 457h2v3h-2zM374 352h2v12h-2zM374 412h2v9h-2zM374 424h2v6h-2zM374 457h2v6h-2z"/>
<path fill="#dc5b63" d="M346 418h2v3h-2zM346 424h2v3h-2zM348 352h2v6h-2zM348 367h2v3h-2zM348 403h2v3h-2zM348 412h2v3h-2zM348 457h2v6h-2zM350 406h2v3h-2zM350 460h2v3h-2zM352 379h2v3h-2zM352 415h2v6h-2zM352 457h2v6h-2zM354 427h2v3h-2zM354 439h2v3h-2zM354 457h2v6h-2zM356 457h2v3h-2zM360 433h2v3h-2zM360 445h2v3h-2zM360 451h2v3h-2zM362 355h2v3h-2zM364 334h2v3h-2zM364 370h2v6h-2zM364 388h2v39h-2zM364 457h2v6h-2zM366 439h2v3h-2zM370 436h2v3h-2zM372 442h2v6h-2z"/>
<path fill="#e76653" d="M346 421h2v3h-2zM346 427h2v3h-2zM346 436h2v3h-2zM346 448h2v3h-2zM348 406h2v6h-2zM348 418h2v3h-2zM350 412h2v3h-2zM350 457h2v3h-2zM352 409h2v6h-2zM354 412h2v3h-2zM354 424h2v3h-2zM354 436h2v3h-2zM354 448h2v3h-2zM356 424h2v3h-2zM356 436h2v3h-2zM360 442h2v3h-2zM360 454h2v3h-2zM362 433h2v24h-2zM364 349h2v9h-2zM364 364h2v6h-2zM364 427h2v3h-2zM374 436h2v6h-2zM374 448h2v3h-2z"/>
<path fill="#ef7446" d="M346 433h2v3h-2zM346 439h2v3h-2zM346 445h2v3h-2zM346 451h2v6h-2zM348 415h2v3h-2zM348 421h2v3h-2zM350 448h2v6h-2zM352 427h2v3h-2zM352 448h2v3h-2zM354 451h2v3h-2zM358 448h2v3h-2zM364 358h2v6h-2zM364 430h2v3h-2zM364 448h2v3h-2zM372 433h2v3h-2zM372 454h2v3h-2zM374 421h2v3h-2z"/>
<path fill="#f5853b" d="M346 430h2v3h-2zM346 442h2v3h-2zM348 430h2v3h-2zM348 442h2v3h-2zM348 451h2v6h-2zM350 421h2v3h-2zM350 427h2v6h-2zM350 439h2v3h-2zM352 424h2v3h-2zM352 436h2v6h-2zM352 451h2v3h-2zM354 421h2v3h-2zM354 430h2v3h-2zM354 445h2v3h-2zM356 433h2v3h-2zM356 445h2v3h-2zM364 433h2v15h-2zM364 451h2v6h-2zM374 430h2v3h-2zM374 445h2v3h-2zM374 451h2v3h-2z"/>
<path fill="#fb9630" d="M348 424h2v3h-2zM348 433h2v3h-2zM348 445h2v3h-2zM350 424h2v3h-2zM350 442h2v3h-2zM352 445h2v3h-2zM356 454h2v3h-2z"/>
<path fill="#fcab37" d="M348 439h2v3h-2zM350 436h2v3h-2zM350 454h2v3h-2zM352 421h2v3h-2zM352 430h2v3h-2zM352 442h2v3h-2zM354 433h2v3h-2zM354 442h2v3h-2zM374 433h2v3h-2zM374 442h2v3h-2zM374 454h2v3h-2z"/>
<path fill="#fec13f" d="M348 427h2v3h-2zM348 436h2v3h-2zM348 448h2v3h-2zM350 433h2v3h-2zM350 445h2v3h-2zM352 433h2v3h-2zM352 454h2v3h-2zM354 454h2v3h-2z"/>
<rect x="377" y="331" width="39" height="134" fill="#5a2488" />
<path fill="#39166e" d="M379 334h2v3h-2z"/>
<path fill="#3f1875" d="M379 337h2v6h-2zM381 334h2v3h-2zM405 334h2v3h-2zM407 334h2v6h-2zM409 334h2v9h-2zM411 334h2v9h-2zM411 367h2v9h-2zM411 379h2v3h-2zM413 334h1v9h-1zM413 370h1v3h-1z"/>
<path fill="#471c7d" d="M381 337h2v12h-2zM389 334h2v6h-2zM389 397h2v3h-2zM405 337h2v6h-2zM407 340h2v6h-2zM409 343h2v6h-2zM409 364h2v21h-2zM411 343h2v12h-2zM411 361h2v6h-2zM411 376h2v3h-2zM411 382h2v3h-2zM413 343h1v3h-1zM413 358h1v12h-1zM413 373h1v9h-1z"/>
<path fill="#522186" d="M379 343h2v6h-2zM381 349h2v15h-2zM381 397h2v6h-2zM389 340h2v21h-2zM389 376h2v21h-2zM391 334h2v3h-2zM405 343h2v3h-2zM405 373h2v3h-2zM407 346h2v3h-2zM407 364h2v3h-2zM407 370h2v3h-2zM407 379h2v6h-2zM409 349h2v15h-2zM409 385h2v9h-2zM409 418h2v3h-2zM411 355h2v6h-2zM411 385h2v6h-2zM411 415h2v6h-2zM411 427h2v3h-2zM413 346h1v12h-1zM413 382h1v9h-1zM413 397h1v3h-1zM413 418h1v9h-1z"/>
<path fill="#5d258f" d="M379 349h2v33h-2zM379 385h2v21h-2zM379 409h2v3h-2zM381 364h2v9h-2zM381 376h2v3h-2zM381 391h2v6h-2zM381 403h2v6h-2zM389 361h2v15h-2zM389 400h2v3h-2zM391 337h2v3h-2zM391 349h2v3h-2zM391 391h2v6h-2zM393 334h2v3h-2zM393 355h2v3h-2zM393 391h2v3h-2zM405 346h2v3h-2zM405 361h2v12h-2zM405 376h2v18h-2zM405 403h2v3h-2zM405 409h2v9h-2zM407 349h2v15h-2zM407 367h2v3h-2zM407 373h2v6h-2zM407 385h2v12h-2zM409 394h2v6h-2zM409 409h2v9h-2zM409 421h2v9h-2zM411 391h2v12h-2zM411 406h2v9h-2zM411 421h2v6h-2zM411 430h2v3h-2zM413 391h1v6h-1zM413 400h1v6h-1zM413 409h1v9h-1zM413 427h1v6h-1z"/>
<path fill="#6c2b93" d="M379 382h2v3h-2zM379 406h2v3h-2zM379 412h2v3h-2zM381 373h2v3h-2zM381 379h2v12h-2zM381 409h2v12h-2zM381 424h2v3h-2zM387 334h2v6h-2zM387 346h2v15h-2zM387 397h2v3h-2zM389 403h2v3h-2zM389 409h2v18h-2zM389 430h2v3h-2zM391 340h2v9h-2zM391 352h2v12h-2zM391 376h2v15h-2zM391 397h2v6h-2zM393 337h2v3h-2zM393 349h2v6h-2zM393 358h2v9h-2zM393 379h2v12h-2zM393 394h2v9h-2zM405 355h2v6h-2zM405 394h2v9h-2zM405 406h2v3h-2zM405 418h2v3h-2zM407 397h2v9h-2zM407 412h2v18h-2zM409 400h2v9h-2zM409 430h2v6h-2zM409 454h2v3h-2zM411 403h2v3h-2zM411 433h2v12h-2zM411 448h2v9h-2zM413 406h1v3h-1zM413 433h1v3h-1zM413 439h1v3h-1zM413 445h1v3h-1z"/>
<path fill="#813191" d="M379 415h2v9h-2zM381 421h2v3h-2zM381 427h2v3h-2zM385 352h2v9h-2zM385 397h2v3h-2zM387 340h2v6h-2zM387 361h2v6h-2zM387 373h2v3h-2zM387 379h2v9h-2zM387 391h2v6h-2zM387 400h2v6h-2zM389 406h2v3h-2zM389 427h2v3h-2zM389 433h2v15h-2zM389 451h2v3h-2zM391 364h2v6h-2zM391 373h2v3h-2zM391 403h2v3h-2zM393 340h2v9h-2zM393 376h2v3h-2zM393 403h2v6h-2zM395 352h2v12h-2zM395 382h2v24h-2zM403 334h2v9h-2zM405 349h2v6h-2zM405 421h2v12h-2zM407 406h2v6h-2zM407 430h2v6h-2zM409 436h2v6h-2zM409 445h2v9h-2zM411 445h2v3h-2zM413 436h1v3h-1zM413 442h1v3h-1zM413 448h1v9h-1z"/>
<path fill="#96378f" d="M379 424h2v3h-2zM379 430h2v3h-2zM379 442h2v3h-2zM383 334h2v3h-2zM383 355h2v3h-2zM385 334h2v18h-2zM385 361h2v9h-2zM385 394h2v3h-2zM385 400h2v6h-2zM387 367h2v6h-2zM387 376h2v3h-2zM387 388h2v3h-2zM387 406h2v21h-2zM389 448h2v3h-2zM389 454h2v3h-2zM391 370h2v3h-2zM391 406h2v24h-2zM391 433h2v6h-2zM391 442h2v3h-2zM393 367h2v9h-2zM393 409h2v9h-2zM393 424h2v6h-2zM395 334h2v3h-2zM395 349h2v3h-2zM395 364h2v3h-2zM395 379h2v3h-2zM395 406h2v6h-2zM397 388h2v12h-2zM397 403h2v6h-2zM403 343h2v3h-2zM403 391h2v3h-2zM403 400h2v6h-2zM403 412h2v6h-2zM405 433h2v6h-2zM405 448h2v6h-2zM407 436h2v6h-2zM407 451h2v6h-2zM409 442h2v3h-2z"/>
<path fill="#aa3f88" d="M379 427h2v3h-2zM379 439h2v3h-2zM379 451h2v3h-2zM381 430h2v12h-2zM381 445h2v6h-2zM383 337h2v18h-2zM383 358h2v9h-2zM383 394h2v12h-2zM385 370h2v24h-2zM385 406h2v21h-2zM387 427h2v6h-2zM389 457h2v5h-2zM391 430h2v3h-2zM391 439h2v3h-2zM391 445h2v12h-2zM391 460h2v2h-2zM393 418h2v6h-2zM393 433h2v6h-2zM393 445h2v6h-2zM395 337h2v12h-2zM395 367h2v3h-2zM395 373h2v6h-2zM395 412h2v12h-2zM395 430h2v3h-2zM397 355h2v9h-2zM397 379h2v9h-2zM397 400h2v3h-2zM397 409h2v3h-2zM397 415h2v3h-2zM403 346h2v3h-2zM403 361h2v3h-2zM403 367h2v3h-2zM403 373h2v18h-2zM403 394h2v6h-2zM403 406h2v6h-2zM403 418h2v3h-2zM405 439h2v9h-2zM405 454h2v3h-2zM405 460h2v2h-2zM407 442h2v9h-2zM407 457h2v3h-2zM409 457h2v5h-2zM411 457h2v5h-2zM413 457h1v5h-1z"/>
<path fill="#bd487e" d="M379 433h2v3h-2zM379 454h2v3h-2zM379 460h2v2h-2zM381 442h2v3h-2zM381 457h2v5h-2zM383 367h2v6h-2zM383 376h2v6h-2zM383 391h2v3h-2zM383 406h2v6h-2zM383 418h2v6h-2zM385 427h2v3h-2zM385 457h2v3h-2zM387 433h2v18h-2zM387 457h2v5h-2zM391 457h2v3h-2zM393 430h2v3h-2zM393 439h2v3h-2zM393 454h2v8h-2zM395 370h2v3h-2zM395 427h2v3h-2zM395 460h2v2h-2zM397 334h2v6h-2zM397 346h2v9h-2zM397 376h2v3h-2zM397 412h2v3h-2zM397 418h2v3h-2zM399 385h2v12h-2zM403 349h2v3h-2zM403 358h2v3h-2zM403 364h2v3h-2zM403 370h2v3h-2zM403 421h2v3h-2zM405 457h2v3h-2zM407 460h2v2h-2z"/>
<path fill="#d05074" d="M379 445h2v3h-2zM379 457h2v3h-2zM381 451h2v6h-2zM383 373h2v3h-2zM383 382h2v9h-2zM383 412h2v6h-2zM383 424h2v6h-2zM383 457h2v5h-2zM385 430h2v3h-2zM385 460h2v2h-2zM387 451h2v6h-2zM393 442h2v3h-2zM393 451h2v3h-2zM395 439h2v3h-2zM395 451h2v3h-2zM395 457h2v3h-2zM397 340h2v6h-2zM397 364h2v12h-2zM397 424h2v6h-2zM397 436h2v3h-2zM397 457h2v5h-2zM399 334h2v3h-2zM399 382h2v3h-2zM399 397h2v12h-2zM399 415h2v3h-2zM399 460h2v2h-2zM401 337h2v6h-2zM401 391h2v12h-2zM403 352h2v6h-2zM403 424h2v3h-2zM403 433h2v6h-2zM403 457h2v5h-2z"/>
<path fill="#dc5b63" d="M379 448h2v3h-2zM383 430h2v3h-2zM383 442h2v3h-2zM385 433h2v18h-2zM395 442h2v3h-2zM397 439h2v3h-2zM397 448h2v3h-2zM399 337h2v12h-2zM399 355h2v9h-2zM399 379h2v3h-2zM399 409h2v3h-2zM399 418h2v3h-2zM399 457h2v3h-2zM401 334h2v3h-2zM401 343h2v3h-2zM401 382h2v9h-2zM401 403h2v3h-2zM401 412h2v3h-2zM401 457h2v3h-2zM403 427h2v6h-2zM403 439h2v6h-2zM403 448h2v9h-2z"/>
<path fill="#e76653" d="M379 436h2v3h-2zM383 433h2v9h-2zM383 445h2v3h-2zM385 451h2v6h-2zM395 424h2v3h-2zM395 433h2v3h-2zM395 448h2v3h-2zM395 454h2v3h-2zM399 349h2v6h-2zM399 364h2v6h-2zM399 373h2v6h-2zM399 412h2v3h-2zM401 346h2v6h-2zM401 355h2v12h-2zM401 376h2v6h-2zM401 406h2v6h-2zM401 415h2v3h-2zM401 460h2v2h-2zM403 445h2v3h-2z"/>
<path fill="#ef7446" d="M383 448h2v9h-2zM395 436h2v3h-2zM397 421h2v3h-2zM397 430h2v3h-2zM397 451h2v3h-2zM399 370h2v3h-2zM399 421h2v3h-2zM399 427h2v6h-2zM401 352h2v3h-2zM401 367h2v9h-2zM401 418h2v6h-2zM401 433h2v3h-2z"/>
<path fill="#f5853b" d="M397 445h2v3h-2zM399 424h2v3h-2zM399 436h2v6h-2zM399 448h2v6h-2zM401 424h2v3h-2zM401 430h2v3h-2zM401 454h2v3h-2z"/>
<path fill="#fb9630" d="M395 445h2v3h-2zM397 433h2v3h-2zM401 427h2v3h-2zM401 436h2v3h-2zM401 442h2v6h-2zM401 451h2v3h-2z"/>
<path fill="#fcab37" d="M397 442h2v3h-2zM397 454h2v3h-2zM399 433h2v3h-2zM399 442h2v3h-2zM401 439h2v3h-2zM401 448h2v3h-2z"/>
<path fill="#fec13f" d="M399 445h2v3h-2zM399 454h2v3h-2z"/>
<rect x="415" y="331" width="38" height="134" fill="#5a2488" />
<path fill="#2e105e" d="M419 334h2v3h-2zM421 334h2v3h-2z"/>
<path fill="#341366" d="M417 334h2v3h-2zM419 337h2v3h-2zM419 355h2v12h-2zM423 334h2v3h-2zM425 334h2v6h-2z"/>
<path fill="#39166e" d="M417 337h2v3h-2zM417 358h2v9h-2zM417 370h2v3h-2zM419 340h2v15h-2zM419 367h2v18h-2zM419 394h2v6h-2zM421 337h2v3h-2zM423 337h2v3h-2zM425 340h2v3h-2zM425 349h2v12h-2zM427 334h2v3h-2zM433 334h2v3h-2z"/>
<path fill="#3f1875" d="M417 340h2v18h-2zM417 367h2v3h-2zM417 373h2v9h-2zM417 394h2v6h-2zM419 385h2v3h-2zM419 391h2v3h-2zM419 400h2v3h-2zM419 424h2v3h-2zM421 340h2v3h-2zM421 355h2v12h-2zM423 355h2v6h-2zM425 343h2v6h-2zM425 361h2v9h-2zM427 337h2v6h-2zM429 337h2v3h-2zM431 334h2v6h-2zM433 337h2v18h-2z"/>
<path fill="#471c7d" d="M417 382h2v6h-2zM417 391h2v3h-2zM417 400h2v6h-2zM417 418h2v3h-2zM417 424h2v3h-2zM419 388h2v3h-2zM419 403h2v21h-2zM419 427h2v6h-2zM419 442h2v6h-2zM421 343h2v12h-2zM421 367h2v18h-2zM421 397h2v6h-2zM423 340h2v15h-2zM423 361h2v9h-2zM423 379h2v3h-2zM425 370h2v33h-2zM427 343h2v24h-2zM429 334h2v3h-2zM429 340h2v9h-2zM429 355h2v6h-2zM429 388h2v3h-2zM431 340h2v9h-2zM433 355h2v3h-2zM433 388h2v9h-2zM433 400h2v3h-2zM437 334h2v3h-2z"/>
<path fill="#522186" d="M417 388h2v3h-2zM417 406h2v12h-2zM417 421h2v3h-2zM417 427h2v3h-2zM419 433h2v9h-2zM419 448h2v6h-2zM421 385h2v3h-2zM421 391h2v6h-2zM421 403h2v3h-2zM421 424h2v3h-2zM423 370h2v9h-2zM423 382h2v6h-2zM423 394h2v12h-2zM425 403h2v9h-2zM425 415h2v6h-2zM425 424h2v12h-2zM427 388h2v9h-2zM429 349h2v6h-2zM429 361h2v6h-2zM429 385h2v3h-2zM429 391h2v3h-2zM431 349h2v12h-2zM431 385h2v6h-2zM433 358h2v21h-2zM433 382h2v6h-2zM433 397h2v3h-2zM433 403h2v15h-2zM435 334h2v3h-2zM437 337h2v9h-2zM437 349h2v3h-2zM439 334h2v3h-2z"/>
<path fill="#5d258f" d="M417 430h2v3h-2zM417 436h2v12h-2zM419 454h2v3h-2zM421 388h2v3h-2zM421 406h2v18h-2zM421 427h2v6h-2zM421 445h2v12h-2zM423 388h2v6h-2zM423 406h2v3h-2zM423 418h2v12h-2zM425 412h2v3h-2zM425 421h2v3h-2zM425 436h2v6h-2zM425 451h2v6h-2zM427 367h2v21h-2zM427 397h2v15h-2zM429 367h2v3h-2zM429 373h2v3h-2zM429 382h2v3h-2zM429 394h2v3h-2zM431 361h2v9h-2zM431 373h2v3h-2zM431 391h2v9h-2zM431 403h2v6h-2zM433 379h2v3h-2zM433 418h2v15h-2zM433 436h2v3h-2zM433 442h2v3h-2zM435 337h2v3h-2zM435 391h2v3h-2zM435 397h2v3h-2zM437 346h2v3h-2zM437 352h2v3h-2zM437 394h2v6h-2zM439 337h2v3h-2z"/>
<path fill="#6c2b93" d="M417 433h2v3h-2zM417 448h2v9h-2zM421 433h2v12h-2zM423 409h2v9h-2zM423 430h2v3h-2zM423 445h2v12h-2zM425 442h2v9h-2zM427 412h2v12h-2zM427 427h2v9h-2zM429 370h2v3h-2zM429 376h2v6h-2zM429 397h2v21h-2zM429 427h2v3h-2zM429 433h2v3h-2zM431 370h2v3h-2zM431 376h2v9h-2zM431 400h2v3h-2zM431 409h2v12h-2zM431 427h2v3h-2zM433 433h2v3h-2zM433 439h2v3h-2zM433 445h2v6h-2zM435 340h2v15h-2zM435 373h2v6h-2zM435 382h2v3h-2zM435 388h2v3h-2zM435 394h2v3h-2zM435 400h2v9h-2zM437 355h2v3h-2zM437 382h2v12h-2zM437 400h2v9h-2zM439 340h2v3h-2zM439 349h2v6h-2zM439 394h2v6h-2z"/>
<path fill="#813191" d="M423 433h2v12h-2zM427 424h2v3h-2zM427 436h2v6h-2zM429 418h2v9h-2zM429 430h2v3h-2zM429 436h2v6h-2zM431 421h2v6h-2zM431 430h2v15h-2zM433 451h2v6h-2zM435 355h2v6h-2zM435 364h2v9h-2zM435 379h2v3h-2zM435 385h2v3h-2zM435 409h2v21h-2zM437 358h2v24h-2zM437 409h2v21h-2zM439 343h2v6h-2zM439 355h2v6h-2zM439 388h2v6h-2zM439 400h2v9h-2z"/>
<path fill="#96378f" d="M419 457h2v5h-2zM423 457h2v3h-2zM425 457h2v5h-2zM427 442h2v15h-2zM429 442h2v3h-2zM431 445h2v3h-2zM435 361h2v3h-2zM435 430h2v6h-2zM435 439h2v9h-2zM437 430h2v18h-2zM439 361h2v12h-2zM439 382h2v6h-2zM439 409h2v12h-2zM439 424h2v9h-2zM447 334h2v3h-2z"/>
<path fill="#aa3f88" d="M417 457h2v5h-2zM421 457h2v5h-2zM423 460h2v2h-2zM427 457h2v3h-2zM429 445h2v15h-2zM431 448h2v14h-2zM433 457h2v5h-2zM435 436h2v3h-2zM435 448h2v3h-2zM437 448h2v3h-2zM439 373h2v9h-2zM439 421h2v3h-2zM443 334h2v3h-2zM447 337h2v3h-2z"/>
<path fill="#bd487e" d="M427 460h2v2h-2zM429 460h2v2h-2zM435 451h2v11h-2zM437 451h2v11h-2zM439 433h2v12h-2zM439 457h2v5h-2zM441 334h2v3h-2zM441 391h2v3h-2zM441 397h2v6h-2zM443 337h2v6h-2zM443 349h2v12h-2zM443 388h2v21h-2zM445 334h2v6h-2zM445 388h2v21h-2zM447 340h2v3h-2zM447 367h2v9h-2zM447 379h2v3h-2zM447 385h2v3h-2zM447 397h2v12h-2z"/>
<path fill="#d05074" d="M439 445h2v9h-2zM441 337h2v6h-2zM441 349h2v12h-2zM441 388h2v3h-2zM441 394h2v3h-2zM441 403h2v9h-2zM443 343h2v6h-2zM443 361h2v9h-2zM443 385h2v3h-2zM443 409h2v3h-2zM443 418h2v3h-2zM443 460h2v2h-2zM445 340h2v42h-2zM445 385h2v3h-2zM445 460h2v2h-2zM447 343h2v3h-2zM447 355h2v12h-2zM447 376h2v3h-2zM447 382h2v3h-2zM447 388h2v9h-2zM447 409h2v3h-2zM449 334h2v6h-2z"/>
<path fill="#dc5b63" d="M439 454h2v3h-2zM441 343h2v6h-2zM441 361h2v12h-2zM441 385h2v3h-2zM441 412h2v3h-2zM441 421h2v3h-2zM441 457h2v5h-2zM443 370h2v3h-2zM443 379h2v6h-2zM443 427h2v6h-2zM445 382h2v3h-2zM445 409h2v3h-2zM445 415h2v6h-2zM445 427h2v3h-2zM445 457h2v3h-2zM447 346h2v9h-2zM447 415h2v6h-2zM447 427h2v3h-2zM447 457h2v5h-2zM449 340h2v3h-2zM449 361h2v27h-2zM449 397h2v15h-2zM449 460h2v2h-2z"/>
<path fill="#e76653" d="M441 373h2v3h-2zM441 382h2v3h-2zM441 424h2v3h-2zM441 430h2v6h-2zM443 373h2v6h-2zM443 412h2v6h-2zM443 421h2v3h-2zM443 457h2v3h-2zM445 412h2v3h-2zM447 412h2v3h-2zM447 424h2v3h-2zM447 436h2v3h-2zM449 355h2v6h-2zM449 388h2v9h-2zM449 427h2v3h-2z"/>
<path fill="#ef7446" d="M441 376h2v6h-2zM441 415h2v6h-2zM443 439h2v3h-2zM445 424h2v3h-2zM445 436h2v6h-2zM447 439h2v3h-2zM447 448h2v3h-2zM449 343h2v12h-2zM449 418h2v3h-2zM449 430h2v3h-2zM449 457h2v3h-2z"/>
<path fill="#f5853b" d="M441 427h2v3h-2zM441 442h2v3h-2zM443 451h2v3h-2zM445 448h2v3h-2zM447 430h2v3h-2zM449 412h2v6h-2zM449 421h2v3h-2zM449 439h2v3h-2z"/>
<path fill="#fb9630" d="M441 436h2v3h-2zM441 445h2v3h-2zM441 454h2v3h-2zM443 424h2v3h-2zM443 433h2v6h-2zM443 442h2v3h-2zM443 448h2v3h-2zM445 421h2v3h-2zM445 430h2v3h-2zM445 451h2v3h-2zM447 421h2v3h-2zM447 445h2v3h-2zM449 424h2v3h-2zM449 442h2v3h-2zM449 448h2v3h-2z"/>
<path fill="#fcab37" d="M441 439h2v3h-2zM441 451h2v3h-2zM445 445h2v3h-2zM447 433h2v3h-2zM447 451h2v3h-2zM449 436h2v3h-2zM449 451h2v3h-2z"/>
<path fill="#fec13f" d="M441 448h2v3h-2zM443 445h2v3h-2zM443 454h2v3h-2zM445 433h2v3h-2zM445 442h2v3h-2zM445 454h2v3h-2zM447 442h2v3h-2zM449 433h2v3h-2zM449 445h2v3h-2zM449 454h2v3h-2z"/>
<path fill="#ffd646" d="M447 454h2v3h-2z"/>
<rect x="453" y="330" width="38" height="134" fill="#5a2488" />
<path fill="#3f1875" d="M471 333h2v3h-2z"/>
<path fill="#471c7d" d="M471 336h2v6h-2z"/>
<path fill="#522186" d="M459 333h2v6h-2zM461 333h2v12h-2zM463 333h2v9h-2zM469 333h2v3h-2zM471 342h2v3h-2zM471 381h2v24h-2z"/>
<path fill="#5d258f" d="M459 339h2v6h-2zM459 369h2v15h-2zM461 345h2v6h-2zM461 369h2v9h-2zM461 384h2v6h-2zM463 342h2v6h-2zM463 381h2v9h-2zM469 336h2v3h-2zM471 345h2v12h-2zM471 375h2v6h-2zM471 405h2v3h-2z"/>
<path fill="#6c2b93" d="M459 345h2v6h-2zM459 363h2v6h-2zM459 384h2v6h-2zM461 351h2v6h-2zM461 363h2v6h-2zM461 378h2v6h-2zM461 390h2v3h-2zM463 348h2v6h-2zM463 369h2v12h-2zM463 390h2v6h-2zM465 333h2v6h-2zM469 339h2v3h-2zM469 384h2v15h-2zM471 357h2v18h-2zM471 408h2v6h-2zM485 354h2v9h-2z"/>
<path fill="#813191" d="M459 351h2v12h-2zM459 390h2v9h-2zM459 426h2v6h-2zM461 357h2v6h-2zM461 393h2v6h-2zM461 402h2v3h-2zM463 354h2v3h-2zM463 360h2v9h-2zM463 396h2v12h-2zM465 384h2v3h-2zM467 333h2v6h-2zM469 342h2v6h-2zM469 375h2v9h-2zM469 399h2v9h-2zM471 414h2v18h-2zM477 396h2v3h-2zM483 333h2v3h-2zM483 339h2v6h-2zM483 351h2v12h-2zM483 390h2v3h-2zM483 396h2v3h-2zM485 333h2v3h-2zM485 348h2v6h-2zM485 363h2v3h-2zM485 375h2v12h-2zM485 390h2v12h-2z"/>
<path fill="#96378f" d="M459 399h2v27h-2zM459 432h2v9h-2zM461 399h2v3h-2zM461 405h2v18h-2zM461 426h2v15h-2zM463 357h2v3h-2zM463 408h2v15h-2zM463 426h2v9h-2zM465 339h2v6h-2zM465 375h2v9h-2zM465 387h2v9h-2zM467 339h2v3h-2zM467 381h2v12h-2zM469 348h2v3h-2zM469 354h2v3h-2zM469 372h2v3h-2zM469 408h2v9h-2zM471 432h2v9h-2zM473 333h2v12h-2zM473 384h2v21h-2zM475 396h2v3h-2zM475 402h2v3h-2zM477 384h2v12h-2zM477 399h2v6h-2zM483 336h2v3h-2zM483 345h2v6h-2zM483 363h2v3h-2zM483 381h2v9h-2zM483 393h2v3h-2zM483 399h2v3h-2zM485 336h2v12h-2zM485 366h2v9h-2zM485 387h2v3h-2zM485 402h2v6h-2z"/>
<path fill="#aa3f88" d="M457 333h2v3h-2zM459 441h2v3h-2zM459 447h2v6h-2zM461 423h2v3h-2zM461 441h2v15h-2zM463 423h2v3h-2zM463 435h2v6h-2zM463 447h2v6h-2zM465 345h2v6h-2zM465 372h2v3h-2zM465 396h2v12h-2zM467 342h2v3h-2zM467 375h2v6h-2zM467 393h2v12h-2zM469 351h2v3h-2zM469 357h2v15h-2zM469 417h2v6h-2zM471 441h2v9h-2zM473 345h2v15h-2zM473 363h2v3h-2zM473 375h2v3h-2zM473 381h2v3h-2zM473 405h2v3h-2zM475 339h2v6h-2zM475 351h2v3h-2zM475 384h2v12h-2zM475 399h2v3h-2zM477 339h2v30h-2zM477 381h2v3h-2zM477 405h2v3h-2zM479 396h2v3h-2zM481 336h2v15h-2zM481 357h2v3h-2zM481 390h2v9h-2zM483 366h2v15h-2zM483 402h2v3h-2zM487 357h2v3h-2z"/>
<path fill="#bd487e" d="M455 333h2v6h-2zM455 375h2v3h-2zM457 336h2v6h-2zM457 369h2v3h-2zM457 375h2v9h-2zM459 444h2v3h-2zM459 453h2v8h-2zM461 456h2v5h-2zM463 441h2v6h-2zM463 453h2v8h-2zM465 351h2v6h-2zM465 366h2v6h-2zM465 408h2v6h-2zM467 345h2v6h-2zM467 372h2v3h-2zM467 405h2v9h-2zM469 423h2v15h-2zM471 450h2v11h-2zM473 360h2v3h-2zM473 366h2v9h-2zM473 378h2v3h-2zM473 408h2v6h-2zM473 423h2v3h-2zM475 336h2v3h-2zM475 345h2v6h-2zM475 354h2v12h-2zM475 381h2v3h-2zM475 405h2v6h-2zM477 333h2v6h-2zM477 369h2v12h-2zM477 408h2v3h-2zM479 342h2v3h-2zM479 348h2v18h-2zM479 384h2v12h-2zM479 399h2v3h-2zM481 333h2v3h-2zM481 351h2v6h-2zM481 360h2v9h-2zM481 375h2v15h-2zM481 399h2v3h-2zM483 405h2v3h-2zM485 408h2v3h-2zM485 426h2v3h-2zM485 459h2v2h-2zM487 354h2v3h-2zM487 360h2v6h-2zM487 375h2v9h-2zM487 399h2v3h-2z"/>
<path fill="#d05074" d="M455 339h2v3h-2zM455 360h2v15h-2zM455 378h2v6h-2zM455 402h2v6h-2zM457 342h2v6h-2zM457 363h2v6h-2zM457 372h2v3h-2zM457 384h2v6h-2zM457 402h2v3h-2zM465 357h2v9h-2zM465 414h2v24h-2zM465 456h2v5h-2zM467 351h2v3h-2zM467 366h2v6h-2zM467 414h2v9h-2zM467 456h2v5h-2zM469 438h2v6h-2zM469 456h2v5h-2zM473 414h2v3h-2zM473 426h2v3h-2zM473 456h2v3h-2zM475 333h2v3h-2zM475 366h2v15h-2zM475 411h2v3h-2zM477 459h2v2h-2zM479 333h2v9h-2zM479 345h2v3h-2zM479 366h2v18h-2zM479 402h2v3h-2zM479 459h2v2h-2zM481 369h2v6h-2zM481 402h2v6h-2zM481 456h2v3h-2zM483 408h2v3h-2zM483 414h2v6h-2zM483 426h2v3h-2zM483 456h2v5h-2zM485 414h2v6h-2zM487 333h2v3h-2zM487 348h2v6h-2zM487 366h2v9h-2zM487 384h2v15h-2zM487 402h2v6h-2z"/>
<path fill="#dc5b63" d="M455 342h2v3h-2zM455 357h2v3h-2zM455 384h2v18h-2zM455 408h2v3h-2zM455 459h2v2h-2zM457 348h2v15h-2zM457 390h2v12h-2zM457 405h2v9h-2zM457 423h2v3h-2zM457 456h2v3h-2zM465 438h2v3h-2zM467 354h2v12h-2zM467 423h2v15h-2zM469 444h2v9h-2zM473 417h2v6h-2zM473 432h2v6h-2zM473 459h2v2h-2zM475 420h2v3h-2zM477 411h2v3h-2zM477 417h2v6h-2zM477 426h2v6h-2zM479 405h2v3h-2zM479 456h2v3h-2zM481 414h2v6h-2zM481 459h2v2h-2zM483 411h2v3h-2zM483 423h2v3h-2zM485 411h2v3h-2zM485 429h2v3h-2zM485 438h2v3h-2zM485 447h2v3h-2zM485 456h2v3h-2zM487 336h2v12h-2zM487 408h2v3h-2zM487 459h2v2h-2z"/>
<path fill="#e76653" d="M455 345h2v12h-2zM455 417h2v6h-2zM455 426h2v6h-2zM457 414h2v3h-2zM457 420h2v3h-2zM457 432h2v3h-2zM457 459h2v2h-2zM465 441h2v3h-2zM465 447h2v3h-2zM467 438h2v6h-2zM469 453h2v3h-2zM473 444h2v6h-2zM475 417h2v3h-2zM475 423h2v3h-2zM475 429h2v6h-2zM475 456h2v5h-2zM477 414h2v3h-2zM477 438h2v3h-2zM477 456h2v3h-2zM479 408h2v3h-2zM479 417h2v3h-2zM479 426h2v3h-2zM481 408h2v3h-2zM481 423h2v6h-2zM483 438h2v3h-2zM485 420h2v3h-2zM485 450h2v3h-2zM487 411h2v3h-2zM487 420h2v3h-2zM487 456h2v3h-2z"/>
<path fill="#ef7446" d="M455 411h2v3h-2zM455 438h2v6h-2zM455 456h2v3h-2zM457 426h2v6h-2zM457 435h2v3h-2zM457 441h2v6h-2zM465 444h2v3h-2zM465 450h2v6h-2zM473 429h2v3h-2zM473 438h2v3h-2zM473 453h2v3h-2zM475 414h2v3h-2zM475 441h2v6h-2zM475 453h2v3h-2zM477 441h2v3h-2zM477 450h2v3h-2zM479 414h2v3h-2zM481 411h2v3h-2zM483 435h2v3h-2zM483 447h2v3h-2zM485 423h2v3h-2zM485 435h2v3h-2zM485 441h2v3h-2zM487 417h2v3h-2zM487 429h2v3h-2zM487 441h2v3h-2z"/>
<path fill="#f5853b" d="M455 414h2v3h-2zM457 417h2v3h-2zM457 453h2v3h-2zM467 444h2v12h-2zM473 441h2v3h-2zM473 450h2v3h-2zM475 450h2v3h-2zM477 423h2v3h-2zM477 447h2v3h-2zM479 411h2v3h-2zM479 438h2v3h-2zM479 447h2v3h-2zM481 435h2v3h-2zM481 447h2v3h-2zM483 420h2v3h-2zM483 429h2v3h-2zM487 414h2v3h-2zM487 432h2v3h-2zM487 438h2v3h-2z"/>
<path fill="#fb9630" d="M455 423h2v3h-2zM455 432h2v3h-2zM455 450h2v3h-2zM457 447h2v3h-2zM475 426h2v3h-2zM475 438h2v3h-2zM477 453h2v3h-2zM479 420h2v6h-2zM479 429h2v3h-2zM479 435h2v3h-2zM479 450h2v3h-2zM481 420h2v3h-2zM481 438h2v3h-2zM483 444h2v3h-2zM483 450h2v3h-2zM487 423h2v6h-2zM487 450h2v6h-2z"/>
<path fill="#fcab37" d="M455 435h2v3h-2zM455 447h2v3h-2zM455 453h2v3h-2zM457 438h2v3h-2zM457 450h2v3h-2zM475 435h2v3h-2zM475 447h2v3h-2zM477 432h2v6h-2zM481 429h2v3h-2zM481 444h2v3h-2zM481 450h2v3h-2zM483 432h2v3h-2zM483 441h2v3h-2zM485 432h2v3h-2zM485 444h2v3h-2zM487 444h2v3h-2z"/>
<path fill="#fec13f" d="M455 444h2v3h-2zM477 444h2v3h-2zM479 432h2v3h-2zM479 441h2v6h-2zM481 432h2v3h-2zM481 441h2v3h-2zM481 453h2v3h-2zM483 453h2v3h-2zM485 453h2v3h-2zM487 435h2v3h-2zM487 447h2v3h-2z"/>
<path fill="#ffd646" d="M479 453h2v3h-2z"/>
<rect x="491" y="330" width="39" height="134" fill="#5a2488" />
<path fill="#39166e" d="M515 333h2v3h-2zM525 333h2v3h-2z"/>
<path fill="#3f1875" d="M503 333h2v6h-2zM505 333h2v9h-2zM515 336h2v6h-2zM515 360h2v9h-2zM525 336h2v3h-2zM525 360h2v3h-2z"/>
<path fill="#471c7d" d="M503 339h2v6h-2zM503 354h2v6h-2zM505 342h2v9h-2zM505 354h2v6h-2zM511 333h2v3h-2zM515 342h2v9h-2zM515 354h2v6h-2zM515 369h2v6h-2zM517 333h2v3h-2zM523 333h2v3h-2zM525 339h2v6h-2zM525 354h2v6h-2zM525 363h2v18h-2zM525 396h2v3h-2zM527 333h1v6h-1z"/>
<path fill="#522186" d="M503 345h2v9h-2zM503 360h2v6h-2zM503 375h2v6h-2zM505 351h2v3h-2zM505 360h2v24h-2zM505 399h2v3h-2zM509 333h2v21h-2zM511 336h2v24h-2zM511 363h2v9h-2zM511 378h2v3h-2zM511 405h2v3h-2zM513 333h2v3h-2zM515 351h2v3h-2zM515 375h2v9h-2zM515 402h2v9h-2zM517 336h2v6h-2zM517 363h2v6h-2zM521 333h2v9h-2zM523 336h2v6h-2zM523 360h2v3h-2zM525 345h2v3h-2zM525 351h2v3h-2zM525 381h2v6h-2zM525 393h2v3h-2zM525 399h2v9h-2zM527 339h1v6h-1zM527 354h1v15h-1zM527 375h1v6h-1zM527 396h1v3h-1z"/>
<path fill="#5d258f" d="M503 366h2v9h-2zM503 381h2v3h-2zM503 396h2v12h-2zM505 384h2v3h-2zM505 393h2v6h-2zM505 402h2v12h-2zM507 333h2v24h-2zM507 360h2v3h-2zM509 354h2v9h-2zM509 372h2v12h-2zM509 402h2v6h-2zM511 360h2v3h-2zM511 372h2v6h-2zM511 381h2v6h-2zM511 399h2v6h-2zM511 408h2v6h-2zM513 336h2v3h-2zM513 360h2v3h-2zM513 366h2v9h-2zM515 384h2v18h-2zM515 411h2v3h-2zM515 417h2v6h-2zM517 342h2v6h-2zM517 354h2v9h-2zM517 369h2v9h-2zM519 333h2v9h-2zM519 360h2v3h-2zM521 342h2v3h-2zM521 357h2v18h-2zM523 342h2v3h-2zM523 354h2v6h-2zM523 363h2v9h-2zM523 375h2v3h-2zM525 348h2v3h-2zM525 387h2v6h-2zM525 408h2v3h-2zM525 423h2v3h-2zM527 345h1v3h-1zM527 369h1v6h-1zM527 381h1v6h-1zM527 390h1v6h-1zM527 399h1v6h-1z"/>
<path fill="#6c2b93" d="M493 354h2v9h-2zM503 384h2v12h-2zM503 408h2v9h-2zM505 387h2v6h-2zM505 414h2v6h-2zM507 357h2v3h-2zM507 363h2v21h-2zM507 393h2v3h-2zM507 402h2v9h-2zM509 363h2v9h-2zM509 384h2v18h-2zM509 408h2v6h-2zM511 387h2v12h-2zM513 339h2v21h-2zM513 363h2v3h-2zM513 375h2v6h-2zM513 405h2v3h-2zM515 414h2v3h-2zM515 423h2v6h-2zM517 348h2v6h-2zM517 378h2v6h-2zM517 405h2v6h-2zM519 342h2v6h-2zM519 357h2v3h-2zM519 363h2v9h-2zM521 345h2v3h-2zM521 354h2v3h-2zM521 375h2v6h-2zM521 423h2v3h-2zM523 345h2v9h-2zM523 372h2v3h-2zM523 378h2v9h-2zM523 393h2v12h-2zM525 411h2v3h-2zM525 417h2v6h-2zM525 426h2v6h-2zM527 348h1v6h-1zM527 387h1v3h-1zM527 405h1v6h-1z"/>
<path fill="#813191" d="M493 351h2v3h-2zM493 363h2v3h-2zM493 378h2v9h-2zM493 393h2v9h-2zM499 333h2v6h-2zM499 378h2v6h-2zM503 417h2v6h-2zM505 420h2v3h-2zM507 384h2v3h-2zM507 390h2v3h-2zM507 396h2v6h-2zM507 411h2v6h-2zM509 414h2v6h-2zM511 414h2v9h-2zM513 381h2v9h-2zM513 399h2v6h-2zM513 408h2v6h-2zM515 429h2v9h-2zM515 441h2v9h-2zM517 384h2v21h-2zM517 411h2v3h-2zM517 420h2v9h-2zM519 351h2v6h-2zM519 372h2v6h-2zM519 405h2v3h-2zM521 348h2v6h-2zM521 381h2v9h-2zM521 396h2v12h-2zM521 420h2v3h-2zM521 426h2v3h-2zM523 387h2v6h-2zM523 405h2v9h-2zM523 420h2v6h-2zM525 414h2v3h-2zM525 432h2v12h-2zM525 453h2v3h-2zM527 411h1v3h-1zM527 417h1v12h-1z"/>
<path fill="#96378f" d="M493 333h2v18h-2zM493 366h2v12h-2zM493 387h2v6h-2zM493 402h2v6h-2zM497 357h2v3h-2zM499 339h2v27h-2zM499 372h2v6h-2zM499 396h2v3h-2zM499 402h2v6h-2zM501 333h2v6h-2zM501 354h2v12h-2zM501 399h2v3h-2zM503 423h2v12h-2zM505 423h2v6h-2zM507 387h2v3h-2zM507 417h2v3h-2zM509 420h2v12h-2zM511 423h2v9h-2zM513 390h2v9h-2zM513 414h2v3h-2zM513 420h2v3h-2zM515 438h2v3h-2zM515 450h2v6h-2zM517 414h2v6h-2zM519 348h2v3h-2zM519 378h2v6h-2zM519 390h2v15h-2zM519 408h2v6h-2zM519 420h2v9h-2zM521 390h2v6h-2zM521 408h2v12h-2zM523 414h2v6h-2zM523 426h2v6h-2zM525 444h2v9h-2zM527 414h1v3h-1zM527 429h1v12h-1zM527 450h1v3h-1z"/>
<path fill="#aa3f88" d="M493 408h2v3h-2zM497 354h2v3h-2zM497 360h2v3h-2zM497 375h2v12h-2zM499 366h2v6h-2zM499 384h2v12h-2zM499 399h2v3h-2zM499 408h2v3h-2zM501 345h2v9h-2zM501 366h2v3h-2zM501 375h2v6h-2zM501 390h2v9h-2zM501 402h2v6h-2zM503 435h2v3h-2zM503 453h2v3h-2zM505 429h2v12h-2zM505 447h2v9h-2zM507 420h2v6h-2zM511 432h2v21h-2zM511 459h2v2h-2zM513 417h2v3h-2zM513 423h2v6h-2zM515 456h2v5h-2zM517 429h2v3h-2zM517 438h2v9h-2zM519 384h2v6h-2zM519 414h2v6h-2zM519 429h2v3h-2zM521 429h2v6h-2zM521 438h2v6h-2zM523 432h2v12h-2zM523 447h2v3h-2zM523 453h2v3h-2zM525 456h2v3h-2zM527 444h1v6h-1zM527 453h1v3h-1zM527 459h1v2h-1z"/>
<path fill="#bd487e" d="M493 417h2v3h-2zM493 426h2v3h-2zM495 351h2v15h-2zM495 378h2v6h-2zM495 393h2v3h-2zM497 333h2v6h-2zM497 351h2v3h-2zM497 363h2v12h-2zM497 387h2v3h-2zM497 393h2v15h-2zM499 411h2v3h-2zM501 339h2v6h-2zM501 369h2v6h-2zM501 381h2v9h-2zM501 408h2v3h-2zM503 438h2v15h-2zM503 456h2v5h-2zM505 441h2v6h-2zM505 456h2v5h-2zM507 426h2v6h-2zM507 456h2v3h-2zM509 432h2v9h-2zM509 444h2v6h-2zM509 453h2v8h-2zM511 453h2v6h-2zM513 429h2v21h-2zM513 456h2v5h-2zM517 432h2v6h-2zM517 447h2v14h-2zM519 441h2v3h-2zM519 456h2v5h-2zM521 435h2v3h-2zM521 444h2v17h-2zM523 444h2v3h-2zM523 450h2v3h-2zM523 456h2v5h-2zM525 459h2v2h-2zM527 441h1v3h-1zM527 456h1v3h-1z"/>
<path fill="#d05074" d="M493 414h2v3h-2zM493 429h2v3h-2zM493 438h2v3h-2zM493 459h2v2h-2zM495 333h2v3h-2zM495 345h2v6h-2zM495 366h2v12h-2zM495 384h2v9h-2zM495 396h2v15h-2zM497 339h2v12h-2zM497 390h2v3h-2zM497 408h2v3h-2zM499 414h2v6h-2zM499 423h2v6h-2zM499 435h2v3h-2zM499 456h2v5h-2zM501 411h2v6h-2zM501 420h2v12h-2zM501 456h2v5h-2zM507 432h2v6h-2zM507 453h2v3h-2zM507 459h2v2h-2zM509 441h2v3h-2zM509 450h2v3h-2zM513 450h2v6h-2zM519 432h2v9h-2zM519 444h2v12h-2z"/>
<path fill="#dc5b63" d="M493 411h2v3h-2zM493 447h2v3h-2zM493 456h2v3h-2zM495 336h2v9h-2zM495 459h2v2h-2zM497 411h2v3h-2zM497 423h2v3h-2zM497 432h2v3h-2zM497 456h2v3h-2zM499 420h2v3h-2zM499 429h2v6h-2zM499 438h2v3h-2zM501 417h2v3h-2zM501 432h2v3h-2zM507 438h2v15h-2z"/>
<path fill="#e76653" d="M493 420h2v3h-2zM493 450h2v3h-2zM495 411h2v3h-2zM495 417h2v6h-2zM497 420h2v3h-2zM497 444h2v3h-2zM497 459h2v2h-2zM499 444h2v9h-2zM501 435h2v6h-2z"/>
<path fill="#ef7446" d="M493 423h2v3h-2zM493 435h2v3h-2zM493 441h2v3h-2zM495 429h2v3h-2zM495 456h2v3h-2zM497 414h2v3h-2zM497 429h2v3h-2zM497 435h2v3h-2zM497 441h2v3h-2zM497 453h2v3h-2zM499 441h2v3h-2zM501 441h2v3h-2zM501 447h2v9h-2z"/>
<path fill="#f5853b" d="M495 414h2v3h-2zM495 438h2v6h-2zM495 450h2v3h-2zM497 417h2v3h-2zM497 426h2v3h-2zM499 453h2v3h-2zM501 444h2v3h-2z"/>
<path fill="#fb9630" d="M495 423h2v6h-2zM495 432h2v3h-2zM495 453h2v3h-2zM497 438h2v3h-2zM497 450h2v3h-2z"/>
<path fill="#fcab37" d="M493 432h2v3h-2zM493 444h2v3h-2zM493 453h2v3h-2zM495 444h2v6h-2zM497 447h2v3h-2z"/>
<path fill="#fec13f" d="M495 435h2v3h-2z"/>
<rect x="529" y="330" width="39" height="133" fill="#5a2488" />
<path fill="#3f1875" d="M531 333h2v3h-2zM533 333h2v3h-2z"/>
<path fill="#471c7d" d="M531 336h2v6h-2zM531 357h2v15h-2zM533 336h2v3h-2zM533 360h2v3h-2zM535 333h2v3h-2zM537 333h2v3h-2zM543 333h2v3h-2zM545 333h2v9h-2z"/>
<path fill="#522186" d="M531 342h2v3h-2zM531 354h2v3h-2zM531 372h2v6h-2zM533 339h2v6h-2zM533 354h2v6h-2zM533 363h2v9h-2zM535 336h2v3h-2zM535 360h2v3h-2zM537 336h2v6h-2zM537 357h2v12h-2zM543 336h2v6h-2zM543 360h2v3h-2zM543 381h2v3h-2zM545 342h2v3h-2zM545 357h2v6h-2zM545 375h2v6h-2zM545 384h2v3h-2zM545 393h2v3h-2z"/>
<path fill="#5d258f" d="M531 345h2v9h-2zM531 405h2v3h-2zM531 423h2v3h-2zM533 345h2v6h-2zM533 372h2v9h-2zM535 339h2v6h-2zM535 357h2v3h-2zM535 363h2v6h-2zM535 372h2v3h-2zM537 342h2v6h-2zM537 351h2v6h-2zM537 369h2v15h-2zM537 396h2v12h-2zM539 333h2v3h-2zM543 342h2v3h-2zM543 354h2v6h-2zM543 363h2v18h-2zM543 384h2v15h-2zM545 345h2v12h-2zM545 363h2v12h-2zM545 381h2v3h-2zM545 387h2v6h-2zM545 396h2v6h-2z"/>
<path fill="#6c2b93" d="M531 378h2v27h-2zM531 408h2v6h-2zM531 420h2v3h-2zM531 426h2v3h-2zM533 351h2v3h-2zM533 381h2v30h-2zM533 420h2v6h-2zM535 345h2v3h-2zM535 354h2v3h-2zM535 369h2v3h-2zM535 375h2v6h-2zM535 399h2v3h-2zM537 348h2v3h-2zM537 384h2v12h-2zM537 423h2v3h-2zM539 336h2v3h-2zM539 357h2v6h-2zM539 378h2v3h-2zM541 333h2v3h-2zM541 378h2v3h-2zM543 345h2v9h-2zM543 399h2v6h-2zM545 402h2v3h-2zM545 435h2v3h-2zM547 333h2v6h-2z"/>
<path fill="#813191" d="M531 414h2v6h-2zM531 429h2v3h-2zM533 411h2v9h-2zM533 426h2v6h-2zM535 348h2v6h-2zM535 381h2v6h-2zM535 390h2v9h-2zM535 402h2v9h-2zM535 423h2v6h-2zM537 408h2v6h-2zM537 417h2v6h-2zM537 426h2v6h-2zM539 339h2v12h-2zM539 354h2v3h-2zM539 363h2v15h-2zM539 381h2v6h-2zM539 396h2v6h-2zM541 336h2v6h-2zM541 360h2v18h-2zM541 381h2v6h-2zM541 390h2v9h-2zM543 405h2v6h-2zM543 426h2v12h-2zM545 405h2v12h-2zM545 423h2v6h-2zM545 432h2v3h-2zM545 438h2v3h-2zM545 444h2v6h-2zM547 339h2v3h-2zM549 333h2v6h-2zM559 333h2v3h-2z"/>
<path fill="#96378f" d="M531 432h2v15h-2zM533 432h2v3h-2zM533 438h2v3h-2zM533 444h2v3h-2zM533 450h2v3h-2zM535 387h2v3h-2zM535 411h2v3h-2zM535 417h2v6h-2zM537 414h2v3h-2zM537 432h2v6h-2zM539 351h2v3h-2zM539 387h2v9h-2zM539 402h2v6h-2zM541 342h2v3h-2zM541 348h2v12h-2zM541 387h2v3h-2zM541 399h2v3h-2zM543 411h2v15h-2zM543 438h2v6h-2zM543 447h2v9h-2zM545 417h2v3h-2zM547 342h2v3h-2zM547 357h2v9h-2zM547 369h2v12h-2zM547 384h2v18h-2zM549 339h2v3h-2zM549 387h2v3h-2zM551 333h2v6h-2zM553 333h2v9h-2zM557 333h2v3h-2zM559 336h2v3h-2zM561 333h2v3h-2z"/>
<path fill="#aa3f88" d="M531 447h2v9h-2zM533 435h2v3h-2zM533 441h2v3h-2zM533 447h2v3h-2zM533 453h2v3h-2zM533 459h2v1h-2zM535 414h2v3h-2zM535 429h2v12h-2zM537 438h2v18h-2zM539 408h2v6h-2zM539 429h2v6h-2zM541 345h2v3h-2zM541 402h2v9h-2zM541 429h2v6h-2zM543 444h2v3h-2zM543 459h2v1h-2zM545 420h2v3h-2zM545 429h2v3h-2zM545 441h2v3h-2zM545 453h2v7h-2zM547 345h2v6h-2zM547 366h2v3h-2zM547 381h2v3h-2zM547 402h2v3h-2zM547 408h2v6h-2zM549 342h2v3h-2zM549 360h2v27h-2zM549 390h2v21h-2zM551 339h2v6h-2zM551 387h2v3h-2zM553 342h2v3h-2zM553 387h2v3h-2zM559 339h2v3h-2zM559 393h2v6h-2zM561 336h2v3h-2zM563 333h2v3h-2zM565 333h1v6h-1z"/>
<path fill="#bd487e" d="M531 456h2v4h-2zM533 456h2v3h-2zM535 441h2v19h-2zM537 456h2v4h-2zM539 414h2v15h-2zM539 435h2v3h-2zM539 456h2v4h-2zM541 411h2v18h-2zM541 435h2v9h-2zM541 459h2v1h-2zM543 456h2v3h-2zM545 450h2v3h-2zM547 351h2v6h-2zM547 405h2v3h-2zM547 420h2v3h-2zM547 441h2v3h-2zM549 345h2v6h-2zM549 354h2v6h-2zM549 417h2v3h-2zM551 345h2v3h-2zM551 357h2v3h-2zM551 366h2v3h-2zM551 372h2v3h-2zM551 378h2v9h-2zM551 390h2v18h-2zM551 414h2v3h-2zM553 345h2v3h-2zM553 378h2v3h-2zM553 384h2v3h-2zM553 390h2v9h-2zM557 336h2v6h-2zM557 387h2v3h-2zM557 393h2v6h-2zM559 342h2v3h-2zM559 384h2v9h-2zM559 399h2v6h-2zM561 339h2v3h-2zM561 393h2v9h-2zM563 336h2v3h-2zM563 396h2v3h-2zM565 339h1v3h-1zM565 393h1v18h-1z"/>
<path fill="#d05074" d="M539 438h2v18h-2zM541 444h2v15h-2zM547 414h2v3h-2zM547 432h2v3h-2zM547 444h2v3h-2zM547 456h2v3h-2zM549 351h2v3h-2zM549 411h2v6h-2zM549 420h2v3h-2zM549 438h2v6h-2zM551 348h2v9h-2zM551 360h2v6h-2zM551 369h2v3h-2zM551 375h2v3h-2zM551 408h2v3h-2zM551 417h2v3h-2zM551 459h2v1h-2zM553 348h2v6h-2zM553 360h2v9h-2zM553 372h2v6h-2zM553 381h2v3h-2zM553 399h2v9h-2zM553 414h2v6h-2zM555 333h2v3h-2zM557 342h2v6h-2zM557 381h2v6h-2zM557 390h2v3h-2zM557 399h2v6h-2zM557 459h2v1h-2zM559 345h2v12h-2zM559 375h2v9h-2zM559 405h2v6h-2zM559 417h2v3h-2zM559 459h2v1h-2zM561 342h2v6h-2zM561 384h2v9h-2zM561 402h2v3h-2zM561 411h2v3h-2zM563 339h2v6h-2zM563 390h2v6h-2zM563 399h2v6h-2zM565 342h1v3h-1zM565 375h1v3h-1zM565 381h1v3h-1zM565 390h1v3h-1zM565 411h1v6h-1z"/>
<path fill="#dc5b63" d="M547 417h2v3h-2zM547 423h2v3h-2zM547 429h2v3h-2zM547 453h2v3h-2zM547 459h2v1h-2zM549 459h2v1h-2zM551 411h2v3h-2zM551 456h2v3h-2zM553 354h2v6h-2zM553 369h2v3h-2zM553 408h2v6h-2zM553 456h2v4h-2zM555 336h2v6h-2zM555 387h2v6h-2zM555 456h2v4h-2zM557 348h2v9h-2zM557 375h2v6h-2zM557 405h2v6h-2zM557 414h2v6h-2zM557 456h2v3h-2zM559 357h2v18h-2zM559 414h2v3h-2zM559 420h2v3h-2zM559 450h2v3h-2zM559 456h2v3h-2zM561 348h2v18h-2zM561 372h2v12h-2zM561 405h2v6h-2zM561 420h2v3h-2zM561 456h2v3h-2zM563 345h2v6h-2zM563 375h2v15h-2zM563 405h2v3h-2zM563 411h2v6h-2zM563 456h2v4h-2zM565 345h1v3h-1zM565 369h1v6h-1zM565 378h1v3h-1zM565 384h1v6h-1zM565 417h1v9h-1zM565 456h1v4h-1z"/>
<path fill="#e76653" d="M547 435h2v3h-2zM547 450h2v3h-2zM549 429h2v3h-2zM549 456h2v3h-2zM551 426h2v3h-2zM551 438h2v3h-2zM555 342h2v6h-2zM555 381h2v6h-2zM555 393h2v12h-2zM555 414h2v3h-2zM557 357h2v18h-2zM559 411h2v3h-2zM561 366h2v6h-2zM561 414h2v6h-2zM561 459h2v1h-2zM563 351h2v12h-2zM563 372h2v3h-2zM563 408h2v3h-2zM563 417h2v3h-2zM563 423h2v3h-2zM565 348h1v21h-1zM565 426h1v9h-1zM565 438h1v9h-1z"/>
<path fill="#ef7446" d="M547 438h2v3h-2zM549 426h2v3h-2zM549 450h2v3h-2zM551 447h2v3h-2zM553 426h2v3h-2zM553 438h2v3h-2zM553 447h2v3h-2zM555 348h2v3h-2zM555 354h2v3h-2zM555 375h2v6h-2zM555 405h2v3h-2zM555 417h2v3h-2zM557 411h2v3h-2zM557 426h2v3h-2zM557 447h2v3h-2zM559 426h2v6h-2zM561 423h2v3h-2zM561 429h2v3h-2zM561 441h2v3h-2zM561 453h2v3h-2zM563 363h2v9h-2zM563 420h2v3h-2zM563 426h2v3h-2zM563 435h2v3h-2zM565 435h1v3h-1zM565 447h1v6h-1z"/>
<path fill="#f5853b" d="M547 426h2v3h-2zM549 432h2v3h-2zM549 447h2v3h-2zM551 420h2v3h-2zM551 429h2v3h-2zM551 435h2v3h-2zM551 450h2v3h-2zM553 423h2v3h-2zM553 435h2v3h-2zM555 351h2v3h-2zM555 357h2v18h-2zM555 408h2v6h-2zM557 438h2v3h-2zM557 450h2v3h-2zM559 438h2v6h-2zM559 447h2v3h-2zM559 453h2v3h-2zM561 432h2v3h-2zM561 444h2v3h-2zM561 450h2v3h-2zM563 432h2v3h-2zM563 438h2v3h-2zM563 444h2v6h-2zM565 453h1v3h-1z"/>
<path fill="#fb9630" d="M547 447h2v3h-2zM549 423h2v3h-2zM549 444h2v3h-2zM549 453h2v3h-2zM551 423h2v3h-2zM551 441h2v3h-2zM553 420h2v3h-2zM553 444h2v3h-2zM555 423h2v6h-2zM555 447h2v3h-2zM557 420h2v6h-2zM557 429h2v3h-2zM559 423h2v3h-2zM563 429h2v3h-2zM563 441h2v3h-2zM563 450h2v6h-2z"/>
<path fill="#fcab37" d="M549 435h2v3h-2zM553 429h2v3h-2zM553 450h2v3h-2zM555 438h2v3h-2zM557 435h2v3h-2zM559 432h2v3h-2zM561 426h2v3h-2zM561 435h2v6h-2zM561 447h2v3h-2z"/>
<path fill="#fec13f" d="M551 432h2v3h-2zM551 444h2v3h-2zM551 453h2v3h-2zM553 432h2v3h-2zM553 441h2v3h-2zM553 453h2v3h-2zM555 420h2v3h-2zM555 429h2v9h-2zM555 441h2v6h-2zM555 450h2v3h-2zM557 432h2v3h-2zM557 441h2v6h-2zM557 453h2v3h-2zM559 435h2v3h-2zM559 444h2v3h-2z"/>
<path fill="#ffd646" d="M555 453h2v3h-2z"/>
</g></g>
<text x="408" y="321" font-size="31" text-anchor="middle" fill="#1a1a1a" font-weight="bold" textLength="121" lengthAdjust="spacingAndGlyphs" >Segment</text>
<path d="M251.0 193.8 L278.0 193.8" fill="none" stroke="#1a1a1a" stroke-width="3.8" stroke-linejoin="miter"/>
<polygon points="291.0,193.8 273.0,184.8 277.0,193.8 273.0,202.8" fill="#1a1a1a"/>
<rect x="291" y="142" width="170" height="101" fill="#dce8fa" rx="14" ry="14" stroke="#abc1e4" stroke-width="3" />
<text x="376" y="186" font-size="29" text-anchor="middle" fill="#1a1a1a" font-weight="bold" textLength="137" lengthAdjust="spacingAndGlyphs" >Perception</text>
<text x="376" y="222" font-size="29" text-anchor="middle" fill="#1a1a1a" font-weight="bold" textLength="152" lengthAdjust="spacingAndGlyphs" >Recognition</text>
<path d="M461.0 193.8 L488.0 193.8" fill="none" stroke="#1a1a1a" stroke-width="3.8" stroke-linejoin="miter"/>
<polygon points="501.0,193.8 483.0,184.8 487.0,193.8 483.0,202.8" fill="#1a1a1a"/>
<rect x="501" y="101" width="283" height="184" fill="#dce8fa" stroke="#abc1e4" stroke-width="3" />
<text x="643" y="152" font-size="29" text-anchor="middle" fill="#1a1a1a" textLength="247" lengthAdjust="spacingAndGlyphs" >Caption: A person is</text>
<text x="643" y="188" font-size="29" text-anchor="middle" fill="#1a1a1a" textLength="148" lengthAdjust="spacingAndGlyphs" >chopping …</text>
<text x="643" y="224" font-size="29" text-anchor="middle" fill="#1a1a1a" textLength="222" lengthAdjust="spacingAndGlyphs">Labels: <tspan font-weight="bold" fill="#d4702c">Chopping</tspan></text>
<text x="643" y="260" font-size="29" text-anchor="middle" font-weight="bold" fill="#d4702c" textLength="199" lengthAdjust="spacingAndGlyphs">sounds, <tspan fill="#c8171e">Speech.</tspan></text>
<path d="M643.0 286.0 L643.0 318.0 L704.5 318.0 L704.5 336.5" fill="none" stroke="#1a1a1a" stroke-width="3.8" stroke-linejoin="miter"/>
<polygon points="704.5,349.5 713.5,331.5 704.5,335.5 695.5,331.5" fill="#1a1a1a"/>
<path d="M233.0 398.0 L251.0 398.0" fill="none" stroke="#1a1a1a" stroke-width="3.8" stroke-linejoin="miter"/>
<polygon points="264.0,398.0 246.0,389.0 250.0,398.0 246.0,407.0" fill="#1a1a1a"/>
<path d="M566.0 398.0 L595.0 398.0" fill="none" stroke="#1a1a1a" stroke-width="3.8" stroke-linejoin="miter"/>
<polygon points="608.0,398.0 590.0,389.0 594.0,398.0 590.0,407.0" fill="#1a1a1a"/>
<rect x="608" y="350" width="193" height="95" fill="#dce8fa" rx="16" ry="16" stroke="#abc1e4" stroke-width="3" />
<text x="705" y="392" font-size="29" text-anchor="middle" fill="#1a1a1a" font-weight="bold" textLength="176" lengthAdjust="spacingAndGlyphs" >Segment-level</text>
<text x="705" y="428" font-size="29" text-anchor="middle" fill="#1a1a1a" font-weight="bold" textLength="172" lengthAdjust="spacingAndGlyphs" >Classification</text>
<path d="M802.0 398.0 L818.0 398.0" fill="none" stroke="#1a1a1a" stroke-width="3.8" stroke-linejoin="miter"/>
<polygon points="831.0,398.0 813.0,389.0 817.0,398.0 813.0,407.0" fill="#1a1a1a"/>
<rect x="831" y="104" width="274" height="373.8" fill="#dce8fa" stroke="#abc1e4" stroke-width="3" />
<text x="967" y="151" font-size="29" text-anchor="middle" fill="#1a1a1a" font-weight="bold" textLength="138" lengthAdjust="spacingAndGlyphs" >Structured</text>
<text x="967" y="193" font-size="29" text-anchor="middle" fill="#1a1a1a" font-weight="bold" textLength="221" lengthAdjust="spacingAndGlyphs" >Temporal Scripts</text>
<text x="967" y="235" font-size="29" text-anchor="middle" fill="#9fb6e0" textLength="238" lengthAdjust="spacingAndGlyphs" >Segment 0: Cutting,</text>
<text x="967" y="278" font-size="29" text-anchor="middle" fill="#9fb6e0" textLength="234" lengthAdjust="spacingAndGlyphs" >Loudness : medium</text>
<text x="969" y="319" font-size="29" text-anchor="middle" fill="#42639f" textLength="261" lengthAdjust="spacingAndGlyphs" >Segment 1: Speaking,</text>
<text x="967" y="361" font-size="29" text-anchor="middle" fill="#42639f" textLength="207" lengthAdjust="spacingAndGlyphs" >Loudness : Loud,</text>
<text x="967" y="404" font-size="29" text-anchor="middle" fill="#2f4878" textLength="226" lengthAdjust="spacingAndGlyphs">Segment <tspan font-weight="bold">N</tspan>: Event,</text>
<text x="967" y="445" font-size="29" text-anchor="middle" fill="#2f4878" textLength="149" lengthAdjust="spacingAndGlyphs" >Loudness,…</text>
<path d="M1106.0 443.7 L1135.0 443.7" fill="none" stroke="#1a1a1a" stroke-width="3.8" stroke-linejoin="miter"/>
<polygon points="1148.0,443.7 1130.0,434.7 1134.0,443.7 1130.0,452.7" fill="#1a1a1a"/>
<text x="1441" y="42" font-size="31" text-anchor="middle" fill="#1a1a1a" font-weight="bold" textLength="590" lengthAdjust="spacingAndGlyphs" >(b) Script-Guided Temporal Fusion Module</text>
<rect x="1145" y="90.5" width="135.5" height="56.0" fill="#f8cbad" stroke="#f4b183" stroke-width="3" />
<text x="1213" y="133" font-size="37" text-anchor="middle" fill="#1a1a1a" textLength="85" lengthAdjust="spacingAndGlyphs" >Video</text>
<rect x="1145" y="199" width="135.5" height="56" fill="#c8e2b8" stroke="#679a49" stroke-width="3" />
<text x="1213" y="241.5" font-size="37" text-anchor="middle" fill="#1a1a1a" textLength="88" lengthAdjust="spacingAndGlyphs" >Audio</text>
<rect x="1145" y="302" width="138" height="56" fill="#dddddd" stroke="#8e8e8e" stroke-width="3" />
<text x="1214" y="344" font-size="37" text-anchor="middle" fill="#1a1a1a" textLength="62" lengthAdjust="spacingAndGlyphs" >Text</text>
<path d="M1281.0 117.0 L1300.0 117.0" fill="none" stroke="#1a1a1a" stroke-width="3.8" stroke-linejoin="miter"/>
<polygon points="1313.0,117.0 1295.0,108.0 1299.0,117.0 1295.0,126.0" fill="#1a1a1a"/>
<path d="M1281.0 226.0 L1300.0 226.0" fill="none" stroke="#1a1a1a" stroke-width="3.8" stroke-linejoin="miter"/>
<polygon points="1313.0,226.0 1295.0,217.0 1299.0,226.0 1295.0,235.0" fill="#1a1a1a"/>
<path d="M1283.0 329.0 L1300.0 329.0" fill="none" stroke="#1a1a1a" stroke-width="3.8" stroke-linejoin="miter"/>
<polygon points="1313.0,329.0 1295.0,320.0 1299.0,329.0 1295.0,338.0" fill="#1a1a1a"/>
<rect x="1314" y="82" width="70" height="70" fill="#f8cbad" rx="12" ry="12" stroke="#f4b183" stroke-width="3" />
<text x="1331" y="130" font-size="36" font-style="italic" fill="#1a1a1a" text-anchor="start">F<tspan font-size="29" dy="9" dx="-5">v</tspan></text>
<rect x="1314" y="192" width="70" height="69.5" fill="#c8e2b8" rx="12" ry="12" stroke="#679a49" stroke-width="3" />
<text x="1330" y="240" font-size="36" font-style="italic" fill="#1a1a1a" text-anchor="start">F<tspan font-size="29" dy="9" dx="-4">a</tspan></text>
<rect x="1314" y="295.5" width="70" height="69.0" fill="#dddddd" rx="12" ry="12" stroke="#8e8e8e" stroke-width="3" />
<text x="1331" y="342" font-size="36" font-style="italic" fill="#1a1a1a" text-anchor="start">F<tspan font-size="29" dy="9" dx="-2">t</tspan></text>
<path d="M1384.0 117.0 L1404.0 117.0" fill="none" stroke="#1a1a1a" stroke-width="3.8" stroke-linejoin="miter"/>
<polygon points="1417.0,117.0 1399.0,108.0 1403.0,117.0 1399.0,126.0" fill="#1a1a1a"/>
<path d="M1384.0 226.0 L1404.0 226.0" fill="none" stroke="#1a1a1a" stroke-width="3.8" stroke-linejoin="miter"/>
<polygon points="1417.0,226.0 1399.0,217.0 1403.0,226.0 1399.0,235.0" fill="#1a1a1a"/>
<path d="M1384.0 329.0 L1404.0 329.0" fill="none" stroke="#1a1a1a" stroke-width="3.8" stroke-linejoin="miter"/>
<polygon points="1417.0,329.0 1399.0,320.0 1403.0,329.0 1399.0,338.0" fill="#1a1a1a"/>
<rect x="1417" y="83" width="54" height="284" fill="#fbe4d5" rx="10" ry="10" stroke="#f4b183" stroke-width="3" />
<text transform="translate(1456,225) rotate(-90)" font-size="36" text-anchor="middle" fill="#1a1a1a" textLength="212" lengthAdjust="spacingAndGlyphs">Joint Attention</text>
<path d="M1471.0 117.0 L1494.0 117.0" fill="none" stroke="#1a1a1a" stroke-width="3.8" stroke-linejoin="miter"/>
<polygon points="1507.0,117.0 1489.0,108.0 1493.0,117.0 1489.0,126.0" fill="#1a1a1a"/>
<path d="M1471.0 225.0 L1491.0 225.0" fill="none" stroke="#1a1a1a" stroke-width="3.8" stroke-linejoin="miter"/>
<polygon points="1504.0,225.0 1486.0,216.0 1490.0,225.0 1486.0,234.0" fill="#1a1a1a"/>
<path d="M1471.0 327.0 L1491.0 327.0" fill="none" stroke="#1a1a1a" stroke-width="3.8" stroke-linejoin="miter"/>
<polygon points="1504.0,327.0 1486.0,318.0 1490.0,327.0 1486.0,336.0" fill="#1a1a1a"/>
<rect x="1508" y="82" width="70" height="70" fill="#f8cbad" rx="12" ry="12" stroke="#f4b183" stroke-width="3" />
<text x="1525" y="130" font-size="36" font-style="italic" fill="#1a1a1a" text-anchor="start">F<tspan font-size="29" dy="9" dx="-5">v</tspan></text>
<rect x="1504" y="190" width="70" height="70" fill="#c8e2b8" rx="12" ry="12" stroke="#679a49" stroke-width="3" />
<text x="1509" y="238" font-size="36" font-style="italic" fill="#1a1a1a">F<tspan font-size="30" dy="9" dx="4">a</tspan><tspan font-size="26" dy="-6">′</tspan></text>
<rect x="1504" y="293" width="70" height="69" fill="#dddddd" rx="12" ry="12" stroke="#8e8e8e" stroke-width="3" />
<text x="1521" y="339" font-size="36" font-style="italic" fill="#1a1a1a" text-anchor="start">F<tspan font-size="29" dy="9" dx="-2">t</tspan></text>
<path d="M1574.0 225.5 L1596.8 225.5" fill="none" stroke="#1a1a1a" stroke-width="3.8" stroke-linejoin="miter"/>
<polygon points="1609.8,225.5 1591.8,216.5 1595.8,225.5 1591.8,234.5" fill="#1a1a1a"/>
<rect x="1609.8" y="82.4" width="54.700000000000045" height="284.6" fill="#fff2cc" stroke="#ffd966" stroke-width="3" />
<text transform="translate(1651.5,224.5) rotate(-90)" font-size="32.5" text-anchor="middle" fill="#1a1a1a" textLength="235" lengthAdjust="spacing">Interleaved Rope</text>
<path d="M1665.0 225.0 L1674.0 225.0" fill="none" stroke="#1a1a1a" stroke-width="3.8" stroke-linejoin="miter"/>
<polygon points="1687.0,225.0 1669.0,216.0 1673.0,225.0 1669.0,234.0" fill="#1a1a1a"/>
<rect x="1687" y="60" width="53" height="431" fill="#fbe4d5" rx="10" ry="10" stroke="#f4b183" stroke-width="3" />
<text transform="translate(1726,275.5) rotate(-90)" font-size="36" text-anchor="middle" fill="#1a1a1a" textLength="377" lengthAdjust="spacingAndGlyphs">Temporal Script Attention</text>
<text x="1221" y="400" font-size="28" text-anchor="middle" fill="#1a1a1a" font-weight="bold" textLength="95" lengthAdjust="spacingAndGlyphs" >Pooling</text>
<rect x="1148" y="416" width="140" height="55" fill="#bfd8ee" rx="10" ry="10" stroke="#4585c6" stroke-width="3" />
<text x="1218" y="456.8" font-size="35" text-anchor="middle" fill="#1a1a1a" font-weight="bold" textLength="77" lengthAdjust="spacingAndGlyphs" >CLIP</text>
<path d="M1288.0 443.7 L1310.0 443.7" fill="none" stroke="#1a1a1a" stroke-width="3.8" stroke-linejoin="miter"/>
<polygon points="1323.0,443.7 1305.0,434.7 1309.0,443.7 1305.0,452.7" fill="#1a1a1a"/>
<rect x="1323" y="398" width="222" height="92" fill="#eeeaf8" rx="8" ry="8" stroke="#1f3864" stroke-width="3" />
<rect x="1341.6" y="408.5" width="24.200000000000045" height="40.0" fill="#dde3f4" rx="5" ry="5" stroke="#b6c8ea" stroke-width="3" />
<rect x="1373.7" y="408.5" width="24.200000000000045" height="40.0" fill="#dde3f4" rx="5" ry="5" stroke="#b6c8ea" stroke-width="3" />
<rect x="1405.7" y="408.5" width="24.200000000000045" height="40.0" fill="#bccbea" rx="5" ry="5" stroke="#a2b7e3" stroke-width="3" />
<rect x="1437.8" y="408.5" width="24.200000000000045" height="40.0" fill="#bccbea" rx="5" ry="5" stroke="#a2b7e3" stroke-width="3" />
<rect x="1469.8" y="408.5" width="24.200000000000045" height="40.0" fill="#9ab1e0" rx="5" ry="5" stroke="#4668aa" stroke-width="3" />
<rect x="1501.9" y="408.5" width="24.200000000000045" height="40.0" fill="#9ab1e0" rx="5" ry="5" stroke="#4668aa" stroke-width="3" />
<path d="M1340.5 452 V459.7 Q1340.5 462.7 1343.5 462.7 H1366 Q1369.2 462.7 1369.2 466 V472.5 V466 Q1369.2 462.7 1372.4 462.7 H1395.5 Q1398.5 462.7 1398.5 459.7 V452" fill="none" stroke="#4a6cab" stroke-width="2.8" stroke-linecap="round" stroke-linejoin="round"/>
<text x="1404.5" y="487" font-size="36" fill="#1a1a1a">×</text>
<text x="1429.5" y="482.7" font-size="26" font-style="italic" font-weight="bold" fill="#1a1a1a">T</text>
<text x="1472" y="479.2" font-size="33" font-style="italic" font-weight="bold" fill="#1a1a1a">F<tspan font-size="28" dy="6.4" dx="1" letter-spacing="1.5">tsr</tspan></text>
<path d="M1545.0 443.5 L1637.0 443.5 L1637.0 381.5" fill="none" stroke="#1a1a1a" stroke-width="3.8" stroke-linejoin="miter"/>
<polygon points="1637.0,368.5 1628.0,386.5 1637.0,382.5 1646.0,386.5" fill="#1a1a1a"/>
<path d="M1132 523.5 V531.5 Q1132 534.5 1135 534.5 H1945.2 Q1948.2 534.5 1948.2 531.5 V523.5 M1540 534.5 V546" fill="none" stroke="#a9a6c2" stroke-width="3.2" stroke-linecap="round"/>
<text x="1469.5" y="570" font-size="42" fill="#a9a6c2">×</text>
<text x="1500.5" y="567.5" font-size="33" fill="#a9a6c2" font-style="italic">N<tspan font-size="22" dy="8" dx="1" font-style="normal">1</tspan></text>
<text x="1552" y="567.5" font-size="33" fill="#a9a6c2" font-style="italic" textLength="92" lengthAdjust="spacing">blocks</text>
<rect x="1761" y="351" width="55" height="167.5" fill="#ebe8f7" rx="10" ry="10" stroke="#aaa8c8" stroke-width="3" />
<text transform="translate(1801,435) rotate(-90)" font-size="32" text-anchor="middle" fill="#1a1a1a" textLength="113" lengthAdjust="spacingAndGlyphs">SG-TFM</text>
<rect x="1827" y="351" width="55" height="167.5" fill="#ebe8f7" rx="10" ry="10" stroke="#aaa8c8" stroke-width="3" />
<text transform="translate(1867,435) rotate(-90)" font-size="32" text-anchor="middle" fill="#1a1a1a" textLength="113" lengthAdjust="spacingAndGlyphs">SG-TFM</text>
<rect x="1893" y="351" width="55" height="167.5" fill="#ebe8f7" rx="10" ry="10" stroke="#aaa8c8" stroke-width="3" />
<text transform="translate(1933,435) rotate(-90)" font-size="32" text-anchor="middle" fill="#1a1a1a" textLength="113" lengthAdjust="spacingAndGlyphs">SG-TFM</text>
<rect x="1959" y="351" width="55" height="167.5" fill="#ececec" rx="10" ry="10" stroke="#d2d2d2" stroke-width="3" />
<text transform="translate(1998.5,435) rotate(-90)" font-size="32" text-anchor="middle" fill="#1a1a1a" textLength="79" lengthAdjust="spacingAndGlyphs">Single</text>
<rect x="2024" y="351" width="55" height="167.5" fill="#ececec" rx="10" ry="10" stroke="#d2d2d2" stroke-width="3" />
<text transform="translate(2063.5,435) rotate(-90)" font-size="32" text-anchor="middle" fill="#1a1a1a" textLength="79" lengthAdjust="spacingAndGlyphs">Single</text>
<path d="M1959.8 523.5 V532.4 Q1959.8 535.4 1962.8 535.4 H2075.7 Q2078.7 535.4 2078.7 532.4 V523.5 M2019.2 535.4 V547.4" fill="none" stroke="#8e8e8e" stroke-width="3.2" stroke-linecap="round"/>
<text x="1932.5" y="579.5" font-size="42" fill="#8e8e8e">×</text>
<text x="1963" y="577" font-size="33" fill="#8e8e8e" font-style="italic">N<tspan font-size="22" dy="8" dx="1" font-style="normal">2</tspan></text>
<text x="2016" y="577" font-size="33" fill="#8e8e8e" font-style="italic" textLength="92" lengthAdjust="spacing">blocks</text>
<rect x="2090.3" y="431.3" width="9.0" height="9.399999999999977" fill="#1a1a1a" />
<rect x="2110.6" y="431.3" width="9.0" height="9.399999999999977" fill="#1a1a1a" />
<rect x="2131.3" y="431.3" width="9.0" height="9.399999999999977" fill="#1a1a1a" />
<path d="M2148.0 435.5 L2161.0 435.5" fill="none" stroke="#1a1a1a" stroke-width="3.8" stroke-linejoin="miter"/>
<polygon points="2174.0,435.5 2156.0,426.5 2160.0,435.5 2156.0,444.5" fill="#1a1a1a"/>
<polygon points="2175,387 2292,359 2292,510 2175,482" fill="#c5e0b4" stroke="#629540" stroke-width="3.2" stroke-linejoin="round"/>
<text x="2232" y="448" font-size="37" text-anchor="middle" fill="#1a1a1a" textLength="67" lengthAdjust="spacingAndGlyphs" >VAE</text>
<path d="M2293.0 435.2 L2316.0 435.2" fill="none" stroke="#1a1a1a" stroke-width="3.8" stroke-linejoin="miter"/>
<polygon points="2329.0,435.2 2311.0,426.2 2315.0,435.2 2311.0,444.2" fill="#1a1a1a"/>
<g filter="url(#b1)">
<rect x="2329.0" y="427.5" width="6.2" height="17.0" rx="3.1" fill="#141414"/>
<rect x="2340.8" y="421.2" width="6.2" height="29.6" rx="3.1" fill="#141414"/>
<rect x="2352.5" y="413.0" width="6.2" height="46.0" rx="3.1" fill="#141414"/>
<rect x="2364.4" y="421.5" width="6.2" height="29.0" rx="3.1" fill="#141414"/>
<rect x="2376.2" y="426.5" width="6.2" height="19.0" rx="3.1" fill="#141414"/>
<rect x="2388.3" y="416.7" width="6.2" height="38.6" rx="3.1" fill="#141414"/>
<rect x="2400.2" y="408.8" width="6.2" height="54.4" rx="3.1" fill="#141414"/>
<rect x="2411.8" y="426.5" width="6.2" height="19.0" rx="3.1" fill="#141414"/>
</g>
<text x="2370" y="504.5" font-size="28" text-anchor="middle" fill="#1a1a1a" font-weight="bold" textLength="77" lengthAdjust="spacingAndGlyphs" >Audio</text>
<text x="2092" y="40" font-size="31" text-anchor="middle" fill="#1a1a1a" font-weight="bold" textLength="399" lengthAdjust="spacingAndGlyphs" >(c) Bi-Frame Sound Synthesis</text>
<rect x="1781" y="106" width="78" height="185" fill="#e2efda" rx="14" ry="14" stroke="#679a49" stroke-width="3" />
<rect x="1794" y="120" width="53" height="35.5" fill="#a9d18e" rx="8" ry="8" stroke="#679a49" stroke-width="3" />
<rect x="1794" y="162" width="53" height="35.5" fill="#a9d18e" rx="8" ry="8" stroke="#679a49" stroke-width="3" />
<rect x="1794" y="204.5" width="53" height="35.5" fill="#a9d18e" rx="8" ry="8" stroke="#679a49" stroke-width="3" />
<rect x="1794" y="246.5" width="53" height="35.5" fill="#a9d18e" rx="8" ry="8" stroke="#679a49" stroke-width="3" />
<text x="1786" y="331" font-size="34" font-style="italic" fill="#1a1a1a">F<tspan font-size="26" dy="8" dx="-3">a</tspan><tspan font-size="24" dy="-27" dx="-5" font-style="normal">(</tspan><tspan font-size="24">l</tspan><tspan font-size="24" font-style="normal">−1)</tspan></text>
<g filter="url(#sh2)">
<rect x="1926" y="56" width="77" height="56" fill="#b9c9e9" rx="9" ry="9" stroke="#4468b2" stroke-width="3" />
<rect x="1902" y="57" width="78" height="55" fill="#b2b0b0" rx="9" ry="9" stroke="#8b8888" stroke-width="3" />
<rect x="1875" y="57" width="79" height="56" fill="#f8cbad" rx="10" ry="10" stroke="#f4b183" stroke-width="3" />
</g>
<text x="1896" y="97" font-size="36" font-style="italic" fill="#1a1a1a" text-anchor="start">F<tspan font-size="29" dy="9" dx="-5">v</tspan></text>
<g filter="url(#sh2)">
<rect x="1923" y="278" width="74" height="56.19999999999999" fill="#b9c9e9" rx="9" ry="9" stroke="#4468b2" stroke-width="3" />
<rect x="1906" y="279.6" width="71" height="56.19999999999999" fill="#b2b0b0" rx="9" ry="9" stroke="#8b8888" stroke-width="3" />
<rect x="1880.5" y="279" width="76.5" height="55.5" fill="#f8cbad" rx="10" ry="10" stroke="#f4b183" stroke-width="3" />
</g>
<text x="1897.6" y="319" font-size="36" font-style="italic" fill="#1a1a1a">F</text>
<text transform="translate(1915.5,326.5) scale(0.72,1)" font-size="26" font-style="italic" fill="#1a1a1a">Ø</text>
<text x="1895" y="145" font-size="27" text-anchor="middle" fill="#1a1a1a" font-weight="bold" textLength="60" lengthAdjust="spacingAndGlyphs" >Copy</text>
<path d="M2003.0 85.0 L2094.0 85.0 L2094.0 96.0" fill="none" stroke="#c9682a" stroke-width="3.8" stroke-linejoin="miter"/>
<polygon points="2094.0,109.0 2102.5,91.0 2094.0,95.0 2085.5,91.0" fill="#c9682a"/>
<path d="M1898.0 197.0 L1898.0 156.0 L1924.0 156.0" fill="none" stroke="#c9682a" stroke-width="3.8" stroke-linejoin="miter"/>
<polygon points="1937.0,156.0 1919.0,147.5 1923.0,156.0 1919.0,164.5" fill="#c9682a"/>
<path d="M1858.0 197.0 L1898.0 197.0 L1898.0 239.0 L1924.0 239.0" fill="none" stroke="#2e7dc8" stroke-width="3.8" stroke-linejoin="miter"/>
<polygon points="1937.0,239.0 1919.0,230.5 1923.0,239.0 1919.0,247.5" fill="#2e7dc8"/>
<path d="M2029.0 156.0 L2068.0 156.0" fill="none" stroke="#c9682a" stroke-width="3.8" stroke-linejoin="miter"/>
<path d="M2029.0 239.0 L2068.0 239.0" fill="none" stroke="#2e7dc8" stroke-width="3.8" stroke-linejoin="miter"/>
<path d="M2122.0 156.0 L2141.0 156.0" fill="none" stroke="#c9682a" stroke-width="3.8" stroke-linejoin="miter"/>
<polygon points="2154.0,156.0 2136.0,147.5 2140.0,156.0 2136.0,164.5" fill="#c9682a"/>
<path d="M2122.0 239.0 L2141.0 239.0" fill="none" stroke="#2e7dc8" stroke-width="3.8" stroke-linejoin="miter"/>
<polygon points="2154.0,239.0 2136.0,230.5 2140.0,239.0 2136.0,247.5" fill="#2e7dc8"/>
<path d="M1998.0 306.0 L2094.0 306.0 L2094.0 290.8" fill="none" stroke="#2e7dc8" stroke-width="3.8" stroke-linejoin="miter"/>
<polygon points="2094.0,277.8 2085.5,295.8 2094.0,291.8 2102.5,295.8" fill="#2e7dc8"/>
<rect x="1936" y="125" width="94" height="62" fill="#c8e2b8" rx="10" ry="10" stroke="#679a49" stroke-width="3" />
<rect x="1936" y="213" width="94" height="54" fill="#c8e2b8" rx="10" ry="10" stroke="#679a49" stroke-width="3" />
<text x="1942" y="167" font-size="31" font-style="italic" fill="#1a1a1a">F<tspan font-size="24" dy="11" dx="-6">a,in</tspan></text>
<text x="1962" y="150" font-size="26" font-style="italic" fill="#1a1a1a"><tspan font-style="normal">(</tspan>l<tspan font-style="normal">−1)</tspan></text>
<text x="1942" y="251" font-size="31" font-style="italic" fill="#1a1a1a">F<tspan font-size="24" dy="11" dx="-6">a,out</tspan></text>
<text x="1962" y="234" font-size="26" font-style="italic" fill="#1a1a1a"><tspan font-style="normal">(</tspan>l<tspan font-style="normal">−1)</tspan></text>
<rect x="2067" y="109" width="55" height="167" fill="#ebe8f7" rx="10" ry="10" stroke="#aaa8c8" stroke-width="3" />
<text transform="translate(2106,193) rotate(-90)" font-size="32" text-anchor="middle" fill="#1a1a1a" textLength="112" lengthAdjust="spacingAndGlyphs">SG-TFM</text>
<text x="2215" y="108" font-size="29" text-anchor="middle" fill="#c9682a" textLength="110" lengthAdjust="spacingAndGlyphs" >In-Frame</text>
<text x="2219" y="304" font-size="29" text-anchor="middle" fill="#2e75b6" textLength="166" lengthAdjust="spacingAndGlyphs" >Out-of-Frame</text>
<rect x="2154" y="128" width="93.5" height="57" fill="#f8cbad" rx="9" ry="9" stroke="#c9682a" stroke-width="3" />
<rect x="2154" y="213" width="93.5" height="54" fill="#bdd7ee" rx="9" ry="9" stroke="#2e7dc8" stroke-width="3" />
<text x="2174" y="168" font-size="31" font-style="italic" fill="#1a1a1a">F<tspan font-size="24" dy="9" dx="-1">a</tspan><tspan font-size="18" dy="5">in</tspan></text>
<text x="2193" y="154" font-size="26" font-style="italic" fill="#1a1a1a"><tspan font-style="normal">(</tspan>l<tspan font-style="normal">)</tspan></text>
<text x="2168" y="251" font-size="31" font-style="italic" fill="#1a1a1a">F<tspan font-size="24" dy="9" dx="-1">a</tspan><tspan font-size="18" dy="5">out</tspan></text>
<text x="2188" y="238" font-size="26" font-style="italic" fill="#1a1a1a"><tspan font-style="normal">(</tspan>l<tspan font-style="normal">)</tspan></text>
<text x="2290" y="148" font-size="27" text-anchor="middle" fill="#1a1a1a" font-weight="bold" textLength="53" lengthAdjust="spacingAndGlyphs" >Fuse</text>
<path d="M2248.0 156.0 L2283.0 156.0 L2283.0 192.0" fill="none" stroke="#c9682a" stroke-width="3.8" stroke-linejoin="miter"/>
<path d="M2248.0 239.0 L2283.0 239.0 L2283.0 191.0 L2306.0 191.0" fill="none" stroke="#2e7dc8" stroke-width="3.8" stroke-linejoin="miter"/>
<polygon points="2319.0,191.0 2301.0,182.5 2305.0,191.0 2301.0,199.5" fill="#2e7dc8"/>
<rect x="2319" y="100" width="80" height="185" fill="#e2efda" rx="14" ry="14" stroke="#679a49" stroke-width="3" />
<rect x="2333" y="114" width="53.5" height="36" fill="#bdd7ee" rx="8" ry="8" stroke="#2e7dc8" stroke-width="3" />
<rect x="2333" y="156" width="53.5" height="36" fill="#f8cbad" rx="8" ry="8" stroke="#c9682a" stroke-width="3" />
<rect x="2333" y="198" width="53.5" height="36" fill="#bdd7ee" rx="8" ry="8" stroke="#2e7dc8" stroke-width="3" />
<rect x="2333" y="240" width="53.5" height="36" fill="#f8cbad" rx="8" ry="8" stroke="#c9682a" stroke-width="3" />
<text x="2333" y="326" font-size="34" font-style="italic" fill="#1a1a1a">F<tspan font-size="26" dy="8" dx="-3">a</tspan><tspan font-size="24" dy="-27" dx="-8" font-style="normal">(</tspan><tspan font-size="24">l</tspan><tspan font-size="24" font-style="normal">)</tspan></text>
</svg>
</body></html>
